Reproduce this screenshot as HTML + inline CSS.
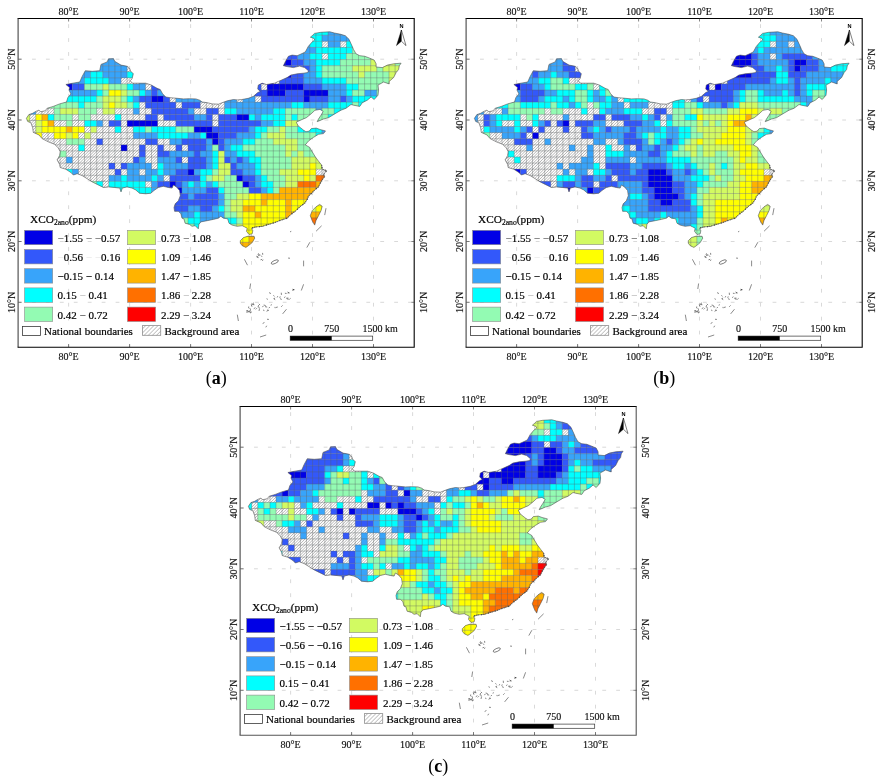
<!DOCTYPE html>
<html lang="en"><head><meta charset="utf-8"><title>XCO2 anomaly maps</title>
<style>html,body{margin:0;padding:0;background:#fff}svg{display:block;font-family:"Liberation Serif",serif}</style></head><body>
<svg width="882" height="782" viewBox="0 0 882 782">
<defs>
<clipPath id="china"><path d="M26.4 118.3 L28.9 114.6 L32.7 113.3 L35.8 111.4 L38.9 110.2 L40.8 111.7 L45.2 110.8 L47.1 108.3 L53.3 106.4 L59.6 103.9 L66.5 102 L67.8 97.7 L70.9 93.9 L69 90.1 L69.6 87.6 L65.9 84.5 L72.8 83.2 L79.7 82 L82.2 76.4 L85.3 70.7 L92.2 71.3 L99.7 70.7 L101 64.4 L107.2 61.9 L108.5 58.8 L113.5 58.6 L114.7 61.3 L121 65.1 L127.3 66.3 L129.5 68.2 L130.8 71.3 L133.3 73.8 L132 78.9 L130.1 80.7 L132.6 83.2 L139.5 83.2 L145.8 83.2 L151.4 85.1 L157.1 88.3 L160.2 89.5 L162.7 93.9 L165.8 97 L170.2 97.7 L177.1 98.3 L183.4 98.9 L189.7 98.7 L195.9 98.9 L199.7 100.2 L202.2 102 L207.2 102.7 L212.2 103.9 L218.5 104.2 L222.2 102.7 L227.3 100.8 L233.5 99.5 L237.3 99.9 L242 99.5 L248.3 98.3 L253.3 96.4 L257.7 92.6 L260.2 91.4 L257.7 88.9 L258.3 85.1 L262.1 83.2 L266.4 84.5 L274.6 83.2 L278.4 81.4 L287.1 77.6 L290.9 75.1 L297.2 73.8 L303.4 73.2 L307.8 72.6 L308.4 70.7 L304.7 67.6 L299.7 66.1 L293.4 67.6 L287.1 66.6 L283.4 65.7 L285.2 61.9 L288.4 56.3 L292.1 55.1 L297.2 55.7 L302.2 53.5 L305.3 51.9 L308.4 46.3 L312.2 41.9 L314.7 40 L314 38.4 L310.4 37.2 L312.2 35.7 L314.5 33.4 L320.8 32.3 L329.9 31.8 L334.4 33 L340.8 34.3 L345.3 35.7 L349 39.3 L351.6 45 L353.5 49.4 L356 53.8 L359.8 55.7 L364.8 56.3 L369.8 58.2 L374.2 60.1 L376.1 63.8 L376.1 67 L382.3 67.6 L387.4 65.1 L393.6 63.8 L401.1 63.2 L399.3 65.7 L398.6 69.5 L396.1 72.6 L393.6 77.6 L389.2 81.4 L389.2 83.9 L383.6 82 L378 85.1 L378.6 90.1 L378 95.2 L374.2 99.5 L371.1 97 L367.3 100.2 L362.3 102.7 L359.8 106.4 L353.5 105.2 L351 104.5 L346 108.3 L341 110.2 L334.7 113.9 L328.5 117.7 L323.5 119 L317.2 121.7 L318.5 119 L321 115.2 L323.2 111.4 L320 109.4 L314.9 110.3 L310.8 114.1 L306.3 117.7 L300.9 120 L296.3 122.2 L298.2 125.9 L303.2 129.9 L305.9 131.7 L309.1 131.2 L311.3 128.6 L316.3 128.1 L320 129.5 L325.5 130.9 L323.5 133.6 L318.5 134.3 L313.4 137.4 L308.4 141.1 L305.3 144.9 L309.7 147.4 L312.2 151.8 L315.3 156.8 L318.5 161.2 L321.6 165 L322.2 169.3 L326.6 170.6 L323.5 174.4 L324.7 176.2 L322.2 180 L320.3 183.1 L318.5 186.9 L314.7 190 L311.6 193.2 L308.4 196.3 L307.2 199.4 L304.7 203.2 L299.7 206.9 L295.9 210.7 L290.9 214.5 L287.1 218.2 L280.9 220.1 L274.6 222.6 L268.3 224.5 L262.1 226.4 L255.9 226.9 L251.5 228.2 L252.8 230.7 L252.2 233.8 L249 234.5 L246.5 231.3 L247.2 228.2 L244.7 226.9 L242.2 225.7 L237.1 226.3 L232.1 225.1 L229 223.2 L227.7 218.8 L223.4 218.2 L220.8 216.3 L218.3 218.2 L213.3 219.4 L207.1 220.7 L200.8 221.9 L198.9 224.4 L198.3 228.8 L195.2 225.7 L192 226.3 L189.5 224.4 L185.1 223.2 L183.9 218.8 L182 218.2 L180.9 213.8 L178.4 211.3 L174.6 211.3 L174 207.6 L175.2 203.8 L178.4 200.7 L180.3 195.7 L179.6 190.6 L176.5 186.9 L173.4 185 L172.1 188.1 L168.4 187.5 L163.3 186.3 L158.3 187.5 L153.9 190.6 L150.8 193.2 L145.8 193.8 L139.5 193.2 L135.8 190 L132 188.1 L127 186.9 L122.3 188.1 L121 191.9 L119.8 188.1 L114.7 187.5 L108.5 186.9 L103.5 187.5 L97.2 184.4 L92.2 181.9 L87.2 178.7 L82.2 175.6 L77.2 173.7 L73.4 175 L70.9 172.5 L65.9 169.3 L60.2 167.5 L59.6 164.3 L57.1 159.9 L59.6 155.6 L60.2 151.8 L58.4 148 L54.6 144.3 L48.3 141.8 L42.1 138.6 L38.9 134.9 L33.3 132.4 L32.7 127.7 L30.8 122.7 L27.7 121.5ZM240.3 240.7 L243.4 237.6 L248.4 236.1 L254.1 236.3 L254.7 238.2 L252.2 242.6 L248.4 245.7 L245.9 247.4 L242.2 245.7 L240.3 243.2ZM319.7 204.4 L322.2 206.3 L321 210.7 L318.5 215.7 L315.9 220.7 L314.7 225.1 L312.2 220.7 L310.3 215.7 L312.2 210.7 L315.9 206.9Z"/></clipPath></defs>
<rect width="882" height="782" fill="#fff"/>
<g transform="translate(0 0)">
<path d="M68.6 24.2V347M129.6 24.2V347M190.6 24.2V347M251.5 24.2V347M312.5 24.2V347M373.5 24.2V347M18.1 302.3H414.5M18.1 241.5H414.5M18.1 180.8H414.5M18.1 120H414.5M18.1 59.2H414.5" stroke="#c4c4c4" stroke-width="0.65" stroke-dasharray="3.8 10.13" fill="none"/>
<clipPath id="hca"><path d="M322 41.3h6.1v6.1h-6.1zM340.3 41.3h6.1v6.1h-6.1zM322 53.5h6.1v6.1h-6.1zM127.1 65.7h18.3v6.1h-18.3zM145.4 71.7h6.1v6.1h-6.1zM121 77.8h18.3v6.1h-18.3zM145.4 77.8h6.1v6.1h-6.1zM273.3 77.8h6.1v6.1h-6.1zM145.4 83.9h6.1v6.1h-6.1zM236.7 83.9h6.1v6.1h-6.1zM261.1 83.9h6.1v6.1h-6.1zM212.4 90h6.1v6.1h-6.1zM236.7 90h6.1v6.1h-6.1zM35.8 96.1h12.2v6.1h-12.2zM169.8 96.1h6.1v6.1h-6.1zM212.4 96.1h6.1v6.1h-6.1zM236.7 96.1h6.1v6.1h-6.1zM255 96.1h6.1v6.1h-6.1zM35.8 102.2h12.2v6.1h-12.2zM139.3 102.2h6.1v6.1h-6.1zM175.8 102.2h6.1v6.1h-6.1zM200.2 102.2h24.4v6.1h-24.4zM35.8 108.3h18.3v6.1h-18.3zM96.7 108.3h6.1v6.1h-6.1zM114.9 108.3h18.3v6.1h-18.3zM139.3 108.3h12.2v6.1h-12.2zM194.1 108.3h12.2v6.1h-12.2zM218.5 108.3h6.1v6.1h-6.1zM29.7 114.4h6.1v6.1h-6.1zM72.3 114.4h6.1v6.1h-6.1zM90.6 114.4h24.4v6.1h-24.4zM121 114.4h24.4v6.1h-24.4zM157.6 114.4h6.1v6.1h-6.1zM212.4 114.4h6.1v6.1h-6.1zM29.7 120.5h6.1v6.1h-6.1zM54 120.5h12.2v6.1h-12.2zM72.3 120.5h12.2v6.1h-12.2zM102.8 120.5h6.1v6.1h-6.1zM121 120.5h6.1v6.1h-6.1zM157.6 120.5h18.3v6.1h-18.3zM212.4 120.5h6.1v6.1h-6.1zM17.5 126.5h18.3v6.1h-18.3zM84.5 126.5h6.1v6.1h-6.1zM96.7 126.5h18.3v6.1h-18.3zM121 126.5h12.2v6.1h-12.2zM23.6 132.6h12.2v6.1h-12.2zM41.9 132.6h12.2v6.1h-12.2zM78.4 132.6h6.1v6.1h-6.1zM90.6 132.6h42.6v6.1h-42.6zM29.7 138.7h6.1v6.1h-6.1zM41.9 138.7h24.4v6.1h-24.4zM84.5 138.7h12.2v6.1h-12.2zM102.8 138.7h42.6v6.1h-42.6zM157.6 138.7h12.2v6.1h-12.2zM41.9 144.8h36.5v6.1h-36.5zM84.5 144.8h36.5v6.1h-36.5zM127.1 144.8h12.2v6.1h-12.2zM145.4 144.8h12.2v6.1h-12.2zM163.7 144.8h12.2v6.1h-12.2zM181.9 144.8h6.1v6.1h-6.1zM41.9 150.9h12.2v6.1h-12.2zM66.2 150.9h73.1v6.1h-73.1zM145.4 150.9h12.2v6.1h-12.2zM41.9 157h24.4v6.1h-24.4zM72.3 157h60.9v6.1h-60.9zM145.4 157h12.2v6.1h-12.2zM181.9 157h6.1v6.1h-6.1zM41.9 163.1h67v6.1h-67zM114.9 163.1h6.1v6.1h-6.1zM151.5 163.1h6.1v6.1h-6.1zM48 169.2h18.3v6.1h-18.3zM78.4 169.2h36.5v6.1h-36.5zM121 169.2h6.1v6.1h-6.1zM139.3 169.2h6.1v6.1h-6.1zM315.9 169.2h18.3v6.1h-18.3zM54 175.3h12.2v6.1h-12.2zM72.3 175.3h36.5v6.1h-36.5zM163.7 175.3h6.1v6.1h-6.1zM60.1 181.4h6.1v6.1h-6.1zM72.3 181.4h18.3v6.1h-18.3zM102.8 181.4h6.1v6.1h-6.1zM145.4 181.4h6.1v6.1h-6.1zM72.3 187.4h18.3v6.1h-18.3zM102.8 187.4h6.1v6.1h-6.1zM102.8 193.5h6.1v6.1h-6.1z"/></clipPath>
<g clip-path="url(#china)">
<rect x="309.8" y="16.9" width="18.4" height="6.2" fill="#00ffff"/>
<rect x="328" y="16.9" width="18.4" height="6.2" fill="#38a4fa"/>
<rect x="303.7" y="23" width="24.5" height="6.2" fill="#00ffff"/>
<rect x="328" y="23" width="24.5" height="6.2" fill="#38a4fa"/>
<rect x="297.6" y="29.1" width="30.6" height="6.2" fill="#00ffff"/>
<rect x="328" y="29.1" width="30.6" height="6.2" fill="#38a4fa"/>
<rect x="297.6" y="35.2" width="24.5" height="6.2" fill="#00ffff"/>
<rect x="321.9" y="35.2" width="42.7" height="6.2" fill="#38a4fa"/>
<rect x="102.7" y="41.2" width="12.3" height="6.2" fill="#38a4fa"/>
<rect x="285.4" y="41.2" width="6.2" height="6.2" fill="#3358fa"/>
<rect x="291.5" y="41.2" width="18.4" height="6.2" fill="#38a4fa"/>
<rect x="309.8" y="41.2" width="12.3" height="6.2" fill="#00ffff"/>
<rect x="328" y="41.2" width="12.3" height="6.2" fill="#38a4fa"/>
<rect x="346.3" y="41.2" width="24.5" height="6.2" fill="#00ffff"/>
<rect x="96.6" y="47.3" width="36.6" height="6.2" fill="#38a4fa"/>
<rect x="279.3" y="47.3" width="12.3" height="6.2" fill="#3358fa"/>
<rect x="291.5" y="47.3" width="24.5" height="6.2" fill="#38a4fa"/>
<rect x="315.9" y="47.3" width="36.6" height="6.2" fill="#00ffff"/>
<rect x="352.4" y="47.3" width="24.5" height="6.2" fill="#93fbb3"/>
<rect x="388.9" y="47.3" width="6.2" height="6.2" fill="#d2fa62"/>
<rect x="395" y="47.3" width="6.2" height="6.2" fill="#93fbb3"/>
<rect x="84.4" y="53.4" width="54.9" height="6.2" fill="#38a4fa"/>
<rect x="273.2" y="53.4" width="24.5" height="6.2" fill="#3358fa"/>
<rect x="297.6" y="53.4" width="12.3" height="6.2" fill="#38a4fa"/>
<rect x="309.8" y="53.4" width="12.3" height="6.2" fill="#00ffff"/>
<rect x="328" y="53.4" width="18.4" height="6.2" fill="#00ffff"/>
<rect x="346.3" y="53.4" width="36.6" height="6.2" fill="#93fbb3"/>
<rect x="382.8" y="53.4" width="12.3" height="6.2" fill="#d2fa62"/>
<rect x="395" y="53.4" width="12.3" height="6.2" fill="#93fbb3"/>
<rect x="78.4" y="59.5" width="67.1" height="6.2" fill="#38a4fa"/>
<rect x="267.1" y="59.5" width="24.5" height="6.2" fill="#0000e6"/>
<rect x="291.5" y="59.5" width="12.3" height="6.2" fill="#3358fa"/>
<rect x="303.7" y="59.5" width="12.3" height="6.2" fill="#38a4fa"/>
<rect x="315.9" y="59.5" width="24.5" height="6.2" fill="#00ffff"/>
<rect x="340.2" y="59.5" width="30.6" height="6.2" fill="#93fbb3"/>
<rect x="370.7" y="59.5" width="24.5" height="6.2" fill="#d2fa62"/>
<rect x="395" y="59.5" width="18.4" height="6.2" fill="#93fbb3"/>
<rect x="72.3" y="65.6" width="54.9" height="6.2" fill="#38a4fa"/>
<rect x="267.1" y="65.6" width="18.4" height="6.2" fill="#0000e6"/>
<rect x="285.4" y="65.6" width="24.5" height="6.2" fill="#3358fa"/>
<rect x="309.8" y="65.6" width="6.2" height="6.2" fill="#38a4fa"/>
<rect x="315.9" y="65.6" width="6.2" height="6.2" fill="#00ffff"/>
<rect x="321.9" y="65.6" width="30.6" height="6.2" fill="#93fbb3"/>
<rect x="352.4" y="65.6" width="24.5" height="6.2" fill="#d2fa62"/>
<rect x="376.8" y="65.6" width="6.2" height="6.2" fill="#93fbb3"/>
<rect x="382.8" y="65.6" width="30.6" height="6.2" fill="#d2fa62"/>
<rect x="60.1" y="71.7" width="6.2" height="6.2" fill="#0000e6"/>
<rect x="66.2" y="71.7" width="24.5" height="6.2" fill="#38a4fa"/>
<rect x="90.5" y="71.7" width="12.3" height="6.2" fill="#00ffff"/>
<rect x="102.7" y="71.7" width="24.5" height="6.2" fill="#38a4fa"/>
<rect x="127.1" y="71.7" width="18.4" height="6.2" fill="#00ffff"/>
<rect x="151.4" y="71.7" width="12.3" height="6.2" fill="#3358fa"/>
<rect x="255" y="71.7" width="6.2" height="6.2" fill="#3358fa"/>
<rect x="261.1" y="71.7" width="12.3" height="6.2" fill="#0000e6"/>
<rect x="273.2" y="71.7" width="12.3" height="6.2" fill="#3358fa"/>
<rect x="285.4" y="71.7" width="6.2" height="6.2" fill="#0000e6"/>
<rect x="291.5" y="71.7" width="12.3" height="6.2" fill="#3358fa"/>
<rect x="303.7" y="71.7" width="12.3" height="6.2" fill="#38a4fa"/>
<rect x="315.9" y="71.7" width="6.2" height="6.2" fill="#00ffff"/>
<rect x="321.9" y="71.7" width="36.6" height="6.2" fill="#93fbb3"/>
<rect x="358.5" y="71.7" width="6.2" height="6.2" fill="#d2fa62"/>
<rect x="364.6" y="71.7" width="24.5" height="6.2" fill="#93fbb3"/>
<rect x="388.9" y="71.7" width="18.4" height="6.2" fill="#d2fa62"/>
<rect x="54" y="77.8" width="18.4" height="6.2" fill="#0000e6"/>
<rect x="72.3" y="77.8" width="12.3" height="6.2" fill="#38a4fa"/>
<rect x="84.4" y="77.8" width="24.5" height="6.2" fill="#00ffff"/>
<rect x="108.8" y="77.8" width="12.3" height="6.2" fill="#38a4fa"/>
<rect x="139.2" y="77.8" width="6.2" height="6.2" fill="#38a4fa"/>
<rect x="151.4" y="77.8" width="18.4" height="6.2" fill="#3358fa"/>
<rect x="248.9" y="77.8" width="12.3" height="6.2" fill="#3358fa"/>
<rect x="261.1" y="77.8" width="12.3" height="6.2" fill="#0000e6"/>
<rect x="279.3" y="77.8" width="24.5" height="6.2" fill="#3358fa"/>
<rect x="303.7" y="77.8" width="18.4" height="6.2" fill="#38a4fa"/>
<rect x="321.9" y="77.8" width="24.5" height="6.2" fill="#00ffff"/>
<rect x="346.3" y="77.8" width="42.7" height="6.2" fill="#93fbb3"/>
<rect x="388.9" y="77.8" width="12.3" height="6.2" fill="#d2fa62"/>
<rect x="47.9" y="83.9" width="24.5" height="6.2" fill="#0000e6"/>
<rect x="72.3" y="83.9" width="12.3" height="6.2" fill="#3358fa"/>
<rect x="84.4" y="83.9" width="18.4" height="6.2" fill="#93fbb3"/>
<rect x="102.7" y="83.9" width="6.2" height="6.2" fill="#d2fa62"/>
<rect x="108.8" y="83.9" width="18.4" height="6.2" fill="#93fbb3"/>
<rect x="127.1" y="83.9" width="6.2" height="6.2" fill="#00ffff"/>
<rect x="133.2" y="83.9" width="12.3" height="6.2" fill="#38a4fa"/>
<rect x="151.4" y="83.9" width="24.5" height="6.2" fill="#3358fa"/>
<rect x="175.8" y="83.9" width="30.6" height="6.2" fill="#38a4fa"/>
<rect x="224.5" y="83.9" width="12.3" height="6.2" fill="#38a4fa"/>
<rect x="242.8" y="83.9" width="18.4" height="6.2" fill="#3358fa"/>
<rect x="267.1" y="83.9" width="36.6" height="6.2" fill="#0000e6"/>
<rect x="303.7" y="83.9" width="18.4" height="6.2" fill="#3358fa"/>
<rect x="321.9" y="83.9" width="24.5" height="6.2" fill="#38a4fa"/>
<rect x="346.3" y="83.9" width="12.3" height="6.2" fill="#00ffff"/>
<rect x="358.5" y="83.9" width="30.6" height="6.2" fill="#93fbb3"/>
<rect x="388.9" y="83.9" width="6.2" height="6.2" fill="#d2fa62"/>
<rect x="54" y="90" width="12.3" height="6.2" fill="#0000e6"/>
<rect x="66.2" y="90" width="30.6" height="6.2" fill="#38a4fa"/>
<rect x="96.6" y="90" width="6.2" height="6.2" fill="#00ffff"/>
<rect x="102.7" y="90" width="6.2" height="6.2" fill="#93fbb3"/>
<rect x="108.8" y="90" width="12.3" height="6.2" fill="#ffff00"/>
<rect x="121" y="90" width="6.2" height="6.2" fill="#d2fa62"/>
<rect x="127.1" y="90" width="12.3" height="6.2" fill="#93fbb3"/>
<rect x="139.2" y="90" width="6.2" height="6.2" fill="#00ffff"/>
<rect x="145.3" y="90" width="6.2" height="6.2" fill="#38a4fa"/>
<rect x="151.4" y="90" width="6.2" height="6.2" fill="#3358fa"/>
<rect x="157.5" y="90" width="54.9" height="6.2" fill="#38a4fa"/>
<rect x="218.4" y="90" width="18.4" height="6.2" fill="#38a4fa"/>
<rect x="242.8" y="90" width="6.2" height="6.2" fill="#38a4fa"/>
<rect x="248.9" y="90" width="18.4" height="6.2" fill="#3358fa"/>
<rect x="267.1" y="90" width="18.4" height="6.2" fill="#0000e6"/>
<rect x="285.4" y="90" width="18.4" height="6.2" fill="#3358fa"/>
<rect x="303.7" y="90" width="24.5" height="6.2" fill="#0000e6"/>
<rect x="328" y="90" width="18.4" height="6.2" fill="#38a4fa"/>
<rect x="346.3" y="90" width="6.2" height="6.2" fill="#00ffff"/>
<rect x="352.4" y="90" width="12.3" height="6.2" fill="#93fbb3"/>
<rect x="364.6" y="90" width="12.3" height="6.2" fill="#38a4fa"/>
<rect x="376.8" y="90" width="12.3" height="6.2" fill="#93fbb3"/>
<rect x="29.6" y="96" width="6.2" height="6.2" fill="#38a4fa"/>
<rect x="47.9" y="96" width="12.3" height="6.2" fill="#93fbb3"/>
<rect x="60.1" y="96" width="36.6" height="6.2" fill="#00ffff"/>
<rect x="96.6" y="96" width="6.2" height="6.2" fill="#93fbb3"/>
<rect x="102.7" y="96" width="18.4" height="6.2" fill="#d2fa62"/>
<rect x="121" y="96" width="6.2" height="6.2" fill="#93fbb3"/>
<rect x="127.1" y="96" width="6.2" height="6.2" fill="#00ffff"/>
<rect x="133.2" y="96" width="6.2" height="6.2" fill="#38a4fa"/>
<rect x="139.2" y="96" width="12.3" height="6.2" fill="#3358fa"/>
<rect x="151.4" y="96" width="12.3" height="6.2" fill="#0000e6"/>
<rect x="163.6" y="96" width="6.2" height="6.2" fill="#3358fa"/>
<rect x="175.8" y="96" width="36.6" height="6.2" fill="#38a4fa"/>
<rect x="218.4" y="96" width="18.4" height="6.2" fill="#38a4fa"/>
<rect x="242.8" y="96" width="12.3" height="6.2" fill="#38a4fa"/>
<rect x="261.1" y="96" width="42.7" height="6.2" fill="#3358fa"/>
<rect x="303.7" y="96" width="6.2" height="6.2" fill="#0000e6"/>
<rect x="309.8" y="96" width="18.4" height="6.2" fill="#3358fa"/>
<rect x="328" y="96" width="12.3" height="6.2" fill="#38a4fa"/>
<rect x="340.2" y="96" width="6.2" height="6.2" fill="#3358fa"/>
<rect x="346.3" y="96" width="6.2" height="6.2" fill="#38a4fa"/>
<rect x="352.4" y="96" width="36.6" height="6.2" fill="#00ffff"/>
<rect x="23.5" y="102.1" width="12.3" height="6.2" fill="#38a4fa"/>
<rect x="47.9" y="102.1" width="30.6" height="6.2" fill="#93fbb3"/>
<rect x="78.4" y="102.1" width="6.2" height="6.2" fill="#00ffff"/>
<rect x="84.4" y="102.1" width="18.4" height="6.2" fill="#93fbb3"/>
<rect x="102.7" y="102.1" width="6.2" height="6.2" fill="#d2fa62"/>
<rect x="108.8" y="102.1" width="6.2" height="6.2" fill="#ffff00"/>
<rect x="114.9" y="102.1" width="12.3" height="6.2" fill="#d2fa62"/>
<rect x="127.1" y="102.1" width="6.2" height="6.2" fill="#93fbb3"/>
<rect x="133.2" y="102.1" width="6.2" height="6.2" fill="#00ffff"/>
<rect x="145.3" y="102.1" width="30.6" height="6.2" fill="#3358fa"/>
<rect x="181.9" y="102.1" width="18.4" height="6.2" fill="#3358fa"/>
<rect x="224.5" y="102.1" width="67.1" height="6.2" fill="#38a4fa"/>
<rect x="291.5" y="102.1" width="12.3" height="6.2" fill="#00ffff"/>
<rect x="303.7" y="102.1" width="24.5" height="6.2" fill="#38a4fa"/>
<rect x="328" y="102.1" width="24.5" height="6.2" fill="#00ffff"/>
<rect x="352.4" y="102.1" width="6.2" height="6.2" fill="#93fbb3"/>
<rect x="358.5" y="102.1" width="24.5" height="6.2" fill="#00ffff"/>
<rect x="17.4" y="108.2" width="18.4" height="6.2" fill="#38a4fa"/>
<rect x="54" y="108.2" width="6.2" height="6.2" fill="#93fbb3"/>
<rect x="60.1" y="108.2" width="18.4" height="6.2" fill="#d2fa62"/>
<rect x="78.4" y="108.2" width="18.4" height="6.2" fill="#93fbb3"/>
<rect x="102.7" y="108.2" width="12.3" height="6.2" fill="#d2fa62"/>
<rect x="133.2" y="108.2" width="6.2" height="6.2" fill="#38a4fa"/>
<rect x="151.4" y="108.2" width="36.6" height="6.2" fill="#3358fa"/>
<rect x="188" y="108.2" width="6.2" height="6.2" fill="#38a4fa"/>
<rect x="206.2" y="108.2" width="12.3" height="6.2" fill="#3358fa"/>
<rect x="224.5" y="108.2" width="12.3" height="6.2" fill="#00ffff"/>
<rect x="236.7" y="108.2" width="36.6" height="6.2" fill="#38a4fa"/>
<rect x="273.2" y="108.2" width="12.3" height="6.2" fill="#00ffff"/>
<rect x="285.4" y="108.2" width="30.6" height="6.2" fill="#93fbb3"/>
<rect x="315.9" y="108.2" width="6.2" height="6.2" fill="#38a4fa"/>
<rect x="321.9" y="108.2" width="12.3" height="6.2" fill="#93fbb3"/>
<rect x="334.1" y="108.2" width="18.4" height="6.2" fill="#00ffff"/>
<rect x="352.4" y="108.2" width="6.2" height="6.2" fill="#93fbb3"/>
<rect x="358.5" y="108.2" width="18.4" height="6.2" fill="#00ffff"/>
<rect x="11.4" y="114.3" width="18.4" height="6.2" fill="#d2fa62"/>
<rect x="35.7" y="114.3" width="6.2" height="6.2" fill="#ffff00"/>
<rect x="41.8" y="114.3" width="6.2" height="6.2" fill="#ffb300"/>
<rect x="47.9" y="114.3" width="6.2" height="6.2" fill="#00ffff"/>
<rect x="54" y="114.3" width="18.4" height="6.2" fill="#93fbb3"/>
<rect x="78.4" y="114.3" width="12.3" height="6.2" fill="#93fbb3"/>
<rect x="114.9" y="114.3" width="6.2" height="6.2" fill="#00ffff"/>
<rect x="145.3" y="114.3" width="12.3" height="6.2" fill="#3358fa"/>
<rect x="163.6" y="114.3" width="30.6" height="6.2" fill="#3358fa"/>
<rect x="194.1" y="114.3" width="12.3" height="6.2" fill="#38a4fa"/>
<rect x="206.2" y="114.3" width="6.2" height="6.2" fill="#3358fa"/>
<rect x="218.4" y="114.3" width="18.4" height="6.2" fill="#3358fa"/>
<rect x="236.7" y="114.3" width="12.3" height="6.2" fill="#0000e6"/>
<rect x="248.9" y="114.3" width="6.2" height="6.2" fill="#00ffff"/>
<rect x="255" y="114.3" width="6.2" height="6.2" fill="#38a4fa"/>
<rect x="261.1" y="114.3" width="24.5" height="6.2" fill="#00ffff"/>
<rect x="285.4" y="114.3" width="6.2" height="6.2" fill="#93fbb3"/>
<rect x="291.5" y="114.3" width="6.2" height="6.2" fill="#00ffff"/>
<rect x="297.6" y="114.3" width="30.6" height="6.2" fill="#93fbb3"/>
<rect x="328" y="114.3" width="24.5" height="6.2" fill="#00ffff"/>
<rect x="352.4" y="114.3" width="6.2" height="6.2" fill="#93fbb3"/>
<rect x="17.4" y="120.4" width="12.3" height="6.2" fill="#d2fa62"/>
<rect x="35.7" y="120.4" width="6.2" height="6.2" fill="#d2fa62"/>
<rect x="41.8" y="120.4" width="6.2" height="6.2" fill="#ffff00"/>
<rect x="47.9" y="120.4" width="6.2" height="6.2" fill="#ffb300"/>
<rect x="66.2" y="120.4" width="6.2" height="6.2" fill="#93fbb3"/>
<rect x="84.4" y="120.4" width="12.3" height="6.2" fill="#00ffff"/>
<rect x="96.6" y="120.4" width="6.2" height="6.2" fill="#38a4fa"/>
<rect x="108.8" y="120.4" width="12.3" height="6.2" fill="#3358fa"/>
<rect x="127.1" y="120.4" width="30.6" height="6.2" fill="#0000e6"/>
<rect x="175.8" y="120.4" width="36.6" height="6.2" fill="#3358fa"/>
<rect x="218.4" y="120.4" width="42.7" height="6.2" fill="#3358fa"/>
<rect x="261.1" y="120.4" width="12.3" height="6.2" fill="#38a4fa"/>
<rect x="273.2" y="120.4" width="12.3" height="6.2" fill="#00ffff"/>
<rect x="285.4" y="120.4" width="12.3" height="6.2" fill="#d2fa62"/>
<rect x="297.6" y="120.4" width="12.3" height="6.2" fill="#93fbb3"/>
<rect x="309.8" y="120.4" width="6.2" height="6.2" fill="#00ffff"/>
<rect x="315.9" y="120.4" width="12.3" height="6.2" fill="#93fbb3"/>
<rect x="328" y="120.4" width="18.4" height="6.2" fill="#00ffff"/>
<rect x="35.7" y="126.5" width="6.2" height="6.2" fill="#d2fa62"/>
<rect x="41.8" y="126.5" width="24.5" height="6.2" fill="#ffff00"/>
<rect x="66.2" y="126.5" width="6.2" height="6.2" fill="#ffb300"/>
<rect x="72.3" y="126.5" width="12.3" height="6.2" fill="#ffff00"/>
<rect x="90.5" y="126.5" width="6.2" height="6.2" fill="#d2fa62"/>
<rect x="114.9" y="126.5" width="6.2" height="6.2" fill="#00ffff"/>
<rect x="133.2" y="126.5" width="12.3" height="6.2" fill="#00ffff"/>
<rect x="145.3" y="126.5" width="6.2" height="6.2" fill="#93fbb3"/>
<rect x="151.4" y="126.5" width="24.5" height="6.2" fill="#00ffff"/>
<rect x="175.8" y="126.5" width="18.4" height="6.2" fill="#93fbb3"/>
<rect x="194.1" y="126.5" width="18.4" height="6.2" fill="#0000e6"/>
<rect x="212.3" y="126.5" width="36.6" height="6.2" fill="#3358fa"/>
<rect x="248.9" y="126.5" width="6.2" height="6.2" fill="#38a4fa"/>
<rect x="255" y="126.5" width="12.3" height="6.2" fill="#00ffff"/>
<rect x="267.1" y="126.5" width="12.3" height="6.2" fill="#93fbb3"/>
<rect x="279.3" y="126.5" width="6.2" height="6.2" fill="#d2fa62"/>
<rect x="285.4" y="126.5" width="12.3" height="6.2" fill="#93fbb3"/>
<rect x="297.6" y="126.5" width="24.5" height="6.2" fill="#00ffff"/>
<rect x="321.9" y="126.5" width="18.4" height="6.2" fill="#38a4fa"/>
<rect x="35.7" y="132.6" width="6.2" height="6.2" fill="#ffff00"/>
<rect x="54" y="132.6" width="12.3" height="6.2" fill="#ffff00"/>
<rect x="66.2" y="132.6" width="6.2" height="6.2" fill="#d2fa62"/>
<rect x="72.3" y="132.6" width="6.2" height="6.2" fill="#ffff00"/>
<rect x="84.4" y="132.6" width="6.2" height="6.2" fill="#d2fa62"/>
<rect x="133.2" y="132.6" width="24.5" height="6.2" fill="#38a4fa"/>
<rect x="157.5" y="132.6" width="30.6" height="6.2" fill="#00ffff"/>
<rect x="188" y="132.6" width="12.3" height="6.2" fill="#38a4fa"/>
<rect x="200.1" y="132.6" width="6.2" height="6.2" fill="#00ffff"/>
<rect x="206.2" y="132.6" width="12.3" height="6.2" fill="#0000e6"/>
<rect x="218.4" y="132.6" width="18.4" height="6.2" fill="#3358fa"/>
<rect x="236.7" y="132.6" width="18.4" height="6.2" fill="#38a4fa"/>
<rect x="255" y="132.6" width="6.2" height="6.2" fill="#00ffff"/>
<rect x="261.1" y="132.6" width="6.2" height="6.2" fill="#93fbb3"/>
<rect x="267.1" y="132.6" width="18.4" height="6.2" fill="#d2fa62"/>
<rect x="285.4" y="132.6" width="30.6" height="6.2" fill="#93fbb3"/>
<rect x="315.9" y="132.6" width="6.2" height="6.2" fill="#00ffff"/>
<rect x="321.9" y="132.6" width="18.4" height="6.2" fill="#38a4fa"/>
<rect x="35.7" y="138.7" width="6.2" height="6.2" fill="#ffff00"/>
<rect x="66.2" y="138.7" width="18.4" height="6.2" fill="#93fbb3"/>
<rect x="96.6" y="138.7" width="6.2" height="6.2" fill="#3358fa"/>
<rect x="145.3" y="138.7" width="12.3" height="6.2" fill="#3358fa"/>
<rect x="169.7" y="138.7" width="12.3" height="6.2" fill="#38a4fa"/>
<rect x="181.9" y="138.7" width="24.5" height="6.2" fill="#3358fa"/>
<rect x="206.2" y="138.7" width="6.2" height="6.2" fill="#38a4fa"/>
<rect x="212.3" y="138.7" width="6.2" height="6.2" fill="#0000e6"/>
<rect x="218.4" y="138.7" width="6.2" height="6.2" fill="#3358fa"/>
<rect x="224.5" y="138.7" width="18.4" height="6.2" fill="#38a4fa"/>
<rect x="242.8" y="138.7" width="12.3" height="6.2" fill="#00ffff"/>
<rect x="255" y="138.7" width="18.4" height="6.2" fill="#93fbb3"/>
<rect x="273.2" y="138.7" width="24.5" height="6.2" fill="#d2fa62"/>
<rect x="297.6" y="138.7" width="18.4" height="6.2" fill="#93fbb3"/>
<rect x="315.9" y="138.7" width="6.2" height="6.2" fill="#00ffff"/>
<rect x="321.9" y="138.7" width="12.3" height="6.2" fill="#38a4fa"/>
<rect x="35.7" y="144.8" width="6.2" height="6.2" fill="#ffff00"/>
<rect x="78.4" y="144.8" width="6.2" height="6.2" fill="#00ffff"/>
<rect x="121" y="144.8" width="6.2" height="6.2" fill="#0000e6"/>
<rect x="139.2" y="144.8" width="6.2" height="6.2" fill="#3358fa"/>
<rect x="157.5" y="144.8" width="6.2" height="6.2" fill="#3358fa"/>
<rect x="175.8" y="144.8" width="6.2" height="6.2" fill="#3358fa"/>
<rect x="188" y="144.8" width="18.4" height="6.2" fill="#3358fa"/>
<rect x="206.2" y="144.8" width="6.2" height="6.2" fill="#38a4fa"/>
<rect x="212.3" y="144.8" width="6.2" height="6.2" fill="#93fbb3"/>
<rect x="218.4" y="144.8" width="6.2" height="6.2" fill="#3358fa"/>
<rect x="224.5" y="144.8" width="6.2" height="6.2" fill="#38a4fa"/>
<rect x="230.6" y="144.8" width="12.3" height="6.2" fill="#00ffff"/>
<rect x="242.8" y="144.8" width="42.7" height="6.2" fill="#93fbb3"/>
<rect x="285.4" y="144.8" width="12.3" height="6.2" fill="#d2fa62"/>
<rect x="297.6" y="144.8" width="18.4" height="6.2" fill="#93fbb3"/>
<rect x="315.9" y="144.8" width="6.2" height="6.2" fill="#00ffff"/>
<rect x="321.9" y="144.8" width="6.2" height="6.2" fill="#38a4fa"/>
<rect x="54" y="150.9" width="12.3" height="6.2" fill="#93fbb3"/>
<rect x="139.2" y="150.9" width="6.2" height="6.2" fill="#3358fa"/>
<rect x="157.5" y="150.9" width="12.3" height="6.2" fill="#3358fa"/>
<rect x="169.7" y="150.9" width="24.5" height="6.2" fill="#38a4fa"/>
<rect x="194.1" y="150.9" width="6.2" height="6.2" fill="#3358fa"/>
<rect x="200.1" y="150.9" width="12.3" height="6.2" fill="#38a4fa"/>
<rect x="212.3" y="150.9" width="6.2" height="6.2" fill="#00ffff"/>
<rect x="218.4" y="150.9" width="6.2" height="6.2" fill="#d2fa62"/>
<rect x="224.5" y="150.9" width="12.3" height="6.2" fill="#38a4fa"/>
<rect x="236.7" y="150.9" width="18.4" height="6.2" fill="#00ffff"/>
<rect x="255" y="150.9" width="30.6" height="6.2" fill="#93fbb3"/>
<rect x="285.4" y="150.9" width="6.2" height="6.2" fill="#d2fa62"/>
<rect x="291.5" y="150.9" width="6.2" height="6.2" fill="#93fbb3"/>
<rect x="297.6" y="150.9" width="6.2" height="6.2" fill="#d2fa62"/>
<rect x="303.7" y="150.9" width="24.5" height="6.2" fill="#93fbb3"/>
<rect x="66.2" y="156.9" width="6.2" height="6.2" fill="#38a4fa"/>
<rect x="133.2" y="156.9" width="6.2" height="6.2" fill="#3358fa"/>
<rect x="139.2" y="156.9" width="6.2" height="6.2" fill="#38a4fa"/>
<rect x="157.5" y="156.9" width="18.4" height="6.2" fill="#38a4fa"/>
<rect x="175.8" y="156.9" width="6.2" height="6.2" fill="#3358fa"/>
<rect x="188" y="156.9" width="18.4" height="6.2" fill="#3358fa"/>
<rect x="206.2" y="156.9" width="6.2" height="6.2" fill="#38a4fa"/>
<rect x="212.3" y="156.9" width="6.2" height="6.2" fill="#00ffff"/>
<rect x="218.4" y="156.9" width="6.2" height="6.2" fill="#d2fa62"/>
<rect x="224.5" y="156.9" width="6.2" height="6.2" fill="#3358fa"/>
<rect x="230.6" y="156.9" width="6.2" height="6.2" fill="#38a4fa"/>
<rect x="236.7" y="156.9" width="6.2" height="6.2" fill="#3358fa"/>
<rect x="242.8" y="156.9" width="6.2" height="6.2" fill="#38a4fa"/>
<rect x="248.9" y="156.9" width="12.3" height="6.2" fill="#00ffff"/>
<rect x="261.1" y="156.9" width="30.6" height="6.2" fill="#93fbb3"/>
<rect x="291.5" y="156.9" width="36.6" height="6.2" fill="#d2fa62"/>
<rect x="108.8" y="163" width="6.2" height="6.2" fill="#3358fa"/>
<rect x="121" y="163" width="6.2" height="6.2" fill="#3358fa"/>
<rect x="127.1" y="163" width="24.5" height="6.2" fill="#38a4fa"/>
<rect x="157.5" y="163" width="6.2" height="6.2" fill="#00ffff"/>
<rect x="163.6" y="163" width="24.5" height="6.2" fill="#38a4fa"/>
<rect x="188" y="163" width="18.4" height="6.2" fill="#3358fa"/>
<rect x="206.2" y="163" width="6.2" height="6.2" fill="#38a4fa"/>
<rect x="212.3" y="163" width="6.2" height="6.2" fill="#00ffff"/>
<rect x="218.4" y="163" width="12.3" height="6.2" fill="#d2fa62"/>
<rect x="230.6" y="163" width="6.2" height="6.2" fill="#3358fa"/>
<rect x="236.7" y="163" width="18.4" height="6.2" fill="#38a4fa"/>
<rect x="255" y="163" width="6.2" height="6.2" fill="#00ffff"/>
<rect x="261.1" y="163" width="30.6" height="6.2" fill="#93fbb3"/>
<rect x="291.5" y="163" width="18.4" height="6.2" fill="#d2fa62"/>
<rect x="309.8" y="163" width="6.2" height="6.2" fill="#ffff00"/>
<rect x="315.9" y="163" width="18.4" height="6.2" fill="#d2fa62"/>
<rect x="66.2" y="169.1" width="6.2" height="6.2" fill="#00ffff"/>
<rect x="72.3" y="169.1" width="6.2" height="6.2" fill="#38a4fa"/>
<rect x="114.9" y="169.1" width="6.2" height="6.2" fill="#3358fa"/>
<rect x="127.1" y="169.1" width="12.3" height="6.2" fill="#38a4fa"/>
<rect x="145.3" y="169.1" width="12.3" height="6.2" fill="#38a4fa"/>
<rect x="157.5" y="169.1" width="6.2" height="6.2" fill="#00ffff"/>
<rect x="163.6" y="169.1" width="12.3" height="6.2" fill="#38a4fa"/>
<rect x="175.8" y="169.1" width="12.3" height="6.2" fill="#3358fa"/>
<rect x="188" y="169.1" width="6.2" height="6.2" fill="#0000e6"/>
<rect x="194.1" y="169.1" width="6.2" height="6.2" fill="#38a4fa"/>
<rect x="200.1" y="169.1" width="12.3" height="6.2" fill="#00ffff"/>
<rect x="212.3" y="169.1" width="6.2" height="6.2" fill="#93fbb3"/>
<rect x="218.4" y="169.1" width="12.3" height="6.2" fill="#d2fa62"/>
<rect x="230.6" y="169.1" width="12.3" height="6.2" fill="#3358fa"/>
<rect x="242.8" y="169.1" width="12.3" height="6.2" fill="#38a4fa"/>
<rect x="255" y="169.1" width="6.2" height="6.2" fill="#00ffff"/>
<rect x="261.1" y="169.1" width="18.4" height="6.2" fill="#93fbb3"/>
<rect x="279.3" y="169.1" width="18.4" height="6.2" fill="#d2fa62"/>
<rect x="297.6" y="169.1" width="18.4" height="6.2" fill="#ffff00"/>
<rect x="66.2" y="175.2" width="6.2" height="6.2" fill="#00ffff"/>
<rect x="108.8" y="175.2" width="12.3" height="6.2" fill="#38a4fa"/>
<rect x="121" y="175.2" width="6.2" height="6.2" fill="#00ffff"/>
<rect x="127.1" y="175.2" width="24.5" height="6.2" fill="#38a4fa"/>
<rect x="151.4" y="175.2" width="6.2" height="6.2" fill="#00ffff"/>
<rect x="157.5" y="175.2" width="6.2" height="6.2" fill="#38a4fa"/>
<rect x="169.7" y="175.2" width="30.6" height="6.2" fill="#3358fa"/>
<rect x="200.1" y="175.2" width="6.2" height="6.2" fill="#00ffff"/>
<rect x="206.2" y="175.2" width="6.2" height="6.2" fill="#93fbb3"/>
<rect x="212.3" y="175.2" width="12.3" height="6.2" fill="#d2fa62"/>
<rect x="224.5" y="175.2" width="12.3" height="6.2" fill="#93fbb3"/>
<rect x="236.7" y="175.2" width="6.2" height="6.2" fill="#0000e6"/>
<rect x="242.8" y="175.2" width="12.3" height="6.2" fill="#3358fa"/>
<rect x="255" y="175.2" width="6.2" height="6.2" fill="#38a4fa"/>
<rect x="261.1" y="175.2" width="6.2" height="6.2" fill="#00ffff"/>
<rect x="267.1" y="175.2" width="18.4" height="6.2" fill="#93fbb3"/>
<rect x="285.4" y="175.2" width="18.4" height="6.2" fill="#d2fa62"/>
<rect x="303.7" y="175.2" width="6.2" height="6.2" fill="#ffff00"/>
<rect x="309.8" y="175.2" width="6.2" height="6.2" fill="#d2fa62"/>
<rect x="315.9" y="175.2" width="18.4" height="6.2" fill="#ff7000"/>
<rect x="66.2" y="181.3" width="6.2" height="6.2" fill="#00ffff"/>
<rect x="90.5" y="181.3" width="6.2" height="6.2" fill="#93fbb3"/>
<rect x="96.6" y="181.3" width="6.2" height="6.2" fill="#00ffff"/>
<rect x="108.8" y="181.3" width="36.6" height="6.2" fill="#00ffff"/>
<rect x="151.4" y="181.3" width="6.2" height="6.2" fill="#38a4fa"/>
<rect x="157.5" y="181.3" width="12.3" height="6.2" fill="#3358fa"/>
<rect x="169.7" y="181.3" width="6.2" height="6.2" fill="#0000e6"/>
<rect x="175.8" y="181.3" width="6.2" height="6.2" fill="#3358fa"/>
<rect x="181.9" y="181.3" width="6.2" height="6.2" fill="#38a4fa"/>
<rect x="188" y="181.3" width="6.2" height="6.2" fill="#00ffff"/>
<rect x="194.1" y="181.3" width="6.2" height="6.2" fill="#38a4fa"/>
<rect x="200.1" y="181.3" width="6.2" height="6.2" fill="#00ffff"/>
<rect x="206.2" y="181.3" width="6.2" height="6.2" fill="#38a4fa"/>
<rect x="212.3" y="181.3" width="6.2" height="6.2" fill="#00ffff"/>
<rect x="218.4" y="181.3" width="24.5" height="6.2" fill="#93fbb3"/>
<rect x="242.8" y="181.3" width="6.2" height="6.2" fill="#0000e6"/>
<rect x="248.9" y="181.3" width="6.2" height="6.2" fill="#3358fa"/>
<rect x="255" y="181.3" width="6.2" height="6.2" fill="#38a4fa"/>
<rect x="261.1" y="181.3" width="12.3" height="6.2" fill="#00ffff"/>
<rect x="273.2" y="181.3" width="12.3" height="6.2" fill="#93fbb3"/>
<rect x="285.4" y="181.3" width="12.3" height="6.2" fill="#d2fa62"/>
<rect x="297.6" y="181.3" width="18.4" height="6.2" fill="#ff7000"/>
<rect x="315.9" y="181.3" width="18.4" height="6.2" fill="#ffb300"/>
<rect x="90.5" y="187.4" width="6.2" height="6.2" fill="#93fbb3"/>
<rect x="96.6" y="187.4" width="6.2" height="6.2" fill="#00ffff"/>
<rect x="108.8" y="187.4" width="42.7" height="6.2" fill="#00ffff"/>
<rect x="151.4" y="187.4" width="6.2" height="6.2" fill="#38a4fa"/>
<rect x="157.5" y="187.4" width="12.3" height="6.2" fill="#3358fa"/>
<rect x="169.7" y="187.4" width="12.3" height="6.2" fill="#0000e6"/>
<rect x="181.9" y="187.4" width="24.5" height="6.2" fill="#38a4fa"/>
<rect x="206.2" y="187.4" width="12.3" height="6.2" fill="#3358fa"/>
<rect x="218.4" y="187.4" width="6.2" height="6.2" fill="#00ffff"/>
<rect x="224.5" y="187.4" width="24.5" height="6.2" fill="#93fbb3"/>
<rect x="248.9" y="187.4" width="12.3" height="6.2" fill="#3358fa"/>
<rect x="261.1" y="187.4" width="6.2" height="6.2" fill="#38a4fa"/>
<rect x="267.1" y="187.4" width="6.2" height="6.2" fill="#00ffff"/>
<rect x="273.2" y="187.4" width="6.2" height="6.2" fill="#93fbb3"/>
<rect x="279.3" y="187.4" width="48.8" height="6.2" fill="#ffb300"/>
<rect x="90.5" y="193.5" width="6.2" height="6.2" fill="#93fbb3"/>
<rect x="96.6" y="193.5" width="6.2" height="6.2" fill="#00ffff"/>
<rect x="108.8" y="193.5" width="42.7" height="6.2" fill="#00ffff"/>
<rect x="151.4" y="193.5" width="6.2" height="6.2" fill="#38a4fa"/>
<rect x="157.5" y="193.5" width="30.6" height="6.2" fill="#3358fa"/>
<rect x="188" y="193.5" width="6.2" height="6.2" fill="#38a4fa"/>
<rect x="194.1" y="193.5" width="24.5" height="6.2" fill="#3358fa"/>
<rect x="218.4" y="193.5" width="6.2" height="6.2" fill="#38a4fa"/>
<rect x="224.5" y="193.5" width="12.3" height="6.2" fill="#93fbb3"/>
<rect x="236.7" y="193.5" width="12.3" height="6.2" fill="#d2fa62"/>
<rect x="248.9" y="193.5" width="12.3" height="6.2" fill="#ffff00"/>
<rect x="261.1" y="193.5" width="61" height="6.2" fill="#ffb300"/>
<rect x="114.9" y="199.6" width="36.6" height="6.2" fill="#00ffff"/>
<rect x="151.4" y="199.6" width="6.2" height="6.2" fill="#38a4fa"/>
<rect x="157.5" y="199.6" width="61" height="6.2" fill="#3358fa"/>
<rect x="218.4" y="199.6" width="6.2" height="6.2" fill="#38a4fa"/>
<rect x="224.5" y="199.6" width="6.2" height="6.2" fill="#93fbb3"/>
<rect x="230.6" y="199.6" width="12.3" height="6.2" fill="#d2fa62"/>
<rect x="242.8" y="199.6" width="18.4" height="6.2" fill="#ffff00"/>
<rect x="261.1" y="199.6" width="6.2" height="6.2" fill="#ffb300"/>
<rect x="267.1" y="199.6" width="18.4" height="6.2" fill="#ffff00"/>
<rect x="285.4" y="199.6" width="6.2" height="6.2" fill="#ffb300"/>
<rect x="291.5" y="199.6" width="36.6" height="6.2" fill="#ffff00"/>
<rect x="157.5" y="205.7" width="30.6" height="6.2" fill="#3358fa"/>
<rect x="188" y="205.7" width="12.3" height="6.2" fill="#38a4fa"/>
<rect x="200.1" y="205.7" width="12.3" height="6.2" fill="#3358fa"/>
<rect x="212.3" y="205.7" width="6.2" height="6.2" fill="#38a4fa"/>
<rect x="218.4" y="205.7" width="6.2" height="6.2" fill="#00ffff"/>
<rect x="224.5" y="205.7" width="6.2" height="6.2" fill="#93fbb3"/>
<rect x="230.6" y="205.7" width="12.3" height="6.2" fill="#d2fa62"/>
<rect x="242.8" y="205.7" width="12.3" height="6.2" fill="#ffb300"/>
<rect x="255" y="205.7" width="30.6" height="6.2" fill="#ffff00"/>
<rect x="285.4" y="205.7" width="6.2" height="6.2" fill="#ffb300"/>
<rect x="291.5" y="205.7" width="18.4" height="6.2" fill="#ffff00"/>
<rect x="309.8" y="205.7" width="6.2" height="6.2" fill="#d2fa62"/>
<rect x="315.9" y="205.7" width="18.4" height="6.2" fill="#ffff00"/>
<rect x="163.6" y="211.8" width="12.3" height="6.2" fill="#3358fa"/>
<rect x="175.8" y="211.8" width="18.4" height="6.2" fill="#38a4fa"/>
<rect x="194.1" y="211.8" width="6.2" height="6.2" fill="#00ffff"/>
<rect x="200.1" y="211.8" width="24.5" height="6.2" fill="#38a4fa"/>
<rect x="224.5" y="211.8" width="12.3" height="6.2" fill="#93fbb3"/>
<rect x="236.7" y="211.8" width="6.2" height="6.2" fill="#d2fa62"/>
<rect x="242.8" y="211.8" width="12.3" height="6.2" fill="#ffff00"/>
<rect x="255" y="211.8" width="6.2" height="6.2" fill="#ffb300"/>
<rect x="261.1" y="211.8" width="24.5" height="6.2" fill="#ffff00"/>
<rect x="285.4" y="211.8" width="12.3" height="6.2" fill="#ffb300"/>
<rect x="297.6" y="211.8" width="6.2" height="6.2" fill="#ffff00"/>
<rect x="303.7" y="211.8" width="30.6" height="6.2" fill="#ffb300"/>
<rect x="169.7" y="217.8" width="6.2" height="6.2" fill="#3358fa"/>
<rect x="175.8" y="217.8" width="6.2" height="6.2" fill="#38a4fa"/>
<rect x="181.9" y="217.8" width="6.2" height="6.2" fill="#93fbb3"/>
<rect x="188" y="217.8" width="12.3" height="6.2" fill="#00ffff"/>
<rect x="200.1" y="217.8" width="24.5" height="6.2" fill="#38a4fa"/>
<rect x="224.5" y="217.8" width="12.3" height="6.2" fill="#00ffff"/>
<rect x="236.7" y="217.8" width="6.2" height="6.2" fill="#93fbb3"/>
<rect x="242.8" y="217.8" width="42.7" height="6.2" fill="#ffff00"/>
<rect x="285.4" y="217.8" width="12.3" height="6.2" fill="#ffb300"/>
<rect x="297.6" y="217.8" width="6.2" height="6.2" fill="#ffff00"/>
<rect x="303.7" y="217.8" width="30.6" height="6.2" fill="#ff7000"/>
<rect x="175.8" y="223.9" width="6.2" height="6.2" fill="#38a4fa"/>
<rect x="181.9" y="223.9" width="12.3" height="6.2" fill="#93fbb3"/>
<rect x="194.1" y="223.9" width="6.2" height="6.2" fill="#00ffff"/>
<rect x="200.1" y="223.9" width="24.5" height="6.2" fill="#38a4fa"/>
<rect x="224.5" y="223.9" width="6.2" height="6.2" fill="#00ffff"/>
<rect x="230.6" y="223.9" width="6.2" height="6.2" fill="#93fbb3"/>
<rect x="236.7" y="223.9" width="6.2" height="6.2" fill="#d2fa62"/>
<rect x="242.8" y="223.9" width="42.7" height="6.2" fill="#ffff00"/>
<rect x="285.4" y="223.9" width="12.3" height="6.2" fill="#ffb300"/>
<rect x="303.7" y="223.9" width="24.5" height="6.2" fill="#ff7000"/>
<rect x="181.9" y="230" width="12.3" height="6.2" fill="#93fbb3"/>
<rect x="194.1" y="230" width="6.2" height="6.2" fill="#00ffff"/>
<rect x="200.1" y="230" width="24.5" height="6.2" fill="#38a4fa"/>
<rect x="224.5" y="230" width="6.2" height="6.2" fill="#00ffff"/>
<rect x="230.6" y="230" width="6.2" height="6.2" fill="#93fbb3"/>
<rect x="236.7" y="230" width="6.2" height="6.2" fill="#d2fa62"/>
<rect x="242.8" y="230" width="42.7" height="6.2" fill="#ffff00"/>
<rect x="309.8" y="230" width="12.3" height="6.2" fill="#ff7000"/>
<rect x="188" y="236.1" width="6.2" height="6.2" fill="#93fbb3"/>
<rect x="194.1" y="236.1" width="6.2" height="6.2" fill="#00ffff"/>
<rect x="224.5" y="236.1" width="24.5" height="6.2" fill="#ffff00"/>
<rect x="248.9" y="236.1" width="18.4" height="6.2" fill="#ffb300"/>
<rect x="224.5" y="242.2" width="42.7" height="6.2" fill="#ffb300"/>
<rect x="230.6" y="248.3" width="30.6" height="6.2" fill="#ffb300"/>
<rect x="236.7" y="254.4" width="18.4" height="6.2" fill="#ffb300"/>
<g clip-path="url(#hca)"><path d="M-147.68 200l164 -164M-144.84 200l164 -164M-142.00 200l164 -164M-139.16 200l164 -164M-136.32 200l164 -164M-133.48 200l164 -164M-130.64 200l164 -164M-127.80 200l164 -164M-124.96 200l164 -164M-122.12 200l164 -164M-119.28 200l164 -164M-116.44 200l164 -164M-113.60 200l164 -164M-110.76 200l164 -164M-107.92 200l164 -164M-105.08 200l164 -164M-102.24 200l164 -164M-99.40 200l164 -164M-96.56 200l164 -164M-93.72 200l164 -164M-90.88 200l164 -164M-88.04 200l164 -164M-85.20 200l164 -164M-82.36 200l164 -164M-79.52 200l164 -164M-76.68 200l164 -164M-73.84 200l164 -164M-71.00 200l164 -164M-68.16 200l164 -164M-65.32 200l164 -164M-62.48 200l164 -164M-59.64 200l164 -164M-56.80 200l164 -164M-53.96 200l164 -164M-51.12 200l164 -164M-48.28 200l164 -164M-45.44 200l164 -164M-42.60 200l164 -164M-39.76 200l164 -164M-36.92 200l164 -164M-34.08 200l164 -164M-31.24 200l164 -164M-28.40 200l164 -164M-25.56 200l164 -164M-22.72 200l164 -164M-19.88 200l164 -164M-17.04 200l164 -164M-14.20 200l164 -164M-11.36 200l164 -164M-8.52 200l164 -164M-5.68 200l164 -164M-2.84 200l164 -164M0.00 200l164 -164M2.84 200l164 -164M5.68 200l164 -164M8.52 200l164 -164M11.36 200l164 -164M14.20 200l164 -164M17.04 200l164 -164M19.88 200l164 -164M22.72 200l164 -164M25.56 200l164 -164M28.40 200l164 -164M31.24 200l164 -164M34.08 200l164 -164M36.92 200l164 -164M39.76 200l164 -164M42.60 200l164 -164M45.44 200l164 -164M48.28 200l164 -164M51.12 200l164 -164M53.96 200l164 -164M56.80 200l164 -164M59.64 200l164 -164M62.48 200l164 -164M65.32 200l164 -164M68.16 200l164 -164M71.00 200l164 -164M73.84 200l164 -164M76.68 200l164 -164M79.52 200l164 -164M82.36 200l164 -164M85.20 200l164 -164M88.04 200l164 -164M90.88 200l164 -164M93.72 200l164 -164M96.56 200l164 -164M99.40 200l164 -164M102.24 200l164 -164M105.08 200l164 -164M107.92 200l164 -164M110.76 200l164 -164M113.60 200l164 -164M116.44 200l164 -164M119.28 200l164 -164M122.12 200l164 -164M124.96 200l164 -164M127.80 200l164 -164M130.64 200l164 -164M133.48 200l164 -164M136.32 200l164 -164M139.16 200l164 -164M142.00 200l164 -164M144.84 200l164 -164M147.68 200l164 -164M150.52 200l164 -164M153.36 200l164 -164M156.20 200l164 -164M159.04 200l164 -164M161.88 200l164 -164M164.72 200l164 -164M167.56 200l164 -164M170.40 200l164 -164M173.24 200l164 -164M176.08 200l164 -164M178.92 200l164 -164M181.76 200l164 -164M184.60 200l164 -164M187.44 200l164 -164M190.28 200l164 -164M193.12 200l164 -164M195.96 200l164 -164M198.80 200l164 -164M201.64 200l164 -164M204.48 200l164 -164M207.32 200l164 -164M210.16 200l164 -164M213.00 200l164 -164M215.84 200l164 -164M218.68 200l164 -164M221.52 200l164 -164M224.36 200l164 -164M227.20 200l164 -164M230.04 200l164 -164M232.88 200l164 -164M235.72 200l164 -164M238.56 200l164 -164M241.40 200l164 -164M244.24 200l164 -164M247.08 200l164 -164M249.92 200l164 -164M252.76 200l164 -164M255.60 200l164 -164M258.44 200l164 -164M261.28 200l164 -164M264.12 200l164 -164M266.96 200l164 -164M269.80 200l164 -164M272.64 200l164 -164M275.48 200l164 -164M278.32 200l164 -164M281.16 200l164 -164M284.00 200l164 -164M286.84 200l164 -164M289.68 200l164 -164M292.52 200l164 -164M295.36 200l164 -164M298.20 200l164 -164M301.04 200l164 -164M303.88 200l164 -164M306.72 200l164 -164M309.56 200l164 -164M312.40 200l164 -164M315.24 200l164 -164M318.08 200l164 -164M320.92 200l164 -164M323.76 200l164 -164M326.60 200l164 -164M329.44 200l164 -164" stroke="#333" stroke-width="0.36" fill="none"/></g>
<path d="M17.5 28V262M23.6 28V262M29.7 28V262M35.8 28V262M41.9 28V262M48 28V262M54 28V262M60.1 28V262M66.2 28V262M72.3 28V262M78.4 28V262M84.5 28V262M90.6 28V262M96.7 28V262M102.8 28V262M108.8 28V262M114.9 28V262M121 28V262M127.1 28V262M133.2 28V262M139.3 28V262M145.4 28V262M151.5 28V262M157.6 28V262M163.7 28V262M169.8 28V262M175.8 28V262M181.9 28V262M188 28V262M194.1 28V262M200.2 28V262M206.3 28V262M212.4 28V262M218.5 28V262M224.6 28V262M230.7 28V262M236.7 28V262M242.8 28V262M248.9 28V262M255 28V262M261.1 28V262M267.2 28V262M273.3 28V262M279.4 28V262M285.5 28V262M291.6 28V262M297.6 28V262M303.7 28V262M309.8 28V262M315.9 28V262M322 28V262M328.1 28V262M334.2 28V262M340.3 28V262M346.4 28V262M352.4 28V262M358.5 28V262M364.6 28V262M370.7 28V262M376.8 28V262M382.9 28V262M389 28V262M395.1 28V262M401.2 28V262M407.3 28V262M413.3 28V262M18 23H412M18 29.1H412M18 35.2H412M18 41.3H412M18 47.4H412M18 53.5H412M18 59.6H412M18 65.7H412M18 71.7H412M18 77.8H412M18 83.9H412M18 90H412M18 96.1H412M18 102.2H412M18 108.3H412M18 114.4H412M18 120.5H412M18 126.5H412M18 132.6H412M18 138.7H412M18 144.8H412M18 150.9H412M18 157H412M18 163.1H412M18 169.2H412M18 175.3H412M18 181.4H412M18 187.4H412M18 193.5H412M18 199.6H412M18 205.7H412M18 211.8H412M18 217.9H412M18 224H412M18 230.1H412M18 236.2H412M18 242.3H412M18 248.4H412M18 254.4H412M18 260.5H412" stroke="#5a5e62" stroke-opacity="0.7" stroke-width="0.5" fill="none"/>
</g>
<path d="M26.4 118.3 L28.9 114.6 L32.7 113.3 L35.8 111.4 L38.9 110.2 L40.8 111.7 L45.2 110.8 L47.1 108.3 L53.3 106.4 L59.6 103.9 L66.5 102 L67.8 97.7 L70.9 93.9 L69 90.1 L69.6 87.6 L65.9 84.5 L72.8 83.2 L79.7 82 L82.2 76.4 L85.3 70.7 L92.2 71.3 L99.7 70.7 L101 64.4 L107.2 61.9 L108.5 58.8 L113.5 58.6 L114.7 61.3 L121 65.1 L127.3 66.3 L129.5 68.2 L130.8 71.3 L133.3 73.8 L132 78.9 L130.1 80.7 L132.6 83.2 L139.5 83.2 L145.8 83.2 L151.4 85.1 L157.1 88.3 L160.2 89.5 L162.7 93.9 L165.8 97 L170.2 97.7 L177.1 98.3 L183.4 98.9 L189.7 98.7 L195.9 98.9 L199.7 100.2 L202.2 102 L207.2 102.7 L212.2 103.9 L218.5 104.2 L222.2 102.7 L227.3 100.8 L233.5 99.5 L237.3 99.9 L242 99.5 L248.3 98.3 L253.3 96.4 L257.7 92.6 L260.2 91.4 L257.7 88.9 L258.3 85.1 L262.1 83.2 L266.4 84.5 L274.6 83.2 L278.4 81.4 L287.1 77.6 L290.9 75.1 L297.2 73.8 L303.4 73.2 L307.8 72.6 L308.4 70.7 L304.7 67.6 L299.7 66.1 L293.4 67.6 L287.1 66.6 L283.4 65.7 L285.2 61.9 L288.4 56.3 L292.1 55.1 L297.2 55.7 L302.2 53.5 L305.3 51.9 L308.4 46.3 L312.2 41.9 L314.7 40 L314 38.4 L310.4 37.2 L312.2 35.7 L314.5 33.4 L320.8 32.3 L329.9 31.8 L334.4 33 L340.8 34.3 L345.3 35.7 L349 39.3 L351.6 45 L353.5 49.4 L356 53.8 L359.8 55.7 L364.8 56.3 L369.8 58.2 L374.2 60.1 L376.1 63.8 L376.1 67 L382.3 67.6 L387.4 65.1 L393.6 63.8 L401.1 63.2 L399.3 65.7 L398.6 69.5 L396.1 72.6 L393.6 77.6 L389.2 81.4 L389.2 83.9 L383.6 82 L378 85.1 L378.6 90.1 L378 95.2 L374.2 99.5 L371.1 97 L367.3 100.2 L362.3 102.7 L359.8 106.4 L353.5 105.2 L351 104.5 L346 108.3 L341 110.2 L334.7 113.9 L328.5 117.7 L323.5 119 L317.2 121.7 L318.5 119 L321 115.2 L323.2 111.4 L320 109.4 L314.9 110.3 L310.8 114.1 L306.3 117.7 L300.9 120 L296.3 122.2 L298.2 125.9 L303.2 129.9 L305.9 131.7 L309.1 131.2 L311.3 128.6 L316.3 128.1 L320 129.5 L325.5 130.9 L323.5 133.6 L318.5 134.3 L313.4 137.4 L308.4 141.1 L305.3 144.9 L309.7 147.4 L312.2 151.8 L315.3 156.8 L318.5 161.2 L321.6 165 L322.2 169.3 L326.6 170.6 L323.5 174.4 L324.7 176.2 L322.2 180 L320.3 183.1 L318.5 186.9 L314.7 190 L311.6 193.2 L308.4 196.3 L307.2 199.4 L304.7 203.2 L299.7 206.9 L295.9 210.7 L290.9 214.5 L287.1 218.2 L280.9 220.1 L274.6 222.6 L268.3 224.5 L262.1 226.4 L255.9 226.9 L251.5 228.2 L252.8 230.7 L252.2 233.8 L249 234.5 L246.5 231.3 L247.2 228.2 L244.7 226.9 L242.2 225.7 L237.1 226.3 L232.1 225.1 L229 223.2 L227.7 218.8 L223.4 218.2 L220.8 216.3 L218.3 218.2 L213.3 219.4 L207.1 220.7 L200.8 221.9 L198.9 224.4 L198.3 228.8 L195.2 225.7 L192 226.3 L189.5 224.4 L185.1 223.2 L183.9 218.8 L182 218.2 L180.9 213.8 L178.4 211.3 L174.6 211.3 L174 207.6 L175.2 203.8 L178.4 200.7 L180.3 195.7 L179.6 190.6 L176.5 186.9 L173.4 185 L172.1 188.1 L168.4 187.5 L163.3 186.3 L158.3 187.5 L153.9 190.6 L150.8 193.2 L145.8 193.8 L139.5 193.2 L135.8 190 L132 188.1 L127 186.9 L122.3 188.1 L121 191.9 L119.8 188.1 L114.7 187.5 L108.5 186.9 L103.5 187.5 L97.2 184.4 L92.2 181.9 L87.2 178.7 L82.2 175.6 L77.2 173.7 L73.4 175 L70.9 172.5 L65.9 169.3 L60.2 167.5 L59.6 164.3 L57.1 159.9 L59.6 155.6 L60.2 151.8 L58.4 148 L54.6 144.3 L48.3 141.8 L42.1 138.6 L38.9 134.9 L33.3 132.4 L32.7 127.7 L30.8 122.7 L27.7 121.5ZM240.3 240.7 L243.4 237.6 L248.4 236.1 L254.1 236.3 L254.7 238.2 L252.2 242.6 L248.4 245.7 L245.9 247.4 L242.2 245.7 L240.3 243.2ZM319.7 204.4 L322.2 206.3 L321 210.7 L318.5 215.7 L315.9 220.7 L314.7 225.1 L312.2 220.7 L310.3 215.7 L312.2 210.7 L315.9 206.9Z" fill="none" stroke="#505050" stroke-width="0.6" stroke-linejoin="round"/>
<path d="M321.6 165 L322.2 169.3 L326.6 170.6 L323.5 174.4 L324.7 176.2 L322.2 180 L320.3 183.1 L318.5 186.9 L314.7 190 L311.6 193.2 L308.4 196.3 L307.2 199.4 L304.7 203.2 L299.7 206.9 L295.9 210.7 L290.9 214.5 L287.1 218.2 L280.9 220.1 L274.6 222.6 L268.3 224.5 L262.1 226.4 L255.9 226.9 L251.5 228.2" fill="none" stroke="#4a4a4a" stroke-width="1.3" stroke-dasharray="0.7 1.5 1.1 2.1 0.5 1.2" stroke-linejoin="round"/>
<path d="M244.4 259.3L247.5 265.2M250.6 283.5L249.8 289M237.3 314.7L238.4 321M260 337L266.2 335M282.6 313.9L286.5 309.2M301.3 290.5L303.6 284.3M303.6 260.6L303.6 266.3M306.8 247.6L309.9 242.2M316.1 231.2L321.6 225.8M326 208.2L324.7 215.1M246.5 312.5L251 310.5M259 311L259.6 308.5" stroke="#2a2a2a" stroke-width="0.55" fill="none"/><path d="M260.1 255.0l-1.1 -0.2M262.7 254.4l-0.1 -1.1M261.8 256.5l-0.3 -0.5M258.1 257.5l-1.1 -0.4M257.9 256.9l-1.1 -0.5M258.1 254.5l0.3 -0.8M260.9 259.7l1.0 -0.3M258.6 255.5l0.5 -0.1M262.5 260.5l0.5 -0.4M274.3 298.6l0.3 -0.5M293.5 289.5l0.6 -0.0M288.1 293.0l0.8 -0.3M252.0 304.2l1.3 -0.1M263.9 310.7l-0.2 -0.6M256.0 309.1l0.6 -0.6M277.3 297.1l0.3 -0.6M270.6 293.4l-1.2 -0.6M248.6 307.8l0.1 -0.9M279.7 297.2l0.6 -0.2M262.7 306.8l0.4 -0.6M267.5 299.2l-0.6 -0.3M286.6 298.2l1.4 -0.1M259.1 307.9l-0.1 -0.6M275.1 307.8l-0.1 -0.5M281.4 294.5l-0.1 -1.4M293.8 289.9l-1.0 -0.5M269.0 307.9l0.6 -0.6M254.1 308.5l1.0 -0.6M249.2 312.2l-0.1 -1.2M284.6 297.5l0.4 -0.6M289.1 293.0l-1.2 -0.8M281.4 299.3l-1.1 -0.5M274.9 299.5l-1.0 -0.6M289.6 299.2l0.7 -0.6M271.1 305.2l0.2 -0.5M250.4 312.2l0.7 -0.1M281.5 306.5l0.8 -0.8M286.2 293.4l-0.9 -0.1M266.8 307.0l-1.4 -0.3M247.7 310.9l-0.8 -0.1M253.0 303.5l0.5 -0.4M250.5 312.8l0.6 -0.4M251.9 306.2l-0.5 -1.2M268.5 310.4l-0.8 -0.4M250.5 309.5l-0.6 -1.1M276.3 307.4l1.1 -0.3M288.4 299.2l-1.2 -0.3M259.8 304.8l-0.7 -0.7M266.9 311.1l1.0 -0.6M292.8 290.6l0.6 -1.1M254.0 304.7l-0.9 -0.1M258.1 306.8l0.4 -1.3M274.1 296.1l-0.4 -0.5M246.7 311.0l0.6 -0.2M265.3 305.5l-1.2 -0.4M263.0 323.3l1.1 -0.6M268.5 319.4l-1.1 -0.1M266.0 327.0l0.5 -0.9M290.4 231.7l0.5 -0.2M289.6 258.2l-1.1 -0.1" stroke="#333" stroke-width="0.6" stroke-linecap="round" fill="none"/><ellipse cx="274.8" cy="262" rx="3.9" ry="1.5" transform="rotate(-25 274.8 262)" fill="none" stroke="#2a2a2a" stroke-width="0.55"/>
<path d="M17.6 18.5H414.7" stroke="#000" stroke-width="1.1"/><path d="M18.1 18.5V347.3" stroke="#444" stroke-width="1.1"/><path d="M414.2 18.5V347.8M17.6 347.3H414.7" stroke="#000" stroke-width="1.1" fill="none"/>
<path d="M68.6 18.5v3M68.6 347.0v-3M129.6 18.5v3M129.6 347.0v-3M190.6 18.5v3M190.6 347.0v-3M251.5 18.5v3M251.5 347.0v-3M312.5 18.5v3M312.5 347.0v-3M373.5 18.5v3M373.5 347.0v-3M18.5 302.3h3M414.5 302.3h-3M18.5 241.5h3M414.5 241.5h-3M18.5 180.8h3M414.5 180.8h-3M18.5 120h3M414.5 120h-3M18.5 59.2h3M414.5 59.2h-3" stroke="#333" stroke-width="0.6" fill="none"/>
<g font-size="10" fill="#111" stroke="#111" stroke-width="0.15" text-anchor="middle">
<text x="68.6" y="15.2">80°E</text><text x="68.6" y="360">80°E</text>
<text x="129.6" y="15.2">90°E</text><text x="129.6" y="360">90°E</text>
<text x="190.6" y="15.2">100°E</text><text x="190.6" y="360">100°E</text>
<text x="251.5" y="15.2">110°E</text><text x="251.5" y="360">110°E</text>
<text x="312.5" y="15.2">120°E</text><text x="312.5" y="360">120°E</text>
<text x="373.5" y="15.2">130°E</text><text x="373.5" y="360">130°E</text>
<text transform="translate(15.2 302.3) rotate(-90)">10°N</text><text transform="translate(427.3 302.3) rotate(-90)">10°N</text>
<text transform="translate(15.2 241.5) rotate(-90)">20°N</text><text transform="translate(427.3 241.5) rotate(-90)">20°N</text>
<text transform="translate(15.2 180.8) rotate(-90)">30°N</text><text transform="translate(427.3 180.8) rotate(-90)">30°N</text>
<text transform="translate(15.2 120) rotate(-90)">40°N</text><text transform="translate(427.3 120) rotate(-90)">40°N</text>
<text transform="translate(15.2 59.2) rotate(-90)">50°N</text><text transform="translate(427.3 59.2) rotate(-90)">50°N</text>
</g>
<g font-size="11" fill="#000" stroke="#000" stroke-width="0.18">
<text x="30.1" y="222.6" font-size="11.3">XCO<tspan font-size="7.6" dy="2">2ano</tspan><tspan dy="-2">(ppm)</tspan></text>
<rect x="24.6" y="230.3" width="28.1" height="14.4" fill="#0000e6" stroke="#8c8c8c" stroke-width="0.6"/>
<rect x="127.5" y="230.3" width="28.1" height="14.4" fill="#d2fa62" stroke="#8c8c8c" stroke-width="0.6"/>
<text x="57.5" y="241.8"><tspan fill-opacity="0.5" stroke-opacity="0.5">−</tspan>1.55 <tspan fill-opacity="0.5" stroke-opacity="0.5">−</tspan> <tspan fill-opacity="0.5" stroke-opacity="0.5">−</tspan>0.57</text>
<text x="160.9" y="241.8">0.73 <tspan fill-opacity="0.5" stroke-opacity="0.5">−</tspan> 1.08</text>
<rect x="24.6" y="249.5" width="28.1" height="14.4" fill="#3358fa" stroke="#8c8c8c" stroke-width="0.6"/>
<rect x="127.5" y="249.5" width="28.1" height="14.4" fill="#ffff00" stroke="#8c8c8c" stroke-width="0.6"/>
<text x="57.5" y="261"><tspan fill-opacity="0.07" stroke-opacity="0.07">−</tspan>0.56 <tspan fill-opacity="0.07" stroke-opacity="0.07">−</tspan> <tspan fill-opacity="0.07" stroke-opacity="0.07">−</tspan>0.16</text>
<text x="160.9" y="261">1.09 <tspan fill-opacity="0.07" stroke-opacity="0.07">−</tspan> 1.46</text>
<rect x="24.6" y="268.7" width="28.1" height="14.4" fill="#38a4fa" stroke="#8c8c8c" stroke-width="0.6"/>
<rect x="127.5" y="268.7" width="28.1" height="14.4" fill="#ffb300" stroke="#8c8c8c" stroke-width="0.6"/>
<text x="57.5" y="280.2">−0.15 − 0.14</text>
<text x="160.9" y="280.2">1.47 − 1.85</text>
<rect x="24.6" y="287.9" width="28.1" height="14.4" fill="#00ffff" stroke="#8c8c8c" stroke-width="0.6"/>
<rect x="127.5" y="287.9" width="28.1" height="14.4" fill="#ff7000" stroke="#8c8c8c" stroke-width="0.6"/>
<text x="57.5" y="299.4">0.15 <tspan fill-opacity="0.2" stroke-opacity="0.2">−</tspan> 0.41</text>
<text x="160.9" y="299.4">1.86 <tspan fill-opacity="0.2" stroke-opacity="0.2">−</tspan> 2.28</text>
<rect x="24.6" y="307.1" width="28.1" height="14.4" fill="#93fbb3" stroke="#8c8c8c" stroke-width="0.6"/>
<rect x="127.5" y="307.1" width="28.1" height="14.4" fill="#ff0000" stroke="#8c8c8c" stroke-width="0.6"/>
<text x="57.5" y="318.6">0.42 <tspan fill-opacity="0.6" stroke-opacity="0.6">−</tspan> 0.72</text>
<text x="160.9" y="318.6">2.29 <tspan fill-opacity="0.6" stroke-opacity="0.6">−</tspan> 3.24</text>
<rect x="22.5" y="326.4" width="18" height="9.1" fill="#fff" stroke="#3a3a3a" stroke-width="0.8"/>
<text x="44" y="334.7">National boundaries</text>
<clipPath id="lha"><rect x="142.2" y="325.4" width="18.6" height="10"/></clipPath><g clip-path="url(#lha)"><path d="M127.10 336l11 -11M131.20 336l11 -11M135.30 336l11 -11M139.40 336l11 -11M143.50 336l11 -11M147.60 336l11 -11M151.70 336l11 -11M155.80 336l11 -11M159.90 336l11 -11" stroke="#555" stroke-width="0.45" fill="none"/></g>
<rect x="142.4" y="325.6" width="18.3" height="9.7" fill="none" stroke="#909090" stroke-width="0.8"/>
<text x="164.5" y="334.7">Background area</text>
</g>
<rect x="290.2" y="336.1" width="82.5" height="4.2" fill="#fff" stroke="#333" stroke-width="0.7"/><rect x="290.2" y="336.1" width="41.5" height="4.2" fill="#000"/>
<g font-size="10" fill="#111" stroke="#111" stroke-width="0.15"><text x="290.4" y="331.6" text-anchor="middle">0</text><text x="331.7" y="331.6" text-anchor="middle">750</text><text x="362.6" y="331.6">1500 km</text></g>
<text x="401.6" y="28.3" font-family="Liberation Sans, sans-serif" font-size="5.6" font-weight="bold" text-anchor="middle" fill="#000">N</text>
<path d="M401.4 30L396.5 45.6L401.4 41.2Z" fill="#000" stroke="#000" stroke-width="0.4"/><path d="M401.4 30L406 45.6L401.4 41.2Z" fill="#fff" stroke="#000" stroke-width="0.5"/>
</g>
<text x="216.3" y="383.8" font-size="18" text-anchor="middle" fill="#000">(<tspan font-weight="bold">a</tspan>)</text>
<g transform="translate(448 0)">
<path d="M68.6 24.2V347M129.6 24.2V347M190.6 24.2V347M251.5 24.2V347M312.5 24.2V347M373.5 24.2V347M18.1 302.3H414.5M18.1 241.5H414.5M18.1 180.8H414.5M18.1 120H414.5M18.1 59.2H414.5" stroke="#c4c4c4" stroke-width="0.65" stroke-dasharray="3.8 10.13" fill="none"/>
<clipPath id="hcb"><path d="M322 41.3h6.1v6.1h-6.1zM340.3 41.3h6.1v6.1h-6.1zM322 53.5h6.1v6.1h-6.1zM127.1 65.7h18.3v6.1h-18.3zM145.4 71.7h6.1v6.1h-6.1zM121 77.8h18.3v6.1h-18.3zM145.4 77.8h6.1v6.1h-6.1zM273.3 77.8h6.1v6.1h-6.1zM145.4 83.9h6.1v6.1h-6.1zM236.7 83.9h6.1v6.1h-6.1zM261.1 83.9h6.1v6.1h-6.1zM212.4 90h6.1v6.1h-6.1zM236.7 90h6.1v6.1h-6.1zM35.8 96.1h12.2v6.1h-12.2zM169.8 96.1h6.1v6.1h-6.1zM212.4 96.1h6.1v6.1h-6.1zM236.7 96.1h6.1v6.1h-6.1zM255 96.1h6.1v6.1h-6.1zM35.8 102.2h12.2v6.1h-12.2zM139.3 102.2h6.1v6.1h-6.1zM175.8 102.2h6.1v6.1h-6.1zM200.2 102.2h24.4v6.1h-24.4zM35.8 108.3h18.3v6.1h-18.3zM96.7 108.3h6.1v6.1h-6.1zM114.9 108.3h18.3v6.1h-18.3zM139.3 108.3h12.2v6.1h-12.2zM194.1 108.3h12.2v6.1h-12.2zM218.5 108.3h6.1v6.1h-6.1zM29.7 114.4h6.1v6.1h-6.1zM72.3 114.4h6.1v6.1h-6.1zM90.6 114.4h24.4v6.1h-24.4zM121 114.4h24.4v6.1h-24.4zM157.6 114.4h6.1v6.1h-6.1zM212.4 114.4h6.1v6.1h-6.1zM29.7 120.5h6.1v6.1h-6.1zM54 120.5h12.2v6.1h-12.2zM72.3 120.5h12.2v6.1h-12.2zM102.8 120.5h6.1v6.1h-6.1zM121 120.5h6.1v6.1h-6.1zM157.6 120.5h18.3v6.1h-18.3zM212.4 120.5h6.1v6.1h-6.1zM29.7 126.5h6.1v6.1h-6.1zM84.5 126.5h6.1v6.1h-6.1zM96.7 126.5h18.3v6.1h-18.3zM121 126.5h12.2v6.1h-12.2zM41.9 132.6h12.2v6.1h-12.2zM78.4 132.6h6.1v6.1h-6.1zM90.6 132.6h42.6v6.1h-42.6zM41.9 138.7h24.4v6.1h-24.4zM84.5 138.7h12.2v6.1h-12.2zM102.8 138.7h42.6v6.1h-42.6zM157.6 138.7h12.2v6.1h-12.2zM41.9 144.8h36.5v6.1h-36.5zM84.5 144.8h36.5v6.1h-36.5zM127.1 144.8h12.2v6.1h-12.2zM145.4 144.8h12.2v6.1h-12.2zM163.7 144.8h12.2v6.1h-12.2zM181.9 144.8h6.1v6.1h-6.1zM41.9 150.9h18.3v6.1h-18.3zM66.2 150.9h73.1v6.1h-73.1zM145.4 150.9h12.2v6.1h-12.2zM41.9 157h24.4v6.1h-24.4zM72.3 157h60.9v6.1h-60.9zM145.4 157h12.2v6.1h-12.2zM181.9 157h6.1v6.1h-6.1zM41.9 163.1h67v6.1h-67zM114.9 163.1h6.1v6.1h-6.1zM151.5 163.1h6.1v6.1h-6.1zM48 169.2h18.3v6.1h-18.3zM78.4 169.2h36.5v6.1h-36.5zM121 169.2h6.1v6.1h-6.1zM139.3 169.2h6.1v6.1h-6.1zM315.9 169.2h18.3v6.1h-18.3zM54 175.3h12.2v6.1h-12.2zM72.3 175.3h36.5v6.1h-36.5zM163.7 175.3h6.1v6.1h-6.1zM60.1 181.4h6.1v6.1h-6.1zM72.3 181.4h18.3v6.1h-18.3zM102.8 181.4h6.1v6.1h-6.1zM145.4 181.4h6.1v6.1h-6.1zM72.3 187.4h18.3v6.1h-18.3zM102.8 187.4h6.1v6.1h-6.1zM102.8 193.5h6.1v6.1h-6.1z"/></clipPath>
<g clip-path="url(#china)">
<rect x="309.8" y="16.9" width="12.3" height="6.2" fill="#00ffff"/>
<rect x="321.9" y="16.9" width="24.5" height="6.2" fill="#38a4fa"/>
<rect x="303.7" y="23" width="18.4" height="6.2" fill="#00ffff"/>
<rect x="321.9" y="23" width="30.6" height="6.2" fill="#38a4fa"/>
<rect x="297.6" y="29.1" width="24.5" height="6.2" fill="#00ffff"/>
<rect x="321.9" y="29.1" width="36.6" height="6.2" fill="#38a4fa"/>
<rect x="297.6" y="35.2" width="30.6" height="6.2" fill="#00ffff"/>
<rect x="328" y="35.2" width="36.6" height="6.2" fill="#38a4fa"/>
<rect x="102.7" y="41.2" width="12.3" height="6.2" fill="#38a4fa"/>
<rect x="285.4" y="41.2" width="6.2" height="6.2" fill="#0000e6"/>
<rect x="291.5" y="41.2" width="30.6" height="6.2" fill="#00ffff"/>
<rect x="328" y="41.2" width="12.3" height="6.2" fill="#38a4fa"/>
<rect x="346.3" y="41.2" width="24.5" height="6.2" fill="#38a4fa"/>
<rect x="96.6" y="47.3" width="24.5" height="6.2" fill="#38a4fa"/>
<rect x="121" y="47.3" width="12.3" height="6.2" fill="#3358fa"/>
<rect x="279.3" y="47.3" width="12.3" height="6.2" fill="#0000e6"/>
<rect x="291.5" y="47.3" width="18.4" height="6.2" fill="#38a4fa"/>
<rect x="309.8" y="47.3" width="6.2" height="6.2" fill="#00ffff"/>
<rect x="315.9" y="47.3" width="61" height="6.2" fill="#38a4fa"/>
<rect x="388.9" y="47.3" width="12.3" height="6.2" fill="#00ffff"/>
<rect x="84.4" y="53.4" width="6.2" height="6.2" fill="#3358fa"/>
<rect x="90.5" y="53.4" width="30.6" height="6.2" fill="#38a4fa"/>
<rect x="121" y="53.4" width="18.4" height="6.2" fill="#3358fa"/>
<rect x="273.2" y="53.4" width="30.6" height="6.2" fill="#0000e6"/>
<rect x="303.7" y="53.4" width="6.2" height="6.2" fill="#3358fa"/>
<rect x="309.8" y="53.4" width="12.3" height="6.2" fill="#38a4fa"/>
<rect x="328" y="53.4" width="6.2" height="6.2" fill="#38a4fa"/>
<rect x="334.1" y="53.4" width="30.6" height="6.2" fill="#3358fa"/>
<rect x="364.6" y="53.4" width="18.4" height="6.2" fill="#38a4fa"/>
<rect x="382.8" y="53.4" width="24.5" height="6.2" fill="#00ffff"/>
<rect x="78.4" y="59.5" width="12.3" height="6.2" fill="#3358fa"/>
<rect x="90.5" y="59.5" width="24.5" height="6.2" fill="#38a4fa"/>
<rect x="114.9" y="59.5" width="30.6" height="6.2" fill="#3358fa"/>
<rect x="267.1" y="59.5" width="36.6" height="6.2" fill="#0000e6"/>
<rect x="303.7" y="59.5" width="6.2" height="6.2" fill="#3358fa"/>
<rect x="309.8" y="59.5" width="30.6" height="6.2" fill="#38a4fa"/>
<rect x="340.2" y="59.5" width="6.2" height="6.2" fill="#3358fa"/>
<rect x="346.3" y="59.5" width="12.3" height="6.2" fill="#0000e6"/>
<rect x="358.5" y="59.5" width="12.3" height="6.2" fill="#3358fa"/>
<rect x="370.7" y="59.5" width="12.3" height="6.2" fill="#38a4fa"/>
<rect x="382.8" y="59.5" width="30.6" height="6.2" fill="#00ffff"/>
<rect x="72.3" y="65.6" width="18.4" height="6.2" fill="#3358fa"/>
<rect x="90.5" y="65.6" width="24.5" height="6.2" fill="#38a4fa"/>
<rect x="114.9" y="65.6" width="12.3" height="6.2" fill="#3358fa"/>
<rect x="267.1" y="65.6" width="6.2" height="6.2" fill="#3358fa"/>
<rect x="273.2" y="65.6" width="24.5" height="6.2" fill="#0000e6"/>
<rect x="297.6" y="65.6" width="18.4" height="6.2" fill="#3358fa"/>
<rect x="315.9" y="65.6" width="12.3" height="6.2" fill="#38a4fa"/>
<rect x="328" y="65.6" width="6.2" height="6.2" fill="#00ffff"/>
<rect x="334.1" y="65.6" width="6.2" height="6.2" fill="#38a4fa"/>
<rect x="340.2" y="65.6" width="6.2" height="6.2" fill="#3358fa"/>
<rect x="346.3" y="65.6" width="6.2" height="6.2" fill="#0000e6"/>
<rect x="352.4" y="65.6" width="18.4" height="6.2" fill="#3358fa"/>
<rect x="370.7" y="65.6" width="12.3" height="6.2" fill="#38a4fa"/>
<rect x="382.8" y="65.6" width="30.6" height="6.2" fill="#00ffff"/>
<rect x="60.1" y="71.7" width="6.2" height="6.2" fill="#0000e6"/>
<rect x="66.2" y="71.7" width="18.4" height="6.2" fill="#38a4fa"/>
<rect x="84.4" y="71.7" width="6.2" height="6.2" fill="#3358fa"/>
<rect x="90.5" y="71.7" width="12.3" height="6.2" fill="#38a4fa"/>
<rect x="102.7" y="71.7" width="6.2" height="6.2" fill="#00ffff"/>
<rect x="108.8" y="71.7" width="12.3" height="6.2" fill="#38a4fa"/>
<rect x="121" y="71.7" width="24.5" height="6.2" fill="#3358fa"/>
<rect x="151.4" y="71.7" width="6.2" height="6.2" fill="#00ffff"/>
<rect x="157.5" y="71.7" width="6.2" height="6.2" fill="#93fbb3"/>
<rect x="255" y="71.7" width="6.2" height="6.2" fill="#0000e6"/>
<rect x="261.1" y="71.7" width="24.5" height="6.2" fill="#3358fa"/>
<rect x="285.4" y="71.7" width="18.4" height="6.2" fill="#0000e6"/>
<rect x="303.7" y="71.7" width="24.5" height="6.2" fill="#3358fa"/>
<rect x="328" y="71.7" width="12.3" height="6.2" fill="#00ffff"/>
<rect x="340.2" y="71.7" width="18.4" height="6.2" fill="#3358fa"/>
<rect x="358.5" y="71.7" width="36.6" height="6.2" fill="#38a4fa"/>
<rect x="395" y="71.7" width="12.3" height="6.2" fill="#00ffff"/>
<rect x="54" y="77.8" width="18.4" height="6.2" fill="#0000e6"/>
<rect x="72.3" y="77.8" width="18.4" height="6.2" fill="#38a4fa"/>
<rect x="90.5" y="77.8" width="12.3" height="6.2" fill="#00ffff"/>
<rect x="102.7" y="77.8" width="12.3" height="6.2" fill="#93fbb3"/>
<rect x="114.9" y="77.8" width="6.2" height="6.2" fill="#00ffff"/>
<rect x="139.2" y="77.8" width="6.2" height="6.2" fill="#93fbb3"/>
<rect x="151.4" y="77.8" width="6.2" height="6.2" fill="#00ffff"/>
<rect x="157.5" y="77.8" width="12.3" height="6.2" fill="#93fbb3"/>
<rect x="248.9" y="77.8" width="12.3" height="6.2" fill="#0000e6"/>
<rect x="261.1" y="77.8" width="12.3" height="6.2" fill="#3358fa"/>
<rect x="279.3" y="77.8" width="42.7" height="6.2" fill="#3358fa"/>
<rect x="321.9" y="77.8" width="6.2" height="6.2" fill="#38a4fa"/>
<rect x="328" y="77.8" width="12.3" height="6.2" fill="#00ffff"/>
<rect x="340.2" y="77.8" width="6.2" height="6.2" fill="#38a4fa"/>
<rect x="346.3" y="77.8" width="6.2" height="6.2" fill="#3358fa"/>
<rect x="352.4" y="77.8" width="24.5" height="6.2" fill="#38a4fa"/>
<rect x="376.8" y="77.8" width="6.2" height="6.2" fill="#00ffff"/>
<rect x="382.8" y="77.8" width="12.3" height="6.2" fill="#38a4fa"/>
<rect x="395" y="77.8" width="6.2" height="6.2" fill="#00ffff"/>
<rect x="47.9" y="83.9" width="24.5" height="6.2" fill="#0000e6"/>
<rect x="72.3" y="83.9" width="12.3" height="6.2" fill="#3358fa"/>
<rect x="84.4" y="83.9" width="12.3" height="6.2" fill="#38a4fa"/>
<rect x="96.6" y="83.9" width="6.2" height="6.2" fill="#00ffff"/>
<rect x="102.7" y="83.9" width="24.5" height="6.2" fill="#93fbb3"/>
<rect x="127.1" y="83.9" width="12.3" height="6.2" fill="#00ffff"/>
<rect x="139.2" y="83.9" width="6.2" height="6.2" fill="#93fbb3"/>
<rect x="151.4" y="83.9" width="6.2" height="6.2" fill="#00ffff"/>
<rect x="157.5" y="83.9" width="18.4" height="6.2" fill="#93fbb3"/>
<rect x="175.8" y="83.9" width="30.6" height="6.2" fill="#00ffff"/>
<rect x="224.5" y="83.9" width="12.3" height="6.2" fill="#00ffff"/>
<rect x="242.8" y="83.9" width="18.4" height="6.2" fill="#0000e6"/>
<rect x="267.1" y="83.9" width="6.2" height="6.2" fill="#0000e6"/>
<rect x="273.2" y="83.9" width="24.5" height="6.2" fill="#3358fa"/>
<rect x="297.6" y="83.9" width="48.8" height="6.2" fill="#38a4fa"/>
<rect x="346.3" y="83.9" width="6.2" height="6.2" fill="#3358fa"/>
<rect x="352.4" y="83.9" width="6.2" height="6.2" fill="#38a4fa"/>
<rect x="358.5" y="83.9" width="24.5" height="6.2" fill="#00ffff"/>
<rect x="382.8" y="83.9" width="12.3" height="6.2" fill="#38a4fa"/>
<rect x="54" y="90" width="12.3" height="6.2" fill="#0000e6"/>
<rect x="66.2" y="90" width="6.2" height="6.2" fill="#38a4fa"/>
<rect x="72.3" y="90" width="24.5" height="6.2" fill="#3358fa"/>
<rect x="96.6" y="90" width="12.3" height="6.2" fill="#38a4fa"/>
<rect x="108.8" y="90" width="18.4" height="6.2" fill="#00ffff"/>
<rect x="127.1" y="90" width="12.3" height="6.2" fill="#93fbb3"/>
<rect x="139.2" y="90" width="6.2" height="6.2" fill="#00ffff"/>
<rect x="145.3" y="90" width="6.2" height="6.2" fill="#38a4fa"/>
<rect x="151.4" y="90" width="6.2" height="6.2" fill="#00ffff"/>
<rect x="157.5" y="90" width="6.2" height="6.2" fill="#93fbb3"/>
<rect x="163.6" y="90" width="12.3" height="6.2" fill="#38a4fa"/>
<rect x="175.8" y="90" width="36.6" height="6.2" fill="#00ffff"/>
<rect x="218.4" y="90" width="18.4" height="6.2" fill="#00ffff"/>
<rect x="242.8" y="90" width="6.2" height="6.2" fill="#38a4fa"/>
<rect x="248.9" y="90" width="36.6" height="6.2" fill="#3358fa"/>
<rect x="285.4" y="90" width="6.2" height="6.2" fill="#38a4fa"/>
<rect x="291.5" y="90" width="6.2" height="6.2" fill="#00ffff"/>
<rect x="297.6" y="90" width="12.3" height="6.2" fill="#93fbb3"/>
<rect x="309.8" y="90" width="6.2" height="6.2" fill="#00ffff"/>
<rect x="315.9" y="90" width="18.4" height="6.2" fill="#38a4fa"/>
<rect x="334.1" y="90" width="6.2" height="6.2" fill="#00ffff"/>
<rect x="340.2" y="90" width="6.2" height="6.2" fill="#38a4fa"/>
<rect x="346.3" y="90" width="6.2" height="6.2" fill="#3358fa"/>
<rect x="352.4" y="90" width="6.2" height="6.2" fill="#38a4fa"/>
<rect x="358.5" y="90" width="6.2" height="6.2" fill="#00ffff"/>
<rect x="364.6" y="90" width="12.3" height="6.2" fill="#93fbb3"/>
<rect x="376.8" y="90" width="6.2" height="6.2" fill="#00ffff"/>
<rect x="382.8" y="90" width="6.2" height="6.2" fill="#38a4fa"/>
<rect x="29.6" y="96" width="6.2" height="6.2" fill="#38a4fa"/>
<rect x="47.9" y="96" width="12.3" height="6.2" fill="#00ffff"/>
<rect x="60.1" y="96" width="12.3" height="6.2" fill="#38a4fa"/>
<rect x="72.3" y="96" width="18.4" height="6.2" fill="#3358fa"/>
<rect x="90.5" y="96" width="6.2" height="6.2" fill="#38a4fa"/>
<rect x="96.6" y="96" width="18.4" height="6.2" fill="#00ffff"/>
<rect x="114.9" y="96" width="6.2" height="6.2" fill="#38a4fa"/>
<rect x="121" y="96" width="6.2" height="6.2" fill="#00ffff"/>
<rect x="127.1" y="96" width="12.3" height="6.2" fill="#93fbb3"/>
<rect x="139.2" y="96" width="6.2" height="6.2" fill="#00ffff"/>
<rect x="145.3" y="96" width="12.3" height="6.2" fill="#38a4fa"/>
<rect x="157.5" y="96" width="6.2" height="6.2" fill="#00ffff"/>
<rect x="163.6" y="96" width="6.2" height="6.2" fill="#38a4fa"/>
<rect x="175.8" y="96" width="36.6" height="6.2" fill="#00ffff"/>
<rect x="218.4" y="96" width="18.4" height="6.2" fill="#00ffff"/>
<rect x="242.8" y="96" width="6.2" height="6.2" fill="#38a4fa"/>
<rect x="248.9" y="96" width="6.2" height="6.2" fill="#3358fa"/>
<rect x="261.1" y="96" width="24.5" height="6.2" fill="#3358fa"/>
<rect x="285.4" y="96" width="6.2" height="6.2" fill="#38a4fa"/>
<rect x="291.5" y="96" width="6.2" height="6.2" fill="#00ffff"/>
<rect x="297.6" y="96" width="12.3" height="6.2" fill="#93fbb3"/>
<rect x="309.8" y="96" width="36.6" height="6.2" fill="#00ffff"/>
<rect x="346.3" y="96" width="18.4" height="6.2" fill="#38a4fa"/>
<rect x="364.6" y="96" width="24.5" height="6.2" fill="#93fbb3"/>
<rect x="23.5" y="102.1" width="12.3" height="6.2" fill="#38a4fa"/>
<rect x="47.9" y="102.1" width="12.3" height="6.2" fill="#00ffff"/>
<rect x="60.1" y="102.1" width="12.3" height="6.2" fill="#93fbb3"/>
<rect x="72.3" y="102.1" width="30.6" height="6.2" fill="#00ffff"/>
<rect x="102.7" y="102.1" width="6.2" height="6.2" fill="#93fbb3"/>
<rect x="108.8" y="102.1" width="12.3" height="6.2" fill="#00ffff"/>
<rect x="121" y="102.1" width="6.2" height="6.2" fill="#38a4fa"/>
<rect x="127.1" y="102.1" width="6.2" height="6.2" fill="#00ffff"/>
<rect x="133.2" y="102.1" width="6.2" height="6.2" fill="#93fbb3"/>
<rect x="145.3" y="102.1" width="6.2" height="6.2" fill="#93fbb3"/>
<rect x="151.4" y="102.1" width="12.3" height="6.2" fill="#00ffff"/>
<rect x="163.6" y="102.1" width="12.3" height="6.2" fill="#38a4fa"/>
<rect x="181.9" y="102.1" width="18.4" height="6.2" fill="#38a4fa"/>
<rect x="224.5" y="102.1" width="12.3" height="6.2" fill="#00ffff"/>
<rect x="236.7" y="102.1" width="12.3" height="6.2" fill="#93fbb3"/>
<rect x="248.9" y="102.1" width="6.2" height="6.2" fill="#00ffff"/>
<rect x="255" y="102.1" width="18.4" height="6.2" fill="#38a4fa"/>
<rect x="273.2" y="102.1" width="6.2" height="6.2" fill="#3358fa"/>
<rect x="279.3" y="102.1" width="6.2" height="6.2" fill="#38a4fa"/>
<rect x="285.4" y="102.1" width="6.2" height="6.2" fill="#00ffff"/>
<rect x="291.5" y="102.1" width="18.4" height="6.2" fill="#d2fa62"/>
<rect x="309.8" y="102.1" width="42.7" height="6.2" fill="#93fbb3"/>
<rect x="352.4" y="102.1" width="6.2" height="6.2" fill="#00ffff"/>
<rect x="358.5" y="102.1" width="6.2" height="6.2" fill="#38a4fa"/>
<rect x="364.6" y="102.1" width="18.4" height="6.2" fill="#93fbb3"/>
<rect x="17.4" y="108.2" width="18.4" height="6.2" fill="#38a4fa"/>
<rect x="54" y="108.2" width="6.2" height="6.2" fill="#38a4fa"/>
<rect x="60.1" y="108.2" width="36.6" height="6.2" fill="#93fbb3"/>
<rect x="102.7" y="108.2" width="12.3" height="6.2" fill="#93fbb3"/>
<rect x="133.2" y="108.2" width="6.2" height="6.2" fill="#00ffff"/>
<rect x="151.4" y="108.2" width="6.2" height="6.2" fill="#00ffff"/>
<rect x="157.5" y="108.2" width="18.4" height="6.2" fill="#38a4fa"/>
<rect x="175.8" y="108.2" width="18.4" height="6.2" fill="#00ffff"/>
<rect x="206.2" y="108.2" width="12.3" height="6.2" fill="#3358fa"/>
<rect x="224.5" y="108.2" width="18.4" height="6.2" fill="#93fbb3"/>
<rect x="242.8" y="108.2" width="12.3" height="6.2" fill="#d2fa62"/>
<rect x="255" y="108.2" width="24.5" height="6.2" fill="#93fbb3"/>
<rect x="279.3" y="108.2" width="12.3" height="6.2" fill="#d2fa62"/>
<rect x="291.5" y="108.2" width="18.4" height="6.2" fill="#ffff00"/>
<rect x="309.8" y="108.2" width="6.2" height="6.2" fill="#d2fa62"/>
<rect x="315.9" y="108.2" width="6.2" height="6.2" fill="#93fbb3"/>
<rect x="321.9" y="108.2" width="12.3" height="6.2" fill="#d2fa62"/>
<rect x="334.1" y="108.2" width="18.4" height="6.2" fill="#93fbb3"/>
<rect x="352.4" y="108.2" width="6.2" height="6.2" fill="#00ffff"/>
<rect x="358.5" y="108.2" width="6.2" height="6.2" fill="#38a4fa"/>
<rect x="364.6" y="108.2" width="12.3" height="6.2" fill="#93fbb3"/>
<rect x="11.4" y="114.3" width="18.4" height="6.2" fill="#38a4fa"/>
<rect x="35.7" y="114.3" width="6.2" height="6.2" fill="#3358fa"/>
<rect x="41.8" y="114.3" width="6.2" height="6.2" fill="#38a4fa"/>
<rect x="47.9" y="114.3" width="24.5" height="6.2" fill="#00ffff"/>
<rect x="78.4" y="114.3" width="6.2" height="6.2" fill="#93fbb3"/>
<rect x="84.4" y="114.3" width="6.2" height="6.2" fill="#00ffff"/>
<rect x="114.9" y="114.3" width="6.2" height="6.2" fill="#38a4fa"/>
<rect x="145.3" y="114.3" width="12.3" height="6.2" fill="#3358fa"/>
<rect x="163.6" y="114.3" width="18.4" height="6.2" fill="#3358fa"/>
<rect x="181.9" y="114.3" width="12.3" height="6.2" fill="#38a4fa"/>
<rect x="194.1" y="114.3" width="6.2" height="6.2" fill="#00ffff"/>
<rect x="200.1" y="114.3" width="6.2" height="6.2" fill="#38a4fa"/>
<rect x="206.2" y="114.3" width="6.2" height="6.2" fill="#3358fa"/>
<rect x="218.4" y="114.3" width="6.2" height="6.2" fill="#38a4fa"/>
<rect x="224.5" y="114.3" width="12.3" height="6.2" fill="#93fbb3"/>
<rect x="236.7" y="114.3" width="12.3" height="6.2" fill="#00ffff"/>
<rect x="248.9" y="114.3" width="6.2" height="6.2" fill="#ffff00"/>
<rect x="255" y="114.3" width="24.5" height="6.2" fill="#d2fa62"/>
<rect x="279.3" y="114.3" width="18.4" height="6.2" fill="#ffff00"/>
<rect x="297.6" y="114.3" width="6.2" height="6.2" fill="#ffb300"/>
<rect x="303.7" y="114.3" width="12.3" height="6.2" fill="#d2fa62"/>
<rect x="315.9" y="114.3" width="36.6" height="6.2" fill="#93fbb3"/>
<rect x="352.4" y="114.3" width="6.2" height="6.2" fill="#00ffff"/>
<rect x="17.4" y="120.4" width="12.3" height="6.2" fill="#38a4fa"/>
<rect x="35.7" y="120.4" width="6.2" height="6.2" fill="#3358fa"/>
<rect x="41.8" y="120.4" width="6.2" height="6.2" fill="#38a4fa"/>
<rect x="47.9" y="120.4" width="6.2" height="6.2" fill="#00ffff"/>
<rect x="66.2" y="120.4" width="6.2" height="6.2" fill="#00ffff"/>
<rect x="84.4" y="120.4" width="6.2" height="6.2" fill="#00ffff"/>
<rect x="90.5" y="120.4" width="6.2" height="6.2" fill="#38a4fa"/>
<rect x="96.6" y="120.4" width="6.2" height="6.2" fill="#3358fa"/>
<rect x="108.8" y="120.4" width="6.2" height="6.2" fill="#3358fa"/>
<rect x="114.9" y="120.4" width="6.2" height="6.2" fill="#0000e6"/>
<rect x="127.1" y="120.4" width="18.4" height="6.2" fill="#3358fa"/>
<rect x="145.3" y="120.4" width="12.3" height="6.2" fill="#38a4fa"/>
<rect x="175.8" y="120.4" width="18.4" height="6.2" fill="#3358fa"/>
<rect x="194.1" y="120.4" width="12.3" height="6.2" fill="#38a4fa"/>
<rect x="206.2" y="120.4" width="6.2" height="6.2" fill="#00ffff"/>
<rect x="218.4" y="120.4" width="6.2" height="6.2" fill="#00ffff"/>
<rect x="224.5" y="120.4" width="24.5" height="6.2" fill="#93fbb3"/>
<rect x="248.9" y="120.4" width="6.2" height="6.2" fill="#d2fa62"/>
<rect x="255" y="120.4" width="6.2" height="6.2" fill="#93fbb3"/>
<rect x="261.1" y="120.4" width="6.2" height="6.2" fill="#d2fa62"/>
<rect x="267.1" y="120.4" width="6.2" height="6.2" fill="#93fbb3"/>
<rect x="273.2" y="120.4" width="6.2" height="6.2" fill="#d2fa62"/>
<rect x="279.3" y="120.4" width="6.2" height="6.2" fill="#ffff00"/>
<rect x="285.4" y="120.4" width="18.4" height="6.2" fill="#ffb300"/>
<rect x="303.7" y="120.4" width="6.2" height="6.2" fill="#d2fa62"/>
<rect x="309.8" y="120.4" width="36.6" height="6.2" fill="#93fbb3"/>
<rect x="23.5" y="126.5" width="6.2" height="6.2" fill="#38a4fa"/>
<rect x="35.7" y="126.5" width="6.2" height="6.2" fill="#00ffff"/>
<rect x="41.8" y="126.5" width="24.5" height="6.2" fill="#38a4fa"/>
<rect x="66.2" y="126.5" width="6.2" height="6.2" fill="#00ffff"/>
<rect x="72.3" y="126.5" width="6.2" height="6.2" fill="#38a4fa"/>
<rect x="78.4" y="126.5" width="6.2" height="6.2" fill="#3358fa"/>
<rect x="90.5" y="126.5" width="6.2" height="6.2" fill="#3358fa"/>
<rect x="114.9" y="126.5" width="6.2" height="6.2" fill="#3358fa"/>
<rect x="133.2" y="126.5" width="6.2" height="6.2" fill="#3358fa"/>
<rect x="139.2" y="126.5" width="6.2" height="6.2" fill="#38a4fa"/>
<rect x="145.3" y="126.5" width="6.2" height="6.2" fill="#00ffff"/>
<rect x="151.4" y="126.5" width="6.2" height="6.2" fill="#38a4fa"/>
<rect x="157.5" y="126.5" width="6.2" height="6.2" fill="#3358fa"/>
<rect x="163.6" y="126.5" width="18.4" height="6.2" fill="#38a4fa"/>
<rect x="181.9" y="126.5" width="6.2" height="6.2" fill="#3358fa"/>
<rect x="188" y="126.5" width="24.5" height="6.2" fill="#38a4fa"/>
<rect x="212.3" y="126.5" width="6.2" height="6.2" fill="#00ffff"/>
<rect x="218.4" y="126.5" width="12.3" height="6.2" fill="#38a4fa"/>
<rect x="230.6" y="126.5" width="12.3" height="6.2" fill="#00ffff"/>
<rect x="242.8" y="126.5" width="6.2" height="6.2" fill="#93fbb3"/>
<rect x="248.9" y="126.5" width="30.6" height="6.2" fill="#d2fa62"/>
<rect x="279.3" y="126.5" width="18.4" height="6.2" fill="#ffff00"/>
<rect x="297.6" y="126.5" width="12.3" height="6.2" fill="#d2fa62"/>
<rect x="309.8" y="126.5" width="6.2" height="6.2" fill="#93fbb3"/>
<rect x="315.9" y="126.5" width="6.2" height="6.2" fill="#00ffff"/>
<rect x="321.9" y="126.5" width="18.4" height="6.2" fill="#38a4fa"/>
<rect x="23.5" y="132.6" width="18.4" height="6.2" fill="#93fbb3"/>
<rect x="54" y="132.6" width="18.4" height="6.2" fill="#38a4fa"/>
<rect x="72.3" y="132.6" width="6.2" height="6.2" fill="#3358fa"/>
<rect x="84.4" y="132.6" width="6.2" height="6.2" fill="#0000e6"/>
<rect x="133.2" y="132.6" width="12.3" height="6.2" fill="#3358fa"/>
<rect x="145.3" y="132.6" width="30.6" height="6.2" fill="#38a4fa"/>
<rect x="175.8" y="132.6" width="12.3" height="6.2" fill="#3358fa"/>
<rect x="188" y="132.6" width="6.2" height="6.2" fill="#38a4fa"/>
<rect x="194.1" y="132.6" width="6.2" height="6.2" fill="#00ffff"/>
<rect x="200.1" y="132.6" width="6.2" height="6.2" fill="#93fbb3"/>
<rect x="206.2" y="132.6" width="12.3" height="6.2" fill="#00ffff"/>
<rect x="218.4" y="132.6" width="12.3" height="6.2" fill="#38a4fa"/>
<rect x="230.6" y="132.6" width="12.3" height="6.2" fill="#00ffff"/>
<rect x="242.8" y="132.6" width="12.3" height="6.2" fill="#93fbb3"/>
<rect x="255" y="132.6" width="18.4" height="6.2" fill="#d2fa62"/>
<rect x="273.2" y="132.6" width="24.5" height="6.2" fill="#ffff00"/>
<rect x="297.6" y="132.6" width="6.2" height="6.2" fill="#d2fa62"/>
<rect x="303.7" y="132.6" width="6.2" height="6.2" fill="#93fbb3"/>
<rect x="309.8" y="132.6" width="12.3" height="6.2" fill="#00ffff"/>
<rect x="321.9" y="132.6" width="18.4" height="6.2" fill="#38a4fa"/>
<rect x="29.6" y="138.7" width="12.3" height="6.2" fill="#93fbb3"/>
<rect x="66.2" y="138.7" width="18.4" height="6.2" fill="#3358fa"/>
<rect x="96.6" y="138.7" width="6.2" height="6.2" fill="#38a4fa"/>
<rect x="145.3" y="138.7" width="12.3" height="6.2" fill="#38a4fa"/>
<rect x="169.7" y="138.7" width="6.2" height="6.2" fill="#38a4fa"/>
<rect x="175.8" y="138.7" width="18.4" height="6.2" fill="#3358fa"/>
<rect x="194.1" y="138.7" width="6.2" height="6.2" fill="#38a4fa"/>
<rect x="200.1" y="138.7" width="6.2" height="6.2" fill="#93fbb3"/>
<rect x="206.2" y="138.7" width="6.2" height="6.2" fill="#00ffff"/>
<rect x="212.3" y="138.7" width="6.2" height="6.2" fill="#38a4fa"/>
<rect x="218.4" y="138.7" width="6.2" height="6.2" fill="#3358fa"/>
<rect x="224.5" y="138.7" width="6.2" height="6.2" fill="#38a4fa"/>
<rect x="230.6" y="138.7" width="6.2" height="6.2" fill="#00ffff"/>
<rect x="236.7" y="138.7" width="6.2" height="6.2" fill="#93fbb3"/>
<rect x="242.8" y="138.7" width="6.2" height="6.2" fill="#d2fa62"/>
<rect x="248.9" y="138.7" width="6.2" height="6.2" fill="#ffff00"/>
<rect x="255" y="138.7" width="12.3" height="6.2" fill="#d2fa62"/>
<rect x="267.1" y="138.7" width="30.6" height="6.2" fill="#ffff00"/>
<rect x="297.6" y="138.7" width="6.2" height="6.2" fill="#d2fa62"/>
<rect x="303.7" y="138.7" width="6.2" height="6.2" fill="#93fbb3"/>
<rect x="309.8" y="138.7" width="12.3" height="6.2" fill="#00ffff"/>
<rect x="321.9" y="138.7" width="12.3" height="6.2" fill="#38a4fa"/>
<rect x="35.7" y="144.8" width="6.2" height="6.2" fill="#93fbb3"/>
<rect x="78.4" y="144.8" width="6.2" height="6.2" fill="#38a4fa"/>
<rect x="121" y="144.8" width="6.2" height="6.2" fill="#38a4fa"/>
<rect x="139.2" y="144.8" width="6.2" height="6.2" fill="#38a4fa"/>
<rect x="157.5" y="144.8" width="6.2" height="6.2" fill="#00ffff"/>
<rect x="175.8" y="144.8" width="6.2" height="6.2" fill="#38a4fa"/>
<rect x="188" y="144.8" width="6.2" height="6.2" fill="#3358fa"/>
<rect x="194.1" y="144.8" width="12.3" height="6.2" fill="#38a4fa"/>
<rect x="206.2" y="144.8" width="6.2" height="6.2" fill="#3358fa"/>
<rect x="212.3" y="144.8" width="12.3" height="6.2" fill="#38a4fa"/>
<rect x="224.5" y="144.8" width="6.2" height="6.2" fill="#00ffff"/>
<rect x="230.6" y="144.8" width="6.2" height="6.2" fill="#93fbb3"/>
<rect x="236.7" y="144.8" width="12.3" height="6.2" fill="#d2fa62"/>
<rect x="248.9" y="144.8" width="6.2" height="6.2" fill="#93fbb3"/>
<rect x="255" y="144.8" width="30.6" height="6.2" fill="#d2fa62"/>
<rect x="285.4" y="144.8" width="18.4" height="6.2" fill="#ffff00"/>
<rect x="303.7" y="144.8" width="12.3" height="6.2" fill="#d2fa62"/>
<rect x="315.9" y="144.8" width="6.2" height="6.2" fill="#00ffff"/>
<rect x="321.9" y="144.8" width="6.2" height="6.2" fill="#38a4fa"/>
<rect x="60.1" y="150.9" width="6.2" height="6.2" fill="#00ffff"/>
<rect x="139.2" y="150.9" width="6.2" height="6.2" fill="#38a4fa"/>
<rect x="157.5" y="150.9" width="18.4" height="6.2" fill="#00ffff"/>
<rect x="175.8" y="150.9" width="24.5" height="6.2" fill="#38a4fa"/>
<rect x="200.1" y="150.9" width="12.3" height="6.2" fill="#3358fa"/>
<rect x="212.3" y="150.9" width="6.2" height="6.2" fill="#38a4fa"/>
<rect x="218.4" y="150.9" width="6.2" height="6.2" fill="#00ffff"/>
<rect x="224.5" y="150.9" width="18.4" height="6.2" fill="#93fbb3"/>
<rect x="242.8" y="150.9" width="6.2" height="6.2" fill="#d2fa62"/>
<rect x="248.9" y="150.9" width="6.2" height="6.2" fill="#93fbb3"/>
<rect x="255" y="150.9" width="12.3" height="6.2" fill="#d2fa62"/>
<rect x="267.1" y="150.9" width="12.3" height="6.2" fill="#93fbb3"/>
<rect x="279.3" y="150.9" width="12.3" height="6.2" fill="#d2fa62"/>
<rect x="291.5" y="150.9" width="12.3" height="6.2" fill="#ffff00"/>
<rect x="303.7" y="150.9" width="6.2" height="6.2" fill="#d2fa62"/>
<rect x="309.8" y="150.9" width="18.4" height="6.2" fill="#93fbb3"/>
<rect x="66.2" y="156.9" width="6.2" height="6.2" fill="#00ffff"/>
<rect x="133.2" y="156.9" width="12.3" height="6.2" fill="#38a4fa"/>
<rect x="157.5" y="156.9" width="24.5" height="6.2" fill="#38a4fa"/>
<rect x="188" y="156.9" width="30.6" height="6.2" fill="#38a4fa"/>
<rect x="218.4" y="156.9" width="24.5" height="6.2" fill="#00ffff"/>
<rect x="242.8" y="156.9" width="42.7" height="6.2" fill="#93fbb3"/>
<rect x="285.4" y="156.9" width="6.2" height="6.2" fill="#d2fa62"/>
<rect x="291.5" y="156.9" width="6.2" height="6.2" fill="#ffff00"/>
<rect x="297.6" y="156.9" width="12.3" height="6.2" fill="#d2fa62"/>
<rect x="309.8" y="156.9" width="18.4" height="6.2" fill="#93fbb3"/>
<rect x="108.8" y="163" width="6.2" height="6.2" fill="#38a4fa"/>
<rect x="121" y="163" width="24.5" height="6.2" fill="#38a4fa"/>
<rect x="145.3" y="163" width="6.2" height="6.2" fill="#00ffff"/>
<rect x="157.5" y="163" width="24.5" height="6.2" fill="#3358fa"/>
<rect x="181.9" y="163" width="12.3" height="6.2" fill="#38a4fa"/>
<rect x="194.1" y="163" width="24.5" height="6.2" fill="#3358fa"/>
<rect x="218.4" y="163" width="6.2" height="6.2" fill="#38a4fa"/>
<rect x="224.5" y="163" width="12.3" height="6.2" fill="#00ffff"/>
<rect x="236.7" y="163" width="6.2" height="6.2" fill="#38a4fa"/>
<rect x="242.8" y="163" width="6.2" height="6.2" fill="#00ffff"/>
<rect x="248.9" y="163" width="12.3" height="6.2" fill="#93fbb3"/>
<rect x="261.1" y="163" width="6.2" height="6.2" fill="#d2fa62"/>
<rect x="267.1" y="163" width="6.2" height="6.2" fill="#93fbb3"/>
<rect x="273.2" y="163" width="6.2" height="6.2" fill="#00ffff"/>
<rect x="279.3" y="163" width="6.2" height="6.2" fill="#93fbb3"/>
<rect x="285.4" y="163" width="12.3" height="6.2" fill="#d2fa62"/>
<rect x="297.6" y="163" width="12.3" height="6.2" fill="#ffff00"/>
<rect x="309.8" y="163" width="24.5" height="6.2" fill="#d2fa62"/>
<rect x="66.2" y="169.1" width="6.2" height="6.2" fill="#0000e6"/>
<rect x="72.3" y="169.1" width="6.2" height="6.2" fill="#3358fa"/>
<rect x="114.9" y="169.1" width="6.2" height="6.2" fill="#38a4fa"/>
<rect x="127.1" y="169.1" width="12.3" height="6.2" fill="#38a4fa"/>
<rect x="145.3" y="169.1" width="12.3" height="6.2" fill="#00ffff"/>
<rect x="157.5" y="169.1" width="6.2" height="6.2" fill="#38a4fa"/>
<rect x="163.6" y="169.1" width="18.4" height="6.2" fill="#3358fa"/>
<rect x="181.9" y="169.1" width="6.2" height="6.2" fill="#38a4fa"/>
<rect x="188" y="169.1" width="12.3" height="6.2" fill="#3358fa"/>
<rect x="200.1" y="169.1" width="18.4" height="6.2" fill="#0000e6"/>
<rect x="218.4" y="169.1" width="6.2" height="6.2" fill="#3358fa"/>
<rect x="224.5" y="169.1" width="12.3" height="6.2" fill="#38a4fa"/>
<rect x="236.7" y="169.1" width="6.2" height="6.2" fill="#3358fa"/>
<rect x="242.8" y="169.1" width="6.2" height="6.2" fill="#38a4fa"/>
<rect x="248.9" y="169.1" width="6.2" height="6.2" fill="#00ffff"/>
<rect x="255" y="169.1" width="6.2" height="6.2" fill="#93fbb3"/>
<rect x="261.1" y="169.1" width="6.2" height="6.2" fill="#d2fa62"/>
<rect x="267.1" y="169.1" width="18.4" height="6.2" fill="#93fbb3"/>
<rect x="285.4" y="169.1" width="6.2" height="6.2" fill="#d2fa62"/>
<rect x="291.5" y="169.1" width="24.5" height="6.2" fill="#ffff00"/>
<rect x="66.2" y="175.2" width="6.2" height="6.2" fill="#0000e6"/>
<rect x="108.8" y="175.2" width="18.4" height="6.2" fill="#00ffff"/>
<rect x="127.1" y="175.2" width="6.2" height="6.2" fill="#38a4fa"/>
<rect x="133.2" y="175.2" width="12.3" height="6.2" fill="#3358fa"/>
<rect x="145.3" y="175.2" width="12.3" height="6.2" fill="#38a4fa"/>
<rect x="157.5" y="175.2" width="6.2" height="6.2" fill="#3358fa"/>
<rect x="169.7" y="175.2" width="30.6" height="6.2" fill="#3358fa"/>
<rect x="200.1" y="175.2" width="24.5" height="6.2" fill="#0000e6"/>
<rect x="224.5" y="175.2" width="18.4" height="6.2" fill="#38a4fa"/>
<rect x="242.8" y="175.2" width="18.4" height="6.2" fill="#00ffff"/>
<rect x="261.1" y="175.2" width="6.2" height="6.2" fill="#93fbb3"/>
<rect x="267.1" y="175.2" width="6.2" height="6.2" fill="#d2fa62"/>
<rect x="273.2" y="175.2" width="12.3" height="6.2" fill="#93fbb3"/>
<rect x="285.4" y="175.2" width="12.3" height="6.2" fill="#d2fa62"/>
<rect x="297.6" y="175.2" width="18.4" height="6.2" fill="#ffff00"/>
<rect x="315.9" y="175.2" width="18.4" height="6.2" fill="#ffb300"/>
<rect x="66.2" y="181.3" width="6.2" height="6.2" fill="#0000e6"/>
<rect x="90.5" y="181.3" width="12.3" height="6.2" fill="#3358fa"/>
<rect x="108.8" y="181.3" width="6.2" height="6.2" fill="#38a4fa"/>
<rect x="114.9" y="181.3" width="12.3" height="6.2" fill="#3358fa"/>
<rect x="127.1" y="181.3" width="6.2" height="6.2" fill="#38a4fa"/>
<rect x="133.2" y="181.3" width="12.3" height="6.2" fill="#3358fa"/>
<rect x="151.4" y="181.3" width="18.4" height="6.2" fill="#3358fa"/>
<rect x="169.7" y="181.3" width="24.5" height="6.2" fill="#38a4fa"/>
<rect x="194.1" y="181.3" width="6.2" height="6.2" fill="#3358fa"/>
<rect x="200.1" y="181.3" width="24.5" height="6.2" fill="#0000e6"/>
<rect x="224.5" y="181.3" width="12.3" height="6.2" fill="#3358fa"/>
<rect x="236.7" y="181.3" width="12.3" height="6.2" fill="#38a4fa"/>
<rect x="248.9" y="181.3" width="6.2" height="6.2" fill="#00ffff"/>
<rect x="255" y="181.3" width="24.5" height="6.2" fill="#93fbb3"/>
<rect x="279.3" y="181.3" width="12.3" height="6.2" fill="#d2fa62"/>
<rect x="291.5" y="181.3" width="12.3" height="6.2" fill="#ffff00"/>
<rect x="303.7" y="181.3" width="30.6" height="6.2" fill="#ffb300"/>
<rect x="90.5" y="187.4" width="12.3" height="6.2" fill="#3358fa"/>
<rect x="108.8" y="187.4" width="18.4" height="6.2" fill="#0000e6"/>
<rect x="127.1" y="187.4" width="12.3" height="6.2" fill="#38a4fa"/>
<rect x="139.2" y="187.4" width="6.2" height="6.2" fill="#0000e6"/>
<rect x="145.3" y="187.4" width="24.5" height="6.2" fill="#3358fa"/>
<rect x="169.7" y="187.4" width="24.5" height="6.2" fill="#38a4fa"/>
<rect x="194.1" y="187.4" width="12.3" height="6.2" fill="#3358fa"/>
<rect x="206.2" y="187.4" width="18.4" height="6.2" fill="#0000e6"/>
<rect x="224.5" y="187.4" width="12.3" height="6.2" fill="#3358fa"/>
<rect x="236.7" y="187.4" width="12.3" height="6.2" fill="#38a4fa"/>
<rect x="248.9" y="187.4" width="12.3" height="6.2" fill="#93fbb3"/>
<rect x="261.1" y="187.4" width="30.6" height="6.2" fill="#d2fa62"/>
<rect x="291.5" y="187.4" width="12.3" height="6.2" fill="#ffff00"/>
<rect x="303.7" y="187.4" width="24.5" height="6.2" fill="#ffb300"/>
<rect x="90.5" y="193.5" width="12.3" height="6.2" fill="#3358fa"/>
<rect x="108.8" y="193.5" width="18.4" height="6.2" fill="#0000e6"/>
<rect x="127.1" y="193.5" width="12.3" height="6.2" fill="#38a4fa"/>
<rect x="139.2" y="193.5" width="6.2" height="6.2" fill="#0000e6"/>
<rect x="145.3" y="193.5" width="18.4" height="6.2" fill="#3358fa"/>
<rect x="163.6" y="193.5" width="18.4" height="6.2" fill="#38a4fa"/>
<rect x="181.9" y="193.5" width="12.3" height="6.2" fill="#00ffff"/>
<rect x="194.1" y="193.5" width="6.2" height="6.2" fill="#38a4fa"/>
<rect x="200.1" y="193.5" width="6.2" height="6.2" fill="#3358fa"/>
<rect x="206.2" y="193.5" width="24.5" height="6.2" fill="#0000e6"/>
<rect x="230.6" y="193.5" width="6.2" height="6.2" fill="#3358fa"/>
<rect x="236.7" y="193.5" width="6.2" height="6.2" fill="#38a4fa"/>
<rect x="242.8" y="193.5" width="6.2" height="6.2" fill="#00ffff"/>
<rect x="248.9" y="193.5" width="6.2" height="6.2" fill="#93fbb3"/>
<rect x="255" y="193.5" width="36.6" height="6.2" fill="#d2fa62"/>
<rect x="291.5" y="193.5" width="18.4" height="6.2" fill="#ffff00"/>
<rect x="309.8" y="193.5" width="12.3" height="6.2" fill="#ffb300"/>
<rect x="108.8" y="199.6" width="18.4" height="6.2" fill="#0000e6"/>
<rect x="127.1" y="199.6" width="12.3" height="6.2" fill="#38a4fa"/>
<rect x="139.2" y="199.6" width="6.2" height="6.2" fill="#0000e6"/>
<rect x="145.3" y="199.6" width="12.3" height="6.2" fill="#3358fa"/>
<rect x="157.5" y="199.6" width="42.7" height="6.2" fill="#38a4fa"/>
<rect x="200.1" y="199.6" width="12.3" height="6.2" fill="#3358fa"/>
<rect x="212.3" y="199.6" width="12.3" height="6.2" fill="#0000e6"/>
<rect x="224.5" y="199.6" width="18.4" height="6.2" fill="#3358fa"/>
<rect x="242.8" y="199.6" width="6.2" height="6.2" fill="#00ffff"/>
<rect x="248.9" y="199.6" width="6.2" height="6.2" fill="#93fbb3"/>
<rect x="255" y="199.6" width="12.3" height="6.2" fill="#d2fa62"/>
<rect x="267.1" y="199.6" width="48.8" height="6.2" fill="#ffff00"/>
<rect x="315.9" y="199.6" width="12.3" height="6.2" fill="#d2fa62"/>
<rect x="157.5" y="205.7" width="24.5" height="6.2" fill="#00ffff"/>
<rect x="181.9" y="205.7" width="18.4" height="6.2" fill="#38a4fa"/>
<rect x="200.1" y="205.7" width="42.7" height="6.2" fill="#3358fa"/>
<rect x="242.8" y="205.7" width="6.2" height="6.2" fill="#38a4fa"/>
<rect x="248.9" y="205.7" width="6.2" height="6.2" fill="#00ffff"/>
<rect x="255" y="205.7" width="12.3" height="6.2" fill="#d2fa62"/>
<rect x="267.1" y="205.7" width="42.7" height="6.2" fill="#ffff00"/>
<rect x="309.8" y="205.7" width="24.5" height="6.2" fill="#d2fa62"/>
<rect x="163.6" y="211.8" width="24.5" height="6.2" fill="#00ffff"/>
<rect x="188" y="211.8" width="24.5" height="6.2" fill="#38a4fa"/>
<rect x="212.3" y="211.8" width="6.2" height="6.2" fill="#00ffff"/>
<rect x="218.4" y="211.8" width="30.6" height="6.2" fill="#38a4fa"/>
<rect x="248.9" y="211.8" width="6.2" height="6.2" fill="#00ffff"/>
<rect x="255" y="211.8" width="12.3" height="6.2" fill="#d2fa62"/>
<rect x="267.1" y="211.8" width="67.1" height="6.2" fill="#ffff00"/>
<rect x="169.7" y="217.8" width="12.3" height="6.2" fill="#00ffff"/>
<rect x="181.9" y="217.8" width="6.2" height="6.2" fill="#38a4fa"/>
<rect x="188" y="217.8" width="12.3" height="6.2" fill="#00ffff"/>
<rect x="200.1" y="217.8" width="6.2" height="6.2" fill="#38a4fa"/>
<rect x="206.2" y="217.8" width="6.2" height="6.2" fill="#00ffff"/>
<rect x="212.3" y="217.8" width="6.2" height="6.2" fill="#93fbb3"/>
<rect x="218.4" y="217.8" width="12.3" height="6.2" fill="#00ffff"/>
<rect x="230.6" y="217.8" width="18.4" height="6.2" fill="#38a4fa"/>
<rect x="248.9" y="217.8" width="6.2" height="6.2" fill="#93fbb3"/>
<rect x="255" y="217.8" width="12.3" height="6.2" fill="#d2fa62"/>
<rect x="267.1" y="217.8" width="6.2" height="6.2" fill="#ffff00"/>
<rect x="273.2" y="217.8" width="6.2" height="6.2" fill="#ffb300"/>
<rect x="279.3" y="217.8" width="24.5" height="6.2" fill="#ffff00"/>
<rect x="303.7" y="217.8" width="30.6" height="6.2" fill="#ffb300"/>
<rect x="175.8" y="223.9" width="6.2" height="6.2" fill="#00ffff"/>
<rect x="181.9" y="223.9" width="6.2" height="6.2" fill="#38a4fa"/>
<rect x="188" y="223.9" width="6.2" height="6.2" fill="#93fbb3"/>
<rect x="194.1" y="223.9" width="6.2" height="6.2" fill="#d2fa62"/>
<rect x="200.1" y="223.9" width="6.2" height="6.2" fill="#38a4fa"/>
<rect x="206.2" y="223.9" width="6.2" height="6.2" fill="#00ffff"/>
<rect x="212.3" y="223.9" width="6.2" height="6.2" fill="#93fbb3"/>
<rect x="218.4" y="223.9" width="12.3" height="6.2" fill="#00ffff"/>
<rect x="230.6" y="223.9" width="12.3" height="6.2" fill="#38a4fa"/>
<rect x="242.8" y="223.9" width="6.2" height="6.2" fill="#00ffff"/>
<rect x="248.9" y="223.9" width="6.2" height="6.2" fill="#93fbb3"/>
<rect x="255" y="223.9" width="12.3" height="6.2" fill="#d2fa62"/>
<rect x="267.1" y="223.9" width="6.2" height="6.2" fill="#ffff00"/>
<rect x="273.2" y="223.9" width="6.2" height="6.2" fill="#ffb300"/>
<rect x="279.3" y="223.9" width="18.4" height="6.2" fill="#ffff00"/>
<rect x="303.7" y="223.9" width="24.5" height="6.2" fill="#ffb300"/>
<rect x="181.9" y="230" width="6.2" height="6.2" fill="#38a4fa"/>
<rect x="188" y="230" width="6.2" height="6.2" fill="#93fbb3"/>
<rect x="194.1" y="230" width="6.2" height="6.2" fill="#d2fa62"/>
<rect x="200.1" y="230" width="6.2" height="6.2" fill="#38a4fa"/>
<rect x="206.2" y="230" width="6.2" height="6.2" fill="#00ffff"/>
<rect x="212.3" y="230" width="6.2" height="6.2" fill="#93fbb3"/>
<rect x="218.4" y="230" width="12.3" height="6.2" fill="#00ffff"/>
<rect x="230.6" y="230" width="12.3" height="6.2" fill="#38a4fa"/>
<rect x="242.8" y="230" width="12.3" height="6.2" fill="#93fbb3"/>
<rect x="255" y="230" width="12.3" height="6.2" fill="#d2fa62"/>
<rect x="267.1" y="230" width="6.2" height="6.2" fill="#ffff00"/>
<rect x="273.2" y="230" width="6.2" height="6.2" fill="#ffb300"/>
<rect x="279.3" y="230" width="6.2" height="6.2" fill="#ffff00"/>
<rect x="309.8" y="230" width="12.3" height="6.2" fill="#ffb300"/>
<rect x="188" y="236.1" width="6.2" height="6.2" fill="#93fbb3"/>
<rect x="194.1" y="236.1" width="6.2" height="6.2" fill="#d2fa62"/>
<rect x="224.5" y="236.1" width="24.5" height="6.2" fill="#d2fa62"/>
<rect x="248.9" y="236.1" width="18.4" height="6.2" fill="#93fbb3"/>
<rect x="224.5" y="242.2" width="24.5" height="6.2" fill="#d2fa62"/>
<rect x="248.9" y="242.2" width="18.4" height="6.2" fill="#93fbb3"/>
<rect x="230.6" y="248.3" width="18.4" height="6.2" fill="#d2fa62"/>
<rect x="248.9" y="248.3" width="12.3" height="6.2" fill="#93fbb3"/>
<rect x="236.7" y="254.4" width="12.3" height="6.2" fill="#d2fa62"/>
<rect x="248.9" y="254.4" width="6.2" height="6.2" fill="#93fbb3"/>
<g clip-path="url(#hcb)"><path d="M-147.68 200l164 -164M-144.84 200l164 -164M-142.00 200l164 -164M-139.16 200l164 -164M-136.32 200l164 -164M-133.48 200l164 -164M-130.64 200l164 -164M-127.80 200l164 -164M-124.96 200l164 -164M-122.12 200l164 -164M-119.28 200l164 -164M-116.44 200l164 -164M-113.60 200l164 -164M-110.76 200l164 -164M-107.92 200l164 -164M-105.08 200l164 -164M-102.24 200l164 -164M-99.40 200l164 -164M-96.56 200l164 -164M-93.72 200l164 -164M-90.88 200l164 -164M-88.04 200l164 -164M-85.20 200l164 -164M-82.36 200l164 -164M-79.52 200l164 -164M-76.68 200l164 -164M-73.84 200l164 -164M-71.00 200l164 -164M-68.16 200l164 -164M-65.32 200l164 -164M-62.48 200l164 -164M-59.64 200l164 -164M-56.80 200l164 -164M-53.96 200l164 -164M-51.12 200l164 -164M-48.28 200l164 -164M-45.44 200l164 -164M-42.60 200l164 -164M-39.76 200l164 -164M-36.92 200l164 -164M-34.08 200l164 -164M-31.24 200l164 -164M-28.40 200l164 -164M-25.56 200l164 -164M-22.72 200l164 -164M-19.88 200l164 -164M-17.04 200l164 -164M-14.20 200l164 -164M-11.36 200l164 -164M-8.52 200l164 -164M-5.68 200l164 -164M-2.84 200l164 -164M0.00 200l164 -164M2.84 200l164 -164M5.68 200l164 -164M8.52 200l164 -164M11.36 200l164 -164M14.20 200l164 -164M17.04 200l164 -164M19.88 200l164 -164M22.72 200l164 -164M25.56 200l164 -164M28.40 200l164 -164M31.24 200l164 -164M34.08 200l164 -164M36.92 200l164 -164M39.76 200l164 -164M42.60 200l164 -164M45.44 200l164 -164M48.28 200l164 -164M51.12 200l164 -164M53.96 200l164 -164M56.80 200l164 -164M59.64 200l164 -164M62.48 200l164 -164M65.32 200l164 -164M68.16 200l164 -164M71.00 200l164 -164M73.84 200l164 -164M76.68 200l164 -164M79.52 200l164 -164M82.36 200l164 -164M85.20 200l164 -164M88.04 200l164 -164M90.88 200l164 -164M93.72 200l164 -164M96.56 200l164 -164M99.40 200l164 -164M102.24 200l164 -164M105.08 200l164 -164M107.92 200l164 -164M110.76 200l164 -164M113.60 200l164 -164M116.44 200l164 -164M119.28 200l164 -164M122.12 200l164 -164M124.96 200l164 -164M127.80 200l164 -164M130.64 200l164 -164M133.48 200l164 -164M136.32 200l164 -164M139.16 200l164 -164M142.00 200l164 -164M144.84 200l164 -164M147.68 200l164 -164M150.52 200l164 -164M153.36 200l164 -164M156.20 200l164 -164M159.04 200l164 -164M161.88 200l164 -164M164.72 200l164 -164M167.56 200l164 -164M170.40 200l164 -164M173.24 200l164 -164M176.08 200l164 -164M178.92 200l164 -164M181.76 200l164 -164M184.60 200l164 -164M187.44 200l164 -164M190.28 200l164 -164M193.12 200l164 -164M195.96 200l164 -164M198.80 200l164 -164M201.64 200l164 -164M204.48 200l164 -164M207.32 200l164 -164M210.16 200l164 -164M213.00 200l164 -164M215.84 200l164 -164M218.68 200l164 -164M221.52 200l164 -164M224.36 200l164 -164M227.20 200l164 -164M230.04 200l164 -164M232.88 200l164 -164M235.72 200l164 -164M238.56 200l164 -164M241.40 200l164 -164M244.24 200l164 -164M247.08 200l164 -164M249.92 200l164 -164M252.76 200l164 -164M255.60 200l164 -164M258.44 200l164 -164M261.28 200l164 -164M264.12 200l164 -164M266.96 200l164 -164M269.80 200l164 -164M272.64 200l164 -164M275.48 200l164 -164M278.32 200l164 -164M281.16 200l164 -164M284.00 200l164 -164M286.84 200l164 -164M289.68 200l164 -164M292.52 200l164 -164M295.36 200l164 -164M298.20 200l164 -164M301.04 200l164 -164M303.88 200l164 -164M306.72 200l164 -164M309.56 200l164 -164M312.40 200l164 -164M315.24 200l164 -164M318.08 200l164 -164M320.92 200l164 -164M323.76 200l164 -164M326.60 200l164 -164M329.44 200l164 -164" stroke="#333" stroke-width="0.36" fill="none"/></g>
<path d="M17.5 28V262M23.6 28V262M29.7 28V262M35.8 28V262M41.9 28V262M48 28V262M54 28V262M60.1 28V262M66.2 28V262M72.3 28V262M78.4 28V262M84.5 28V262M90.6 28V262M96.7 28V262M102.8 28V262M108.8 28V262M114.9 28V262M121 28V262M127.1 28V262M133.2 28V262M139.3 28V262M145.4 28V262M151.5 28V262M157.6 28V262M163.7 28V262M169.8 28V262M175.8 28V262M181.9 28V262M188 28V262M194.1 28V262M200.2 28V262M206.3 28V262M212.4 28V262M218.5 28V262M224.6 28V262M230.7 28V262M236.7 28V262M242.8 28V262M248.9 28V262M255 28V262M261.1 28V262M267.2 28V262M273.3 28V262M279.4 28V262M285.5 28V262M291.6 28V262M297.6 28V262M303.7 28V262M309.8 28V262M315.9 28V262M322 28V262M328.1 28V262M334.2 28V262M340.3 28V262M346.4 28V262M352.4 28V262M358.5 28V262M364.6 28V262M370.7 28V262M376.8 28V262M382.9 28V262M389 28V262M395.1 28V262M401.2 28V262M407.3 28V262M413.3 28V262M18 23H412M18 29.1H412M18 35.2H412M18 41.3H412M18 47.4H412M18 53.5H412M18 59.6H412M18 65.7H412M18 71.7H412M18 77.8H412M18 83.9H412M18 90H412M18 96.1H412M18 102.2H412M18 108.3H412M18 114.4H412M18 120.5H412M18 126.5H412M18 132.6H412M18 138.7H412M18 144.8H412M18 150.9H412M18 157H412M18 163.1H412M18 169.2H412M18 175.3H412M18 181.4H412M18 187.4H412M18 193.5H412M18 199.6H412M18 205.7H412M18 211.8H412M18 217.9H412M18 224H412M18 230.1H412M18 236.2H412M18 242.3H412M18 248.4H412M18 254.4H412M18 260.5H412" stroke="#5a5e62" stroke-opacity="0.7" stroke-width="0.5" fill="none"/>
</g>
<path d="M26.4 118.3 L28.9 114.6 L32.7 113.3 L35.8 111.4 L38.9 110.2 L40.8 111.7 L45.2 110.8 L47.1 108.3 L53.3 106.4 L59.6 103.9 L66.5 102 L67.8 97.7 L70.9 93.9 L69 90.1 L69.6 87.6 L65.9 84.5 L72.8 83.2 L79.7 82 L82.2 76.4 L85.3 70.7 L92.2 71.3 L99.7 70.7 L101 64.4 L107.2 61.9 L108.5 58.8 L113.5 58.6 L114.7 61.3 L121 65.1 L127.3 66.3 L129.5 68.2 L130.8 71.3 L133.3 73.8 L132 78.9 L130.1 80.7 L132.6 83.2 L139.5 83.2 L145.8 83.2 L151.4 85.1 L157.1 88.3 L160.2 89.5 L162.7 93.9 L165.8 97 L170.2 97.7 L177.1 98.3 L183.4 98.9 L189.7 98.7 L195.9 98.9 L199.7 100.2 L202.2 102 L207.2 102.7 L212.2 103.9 L218.5 104.2 L222.2 102.7 L227.3 100.8 L233.5 99.5 L237.3 99.9 L242 99.5 L248.3 98.3 L253.3 96.4 L257.7 92.6 L260.2 91.4 L257.7 88.9 L258.3 85.1 L262.1 83.2 L266.4 84.5 L274.6 83.2 L278.4 81.4 L287.1 77.6 L290.9 75.1 L297.2 73.8 L303.4 73.2 L307.8 72.6 L308.4 70.7 L304.7 67.6 L299.7 66.1 L293.4 67.6 L287.1 66.6 L283.4 65.7 L285.2 61.9 L288.4 56.3 L292.1 55.1 L297.2 55.7 L302.2 53.5 L305.3 51.9 L308.4 46.3 L312.2 41.9 L314.7 40 L314 38.4 L310.4 37.2 L312.2 35.7 L314.5 33.4 L320.8 32.3 L329.9 31.8 L334.4 33 L340.8 34.3 L345.3 35.7 L349 39.3 L351.6 45 L353.5 49.4 L356 53.8 L359.8 55.7 L364.8 56.3 L369.8 58.2 L374.2 60.1 L376.1 63.8 L376.1 67 L382.3 67.6 L387.4 65.1 L393.6 63.8 L401.1 63.2 L399.3 65.7 L398.6 69.5 L396.1 72.6 L393.6 77.6 L389.2 81.4 L389.2 83.9 L383.6 82 L378 85.1 L378.6 90.1 L378 95.2 L374.2 99.5 L371.1 97 L367.3 100.2 L362.3 102.7 L359.8 106.4 L353.5 105.2 L351 104.5 L346 108.3 L341 110.2 L334.7 113.9 L328.5 117.7 L323.5 119 L317.2 121.7 L318.5 119 L321 115.2 L323.2 111.4 L320 109.4 L314.9 110.3 L310.8 114.1 L306.3 117.7 L300.9 120 L296.3 122.2 L298.2 125.9 L303.2 129.9 L305.9 131.7 L309.1 131.2 L311.3 128.6 L316.3 128.1 L320 129.5 L325.5 130.9 L323.5 133.6 L318.5 134.3 L313.4 137.4 L308.4 141.1 L305.3 144.9 L309.7 147.4 L312.2 151.8 L315.3 156.8 L318.5 161.2 L321.6 165 L322.2 169.3 L326.6 170.6 L323.5 174.4 L324.7 176.2 L322.2 180 L320.3 183.1 L318.5 186.9 L314.7 190 L311.6 193.2 L308.4 196.3 L307.2 199.4 L304.7 203.2 L299.7 206.9 L295.9 210.7 L290.9 214.5 L287.1 218.2 L280.9 220.1 L274.6 222.6 L268.3 224.5 L262.1 226.4 L255.9 226.9 L251.5 228.2 L252.8 230.7 L252.2 233.8 L249 234.5 L246.5 231.3 L247.2 228.2 L244.7 226.9 L242.2 225.7 L237.1 226.3 L232.1 225.1 L229 223.2 L227.7 218.8 L223.4 218.2 L220.8 216.3 L218.3 218.2 L213.3 219.4 L207.1 220.7 L200.8 221.9 L198.9 224.4 L198.3 228.8 L195.2 225.7 L192 226.3 L189.5 224.4 L185.1 223.2 L183.9 218.8 L182 218.2 L180.9 213.8 L178.4 211.3 L174.6 211.3 L174 207.6 L175.2 203.8 L178.4 200.7 L180.3 195.7 L179.6 190.6 L176.5 186.9 L173.4 185 L172.1 188.1 L168.4 187.5 L163.3 186.3 L158.3 187.5 L153.9 190.6 L150.8 193.2 L145.8 193.8 L139.5 193.2 L135.8 190 L132 188.1 L127 186.9 L122.3 188.1 L121 191.9 L119.8 188.1 L114.7 187.5 L108.5 186.9 L103.5 187.5 L97.2 184.4 L92.2 181.9 L87.2 178.7 L82.2 175.6 L77.2 173.7 L73.4 175 L70.9 172.5 L65.9 169.3 L60.2 167.5 L59.6 164.3 L57.1 159.9 L59.6 155.6 L60.2 151.8 L58.4 148 L54.6 144.3 L48.3 141.8 L42.1 138.6 L38.9 134.9 L33.3 132.4 L32.7 127.7 L30.8 122.7 L27.7 121.5ZM240.3 240.7 L243.4 237.6 L248.4 236.1 L254.1 236.3 L254.7 238.2 L252.2 242.6 L248.4 245.7 L245.9 247.4 L242.2 245.7 L240.3 243.2ZM319.7 204.4 L322.2 206.3 L321 210.7 L318.5 215.7 L315.9 220.7 L314.7 225.1 L312.2 220.7 L310.3 215.7 L312.2 210.7 L315.9 206.9Z" fill="none" stroke="#505050" stroke-width="0.6" stroke-linejoin="round"/>
<path d="M321.6 165 L322.2 169.3 L326.6 170.6 L323.5 174.4 L324.7 176.2 L322.2 180 L320.3 183.1 L318.5 186.9 L314.7 190 L311.6 193.2 L308.4 196.3 L307.2 199.4 L304.7 203.2 L299.7 206.9 L295.9 210.7 L290.9 214.5 L287.1 218.2 L280.9 220.1 L274.6 222.6 L268.3 224.5 L262.1 226.4 L255.9 226.9 L251.5 228.2" fill="none" stroke="#4a4a4a" stroke-width="1.3" stroke-dasharray="0.7 1.5 1.1 2.1 0.5 1.2" stroke-linejoin="round"/>
<path d="M244.4 259.3L247.5 265.2M250.6 283.5L249.8 289M237.3 314.7L238.4 321M260 337L266.2 335M282.6 313.9L286.5 309.2M301.3 290.5L303.6 284.3M303.6 260.6L303.6 266.3M306.8 247.6L309.9 242.2M316.1 231.2L321.6 225.8M326 208.2L324.7 215.1M246.5 312.5L251 310.5M259 311L259.6 308.5" stroke="#2a2a2a" stroke-width="0.55" fill="none"/><path d="M260.1 255.0l-1.1 -0.2M262.7 254.4l-0.1 -1.1M261.8 256.5l-0.3 -0.5M258.1 257.5l-1.1 -0.4M257.9 256.9l-1.1 -0.5M258.1 254.5l0.3 -0.8M260.9 259.7l1.0 -0.3M258.6 255.5l0.5 -0.1M262.5 260.5l0.5 -0.4M274.3 298.6l0.3 -0.5M293.5 289.5l0.6 -0.0M288.1 293.0l0.8 -0.3M252.0 304.2l1.3 -0.1M263.9 310.7l-0.2 -0.6M256.0 309.1l0.6 -0.6M277.3 297.1l0.3 -0.6M270.6 293.4l-1.2 -0.6M248.6 307.8l0.1 -0.9M279.7 297.2l0.6 -0.2M262.7 306.8l0.4 -0.6M267.5 299.2l-0.6 -0.3M286.6 298.2l1.4 -0.1M259.1 307.9l-0.1 -0.6M275.1 307.8l-0.1 -0.5M281.4 294.5l-0.1 -1.4M293.8 289.9l-1.0 -0.5M269.0 307.9l0.6 -0.6M254.1 308.5l1.0 -0.6M249.2 312.2l-0.1 -1.2M284.6 297.5l0.4 -0.6M289.1 293.0l-1.2 -0.8M281.4 299.3l-1.1 -0.5M274.9 299.5l-1.0 -0.6M289.6 299.2l0.7 -0.6M271.1 305.2l0.2 -0.5M250.4 312.2l0.7 -0.1M281.5 306.5l0.8 -0.8M286.2 293.4l-0.9 -0.1M266.8 307.0l-1.4 -0.3M247.7 310.9l-0.8 -0.1M253.0 303.5l0.5 -0.4M250.5 312.8l0.6 -0.4M251.9 306.2l-0.5 -1.2M268.5 310.4l-0.8 -0.4M250.5 309.5l-0.6 -1.1M276.3 307.4l1.1 -0.3M288.4 299.2l-1.2 -0.3M259.8 304.8l-0.7 -0.7M266.9 311.1l1.0 -0.6M292.8 290.6l0.6 -1.1M254.0 304.7l-0.9 -0.1M258.1 306.8l0.4 -1.3M274.1 296.1l-0.4 -0.5M246.7 311.0l0.6 -0.2M265.3 305.5l-1.2 -0.4M263.0 323.3l1.1 -0.6M268.5 319.4l-1.1 -0.1M266.0 327.0l0.5 -0.9M290.4 231.7l0.5 -0.2M289.6 258.2l-1.1 -0.1" stroke="#333" stroke-width="0.6" stroke-linecap="round" fill="none"/><ellipse cx="274.8" cy="262" rx="3.9" ry="1.5" transform="rotate(-25 274.8 262)" fill="none" stroke="#2a2a2a" stroke-width="0.55"/>
<path d="M17.6 18.5H414.7" stroke="#000" stroke-width="1.1"/><path d="M18.1 18.5V347.3" stroke="#444" stroke-width="1.1"/><path d="M414.2 18.5V347.8M17.6 347.3H414.7" stroke="#000" stroke-width="1.1" fill="none"/>
<path d="M68.6 18.5v3M68.6 347.0v-3M129.6 18.5v3M129.6 347.0v-3M190.6 18.5v3M190.6 347.0v-3M251.5 18.5v3M251.5 347.0v-3M312.5 18.5v3M312.5 347.0v-3M373.5 18.5v3M373.5 347.0v-3M18.5 302.3h3M414.5 302.3h-3M18.5 241.5h3M414.5 241.5h-3M18.5 180.8h3M414.5 180.8h-3M18.5 120h3M414.5 120h-3M18.5 59.2h3M414.5 59.2h-3" stroke="#333" stroke-width="0.6" fill="none"/>
<g font-size="10" fill="#111" stroke="#111" stroke-width="0.15" text-anchor="middle">
<text x="68.6" y="15.2">80°E</text><text x="68.6" y="360">80°E</text>
<text x="129.6" y="15.2">90°E</text><text x="129.6" y="360">90°E</text>
<text x="190.6" y="15.2">100°E</text><text x="190.6" y="360">100°E</text>
<text x="251.5" y="15.2">110°E</text><text x="251.5" y="360">110°E</text>
<text x="312.5" y="15.2">120°E</text><text x="312.5" y="360">120°E</text>
<text x="373.5" y="15.2">130°E</text><text x="373.5" y="360">130°E</text>
<text transform="translate(15.2 302.3) rotate(-90)">10°N</text><text transform="translate(427.3 302.3) rotate(-90)">10°N</text>
<text transform="translate(15.2 241.5) rotate(-90)">20°N</text><text transform="translate(427.3 241.5) rotate(-90)">20°N</text>
<text transform="translate(15.2 180.8) rotate(-90)">30°N</text><text transform="translate(427.3 180.8) rotate(-90)">30°N</text>
<text transform="translate(15.2 120) rotate(-90)">40°N</text><text transform="translate(427.3 120) rotate(-90)">40°N</text>
<text transform="translate(15.2 59.2) rotate(-90)">50°N</text><text transform="translate(427.3 59.2) rotate(-90)">50°N</text>
</g>
<g font-size="11" fill="#000" stroke="#000" stroke-width="0.18">
<text x="30.1" y="222.6" font-size="11.3">XCO<tspan font-size="7.6" dy="2">2ano</tspan><tspan dy="-2">(ppm)</tspan></text>
<rect x="24.6" y="230.3" width="28.1" height="14.4" fill="#0000e6" stroke="#8c8c8c" stroke-width="0.6"/>
<rect x="127.5" y="230.3" width="28.1" height="14.4" fill="#d2fa62" stroke="#8c8c8c" stroke-width="0.6"/>
<text x="57.5" y="241.8"><tspan fill-opacity="0.5" stroke-opacity="0.5">−</tspan>1.55 <tspan fill-opacity="0.5" stroke-opacity="0.5">−</tspan> <tspan fill-opacity="0.5" stroke-opacity="0.5">−</tspan>0.57</text>
<text x="160.9" y="241.8">0.73 <tspan fill-opacity="0.5" stroke-opacity="0.5">−</tspan> 1.08</text>
<rect x="24.6" y="249.5" width="28.1" height="14.4" fill="#3358fa" stroke="#8c8c8c" stroke-width="0.6"/>
<rect x="127.5" y="249.5" width="28.1" height="14.4" fill="#ffff00" stroke="#8c8c8c" stroke-width="0.6"/>
<text x="57.5" y="261"><tspan fill-opacity="0.07" stroke-opacity="0.07">−</tspan>0.56 <tspan fill-opacity="0.07" stroke-opacity="0.07">−</tspan> <tspan fill-opacity="0.07" stroke-opacity="0.07">−</tspan>0.16</text>
<text x="160.9" y="261">1.09 <tspan fill-opacity="0.07" stroke-opacity="0.07">−</tspan> 1.46</text>
<rect x="24.6" y="268.7" width="28.1" height="14.4" fill="#38a4fa" stroke="#8c8c8c" stroke-width="0.6"/>
<rect x="127.5" y="268.7" width="28.1" height="14.4" fill="#ffb300" stroke="#8c8c8c" stroke-width="0.6"/>
<text x="57.5" y="280.2">−0.15 − 0.14</text>
<text x="160.9" y="280.2">1.47 − 1.85</text>
<rect x="24.6" y="287.9" width="28.1" height="14.4" fill="#00ffff" stroke="#8c8c8c" stroke-width="0.6"/>
<rect x="127.5" y="287.9" width="28.1" height="14.4" fill="#ff7000" stroke="#8c8c8c" stroke-width="0.6"/>
<text x="57.5" y="299.4">0.15 <tspan fill-opacity="0.2" stroke-opacity="0.2">−</tspan> 0.41</text>
<text x="160.9" y="299.4">1.86 <tspan fill-opacity="0.2" stroke-opacity="0.2">−</tspan> 2.28</text>
<rect x="24.6" y="307.1" width="28.1" height="14.4" fill="#93fbb3" stroke="#8c8c8c" stroke-width="0.6"/>
<rect x="127.5" y="307.1" width="28.1" height="14.4" fill="#ff0000" stroke="#8c8c8c" stroke-width="0.6"/>
<text x="57.5" y="318.6">0.42 <tspan fill-opacity="0.6" stroke-opacity="0.6">−</tspan> 0.72</text>
<text x="160.9" y="318.6">2.29 <tspan fill-opacity="0.6" stroke-opacity="0.6">−</tspan> 3.24</text>
<rect x="22.5" y="326.4" width="18" height="9.1" fill="#fff" stroke="#3a3a3a" stroke-width="0.8"/>
<text x="44" y="334.7">National boundaries</text>
<clipPath id="lhb"><rect x="142.2" y="325.4" width="18.6" height="10"/></clipPath><g clip-path="url(#lhb)"><path d="M127.10 336l11 -11M131.20 336l11 -11M135.30 336l11 -11M139.40 336l11 -11M143.50 336l11 -11M147.60 336l11 -11M151.70 336l11 -11M155.80 336l11 -11M159.90 336l11 -11" stroke="#555" stroke-width="0.45" fill="none"/></g>
<rect x="142.4" y="325.6" width="18.3" height="9.7" fill="none" stroke="#909090" stroke-width="0.8"/>
<text x="164.5" y="334.7">Background area</text>
</g>
<rect x="290.2" y="336.1" width="82.5" height="4.2" fill="#fff" stroke="#333" stroke-width="0.7"/><rect x="290.2" y="336.1" width="41.5" height="4.2" fill="#000"/>
<g font-size="10" fill="#111" stroke="#111" stroke-width="0.15"><text x="290.4" y="331.6" text-anchor="middle">0</text><text x="331.7" y="331.6" text-anchor="middle">750</text><text x="362.6" y="331.6">1500 km</text></g>
<text x="401.6" y="28.3" font-family="Liberation Sans, sans-serif" font-size="5.6" font-weight="bold" text-anchor="middle" fill="#000">N</text>
<path d="M401.4 30L396.5 45.6L401.4 41.2Z" fill="#000" stroke="#000" stroke-width="0.4"/><path d="M401.4 30L406 45.6L401.4 41.2Z" fill="#fff" stroke="#000" stroke-width="0.5"/>
</g>
<text x="664.3" y="383.8" font-size="18" text-anchor="middle" fill="#000">(<tspan font-weight="bold">b</tspan>)</text>
<g transform="translate(222 388)">
<path d="M68.6 24.2V347M129.6 24.2V347M190.6 24.2V347M251.5 24.2V347M312.5 24.2V347M373.5 24.2V347M18.1 302.3H414.5M18.1 241.5H414.5M18.1 180.8H414.5M18.1 120H414.5M18.1 59.2H414.5" stroke="#c4c4c4" stroke-width="0.65" stroke-dasharray="3.8 10.13" fill="none"/>
<clipPath id="hcc"><path d="M322 41.3h6.1v6.1h-6.1zM340.3 41.3h6.1v6.1h-6.1zM322 53.5h6.1v6.1h-6.1zM127.1 65.7h18.3v6.1h-18.3zM145.4 71.7h6.1v6.1h-6.1zM121 77.8h18.3v6.1h-18.3zM145.4 77.8h6.1v6.1h-6.1zM273.3 77.8h6.1v6.1h-6.1zM145.4 83.9h6.1v6.1h-6.1zM236.7 83.9h6.1v6.1h-6.1zM261.1 83.9h6.1v6.1h-6.1zM212.4 90h6.1v6.1h-6.1zM236.7 90h6.1v6.1h-6.1zM35.8 96.1h12.2v6.1h-12.2zM169.8 96.1h6.1v6.1h-6.1zM212.4 96.1h6.1v6.1h-6.1zM236.7 96.1h6.1v6.1h-6.1zM255 96.1h6.1v6.1h-6.1zM35.8 102.2h12.2v6.1h-12.2zM139.3 102.2h6.1v6.1h-6.1zM175.8 102.2h6.1v6.1h-6.1zM200.2 102.2h24.4v6.1h-24.4zM35.8 108.3h18.3v6.1h-18.3zM96.7 108.3h6.1v6.1h-6.1zM114.9 108.3h18.3v6.1h-18.3zM139.3 108.3h12.2v6.1h-12.2zM194.1 108.3h12.2v6.1h-12.2zM218.5 108.3h6.1v6.1h-6.1zM29.7 114.4h6.1v6.1h-6.1zM72.3 114.4h6.1v6.1h-6.1zM90.6 114.4h24.4v6.1h-24.4zM121 114.4h24.4v6.1h-24.4zM157.6 114.4h6.1v6.1h-6.1zM212.4 114.4h6.1v6.1h-6.1zM29.7 120.5h6.1v6.1h-6.1zM54 120.5h12.2v6.1h-12.2zM72.3 120.5h12.2v6.1h-12.2zM102.8 120.5h6.1v6.1h-6.1zM121 120.5h6.1v6.1h-6.1zM157.6 120.5h18.3v6.1h-18.3zM212.4 120.5h6.1v6.1h-6.1zM29.7 126.5h6.1v6.1h-6.1zM84.5 126.5h6.1v6.1h-6.1zM96.7 126.5h18.3v6.1h-18.3zM121 126.5h12.2v6.1h-12.2zM41.9 132.6h12.2v6.1h-12.2zM78.4 132.6h6.1v6.1h-6.1zM90.6 132.6h42.6v6.1h-42.6zM41.9 138.7h24.4v6.1h-24.4zM84.5 138.7h12.2v6.1h-12.2zM102.8 138.7h42.6v6.1h-42.6zM157.6 138.7h12.2v6.1h-12.2zM41.9 144.8h36.5v6.1h-36.5zM84.5 144.8h36.5v6.1h-36.5zM127.1 144.8h12.2v6.1h-12.2zM145.4 144.8h12.2v6.1h-12.2zM163.7 144.8h12.2v6.1h-12.2zM181.9 144.8h6.1v6.1h-6.1zM41.9 150.9h18.3v6.1h-18.3zM66.2 150.9h73.1v6.1h-73.1zM145.4 150.9h12.2v6.1h-12.2zM41.9 157h24.4v6.1h-24.4zM72.3 157h60.9v6.1h-60.9zM145.4 157h12.2v6.1h-12.2zM181.9 157h6.1v6.1h-6.1zM60.1 163.1h48.7v6.1h-48.7zM114.9 163.1h6.1v6.1h-6.1zM151.5 163.1h6.1v6.1h-6.1zM60.1 169.2h6.1v6.1h-6.1zM78.4 169.2h36.5v6.1h-36.5zM121 169.2h6.1v6.1h-6.1zM139.3 169.2h6.1v6.1h-6.1zM315.9 169.2h18.3v6.1h-18.3zM60.1 175.3h6.1v6.1h-6.1zM72.3 175.3h36.5v6.1h-36.5zM163.7 175.3h6.1v6.1h-6.1zM60.1 181.4h6.1v6.1h-6.1zM72.3 181.4h18.3v6.1h-18.3zM102.8 181.4h6.1v6.1h-6.1zM145.4 181.4h6.1v6.1h-6.1zM72.3 187.4h18.3v6.1h-18.3zM102.8 187.4h6.1v6.1h-6.1zM102.8 193.5h6.1v6.1h-6.1z"/></clipPath>
<g clip-path="url(#china)">
<rect x="309.8" y="16.9" width="12.3" height="6.2" fill="#d2fa62"/>
<rect x="321.9" y="16.9" width="12.3" height="6.2" fill="#00ffff"/>
<rect x="334.1" y="16.9" width="6.2" height="6.2" fill="#38a4fa"/>
<rect x="340.2" y="16.9" width="6.2" height="6.2" fill="#3358fa"/>
<rect x="303.7" y="23" width="18.4" height="6.2" fill="#d2fa62"/>
<rect x="321.9" y="23" width="12.3" height="6.2" fill="#00ffff"/>
<rect x="334.1" y="23" width="6.2" height="6.2" fill="#38a4fa"/>
<rect x="340.2" y="23" width="12.3" height="6.2" fill="#3358fa"/>
<rect x="297.6" y="29.1" width="24.5" height="6.2" fill="#d2fa62"/>
<rect x="321.9" y="29.1" width="12.3" height="6.2" fill="#00ffff"/>
<rect x="334.1" y="29.1" width="6.2" height="6.2" fill="#38a4fa"/>
<rect x="340.2" y="29.1" width="18.4" height="6.2" fill="#3358fa"/>
<rect x="297.6" y="35.2" width="24.5" height="6.2" fill="#d2fa62"/>
<rect x="321.9" y="35.2" width="6.2" height="6.2" fill="#93fbb3"/>
<rect x="328" y="35.2" width="6.2" height="6.2" fill="#00ffff"/>
<rect x="334.1" y="35.2" width="6.2" height="6.2" fill="#38a4fa"/>
<rect x="340.2" y="35.2" width="24.5" height="6.2" fill="#3358fa"/>
<rect x="102.7" y="41.2" width="12.3" height="6.2" fill="#3358fa"/>
<rect x="285.4" y="41.2" width="6.2" height="6.2" fill="#0000e6"/>
<rect x="291.5" y="41.2" width="30.6" height="6.2" fill="#93fbb3"/>
<rect x="328" y="41.2" width="12.3" height="6.2" fill="#00ffff"/>
<rect x="346.3" y="41.2" width="24.5" height="6.2" fill="#38a4fa"/>
<rect x="96.6" y="47.3" width="30.6" height="6.2" fill="#3358fa"/>
<rect x="127.1" y="47.3" width="6.2" height="6.2" fill="#38a4fa"/>
<rect x="279.3" y="47.3" width="12.3" height="6.2" fill="#0000e6"/>
<rect x="291.5" y="47.3" width="18.4" height="6.2" fill="#3358fa"/>
<rect x="309.8" y="47.3" width="6.2" height="6.2" fill="#38a4fa"/>
<rect x="315.9" y="47.3" width="18.4" height="6.2" fill="#00ffff"/>
<rect x="334.1" y="47.3" width="30.6" height="6.2" fill="#38a4fa"/>
<rect x="364.6" y="47.3" width="12.3" height="6.2" fill="#3358fa"/>
<rect x="388.9" y="47.3" width="12.3" height="6.2" fill="#3358fa"/>
<rect x="84.4" y="53.4" width="42.7" height="6.2" fill="#3358fa"/>
<rect x="127.1" y="53.4" width="12.3" height="6.2" fill="#38a4fa"/>
<rect x="273.2" y="53.4" width="36.6" height="6.2" fill="#0000e6"/>
<rect x="309.8" y="53.4" width="12.3" height="6.2" fill="#3358fa"/>
<rect x="328" y="53.4" width="12.3" height="6.2" fill="#3358fa"/>
<rect x="340.2" y="53.4" width="6.2" height="6.2" fill="#38a4fa"/>
<rect x="346.3" y="53.4" width="6.2" height="6.2" fill="#00ffff"/>
<rect x="352.4" y="53.4" width="6.2" height="6.2" fill="#38a4fa"/>
<rect x="358.5" y="53.4" width="48.8" height="6.2" fill="#3358fa"/>
<rect x="78.4" y="59.5" width="48.8" height="6.2" fill="#3358fa"/>
<rect x="127.1" y="59.5" width="18.4" height="6.2" fill="#38a4fa"/>
<rect x="267.1" y="59.5" width="42.7" height="6.2" fill="#0000e6"/>
<rect x="309.8" y="59.5" width="12.3" height="6.2" fill="#3358fa"/>
<rect x="321.9" y="59.5" width="12.3" height="6.2" fill="#0000e6"/>
<rect x="334.1" y="59.5" width="6.2" height="6.2" fill="#3358fa"/>
<rect x="340.2" y="59.5" width="12.3" height="6.2" fill="#38a4fa"/>
<rect x="352.4" y="59.5" width="61" height="6.2" fill="#3358fa"/>
<rect x="72.3" y="65.6" width="48.8" height="6.2" fill="#3358fa"/>
<rect x="121" y="65.6" width="6.2" height="6.2" fill="#38a4fa"/>
<rect x="267.1" y="65.6" width="36.6" height="6.2" fill="#0000e6"/>
<rect x="303.7" y="65.6" width="6.2" height="6.2" fill="#3358fa"/>
<rect x="309.8" y="65.6" width="6.2" height="6.2" fill="#38a4fa"/>
<rect x="315.9" y="65.6" width="6.2" height="6.2" fill="#3358fa"/>
<rect x="321.9" y="65.6" width="18.4" height="6.2" fill="#0000e6"/>
<rect x="340.2" y="65.6" width="6.2" height="6.2" fill="#3358fa"/>
<rect x="346.3" y="65.6" width="36.6" height="6.2" fill="#38a4fa"/>
<rect x="382.8" y="65.6" width="30.6" height="6.2" fill="#3358fa"/>
<rect x="60.1" y="71.7" width="6.2" height="6.2" fill="#0000e6"/>
<rect x="66.2" y="71.7" width="54.9" height="6.2" fill="#3358fa"/>
<rect x="121" y="71.7" width="6.2" height="6.2" fill="#38a4fa"/>
<rect x="127.1" y="71.7" width="18.4" height="6.2" fill="#00ffff"/>
<rect x="151.4" y="71.7" width="6.2" height="6.2" fill="#00ffff"/>
<rect x="157.5" y="71.7" width="6.2" height="6.2" fill="#93fbb3"/>
<rect x="255" y="71.7" width="48.8" height="6.2" fill="#0000e6"/>
<rect x="303.7" y="71.7" width="6.2" height="6.2" fill="#3358fa"/>
<rect x="309.8" y="71.7" width="6.2" height="6.2" fill="#38a4fa"/>
<rect x="315.9" y="71.7" width="6.2" height="6.2" fill="#3358fa"/>
<rect x="321.9" y="71.7" width="18.4" height="6.2" fill="#0000e6"/>
<rect x="340.2" y="71.7" width="6.2" height="6.2" fill="#3358fa"/>
<rect x="346.3" y="71.7" width="6.2" height="6.2" fill="#38a4fa"/>
<rect x="352.4" y="71.7" width="6.2" height="6.2" fill="#00ffff"/>
<rect x="358.5" y="71.7" width="12.3" height="6.2" fill="#38a4fa"/>
<rect x="370.7" y="71.7" width="36.6" height="6.2" fill="#3358fa"/>
<rect x="54" y="77.8" width="18.4" height="6.2" fill="#0000e6"/>
<rect x="72.3" y="77.8" width="30.6" height="6.2" fill="#3358fa"/>
<rect x="102.7" y="77.8" width="12.3" height="6.2" fill="#38a4fa"/>
<rect x="114.9" y="77.8" width="6.2" height="6.2" fill="#00ffff"/>
<rect x="139.2" y="77.8" width="6.2" height="6.2" fill="#00ffff"/>
<rect x="151.4" y="77.8" width="6.2" height="6.2" fill="#00ffff"/>
<rect x="157.5" y="77.8" width="12.3" height="6.2" fill="#93fbb3"/>
<rect x="248.9" y="77.8" width="24.5" height="6.2" fill="#0000e6"/>
<rect x="279.3" y="77.8" width="24.5" height="6.2" fill="#0000e6"/>
<rect x="303.7" y="77.8" width="12.3" height="6.2" fill="#3358fa"/>
<rect x="315.9" y="77.8" width="24.5" height="6.2" fill="#0000e6"/>
<rect x="340.2" y="77.8" width="6.2" height="6.2" fill="#3358fa"/>
<rect x="346.3" y="77.8" width="6.2" height="6.2" fill="#00ffff"/>
<rect x="352.4" y="77.8" width="6.2" height="6.2" fill="#93fbb3"/>
<rect x="358.5" y="77.8" width="12.3" height="6.2" fill="#00ffff"/>
<rect x="370.7" y="77.8" width="18.4" height="6.2" fill="#38a4fa"/>
<rect x="388.9" y="77.8" width="12.3" height="6.2" fill="#3358fa"/>
<rect x="47.9" y="83.9" width="36.6" height="6.2" fill="#0000e6"/>
<rect x="84.4" y="83.9" width="18.4" height="6.2" fill="#3358fa"/>
<rect x="102.7" y="83.9" width="6.2" height="6.2" fill="#00ffff"/>
<rect x="108.8" y="83.9" width="6.2" height="6.2" fill="#93fbb3"/>
<rect x="114.9" y="83.9" width="12.3" height="6.2" fill="#d2fa62"/>
<rect x="127.1" y="83.9" width="12.3" height="6.2" fill="#93fbb3"/>
<rect x="139.2" y="83.9" width="6.2" height="6.2" fill="#00ffff"/>
<rect x="151.4" y="83.9" width="6.2" height="6.2" fill="#00ffff"/>
<rect x="157.5" y="83.9" width="18.4" height="6.2" fill="#93fbb3"/>
<rect x="175.8" y="83.9" width="6.2" height="6.2" fill="#3358fa"/>
<rect x="181.9" y="83.9" width="6.2" height="6.2" fill="#38a4fa"/>
<rect x="188" y="83.9" width="6.2" height="6.2" fill="#00ffff"/>
<rect x="194.1" y="83.9" width="12.3" height="6.2" fill="#93fbb3"/>
<rect x="224.5" y="83.9" width="12.3" height="6.2" fill="#38a4fa"/>
<rect x="242.8" y="83.9" width="18.4" height="6.2" fill="#0000e6"/>
<rect x="267.1" y="83.9" width="36.6" height="6.2" fill="#0000e6"/>
<rect x="303.7" y="83.9" width="12.3" height="6.2" fill="#3358fa"/>
<rect x="315.9" y="83.9" width="18.4" height="6.2" fill="#0000e6"/>
<rect x="334.1" y="83.9" width="6.2" height="6.2" fill="#3358fa"/>
<rect x="340.2" y="83.9" width="6.2" height="6.2" fill="#38a4fa"/>
<rect x="346.3" y="83.9" width="36.6" height="6.2" fill="#00ffff"/>
<rect x="382.8" y="83.9" width="6.2" height="6.2" fill="#38a4fa"/>
<rect x="388.9" y="83.9" width="6.2" height="6.2" fill="#3358fa"/>
<rect x="54" y="90" width="12.3" height="6.2" fill="#0000e6"/>
<rect x="66.2" y="90" width="36.6" height="6.2" fill="#3358fa"/>
<rect x="102.7" y="90" width="6.2" height="6.2" fill="#38a4fa"/>
<rect x="108.8" y="90" width="12.3" height="6.2" fill="#93fbb3"/>
<rect x="121" y="90" width="6.2" height="6.2" fill="#00ffff"/>
<rect x="127.1" y="90" width="12.3" height="6.2" fill="#93fbb3"/>
<rect x="139.2" y="90" width="6.2" height="6.2" fill="#00ffff"/>
<rect x="145.3" y="90" width="6.2" height="6.2" fill="#38a4fa"/>
<rect x="151.4" y="90" width="6.2" height="6.2" fill="#3358fa"/>
<rect x="157.5" y="90" width="6.2" height="6.2" fill="#93fbb3"/>
<rect x="163.6" y="90" width="18.4" height="6.2" fill="#3358fa"/>
<rect x="181.9" y="90" width="6.2" height="6.2" fill="#38a4fa"/>
<rect x="188" y="90" width="6.2" height="6.2" fill="#00ffff"/>
<rect x="194.1" y="90" width="18.4" height="6.2" fill="#93fbb3"/>
<rect x="218.4" y="90" width="18.4" height="6.2" fill="#38a4fa"/>
<rect x="242.8" y="90" width="6.2" height="6.2" fill="#3358fa"/>
<rect x="248.9" y="90" width="18.4" height="6.2" fill="#0000e6"/>
<rect x="267.1" y="90" width="12.3" height="6.2" fill="#3358fa"/>
<rect x="279.3" y="90" width="12.3" height="6.2" fill="#0000e6"/>
<rect x="291.5" y="90" width="42.7" height="6.2" fill="#3358fa"/>
<rect x="334.1" y="90" width="12.3" height="6.2" fill="#38a4fa"/>
<rect x="346.3" y="90" width="18.4" height="6.2" fill="#00ffff"/>
<rect x="364.6" y="90" width="12.3" height="6.2" fill="#93fbb3"/>
<rect x="376.8" y="90" width="6.2" height="6.2" fill="#00ffff"/>
<rect x="382.8" y="90" width="6.2" height="6.2" fill="#38a4fa"/>
<rect x="29.6" y="96" width="6.2" height="6.2" fill="#38a4fa"/>
<rect x="47.9" y="96" width="36.6" height="6.2" fill="#3358fa"/>
<rect x="84.4" y="96" width="18.4" height="6.2" fill="#38a4fa"/>
<rect x="102.7" y="96" width="36.6" height="6.2" fill="#93fbb3"/>
<rect x="139.2" y="96" width="12.3" height="6.2" fill="#00ffff"/>
<rect x="151.4" y="96" width="12.3" height="6.2" fill="#38a4fa"/>
<rect x="163.6" y="96" width="6.2" height="6.2" fill="#3358fa"/>
<rect x="175.8" y="96" width="6.2" height="6.2" fill="#3358fa"/>
<rect x="181.9" y="96" width="6.2" height="6.2" fill="#38a4fa"/>
<rect x="188" y="96" width="6.2" height="6.2" fill="#00ffff"/>
<rect x="194.1" y="96" width="18.4" height="6.2" fill="#93fbb3"/>
<rect x="218.4" y="96" width="18.4" height="6.2" fill="#38a4fa"/>
<rect x="242.8" y="96" width="12.3" height="6.2" fill="#3358fa"/>
<rect x="261.1" y="96" width="6.2" height="6.2" fill="#0000e6"/>
<rect x="267.1" y="96" width="24.5" height="6.2" fill="#3358fa"/>
<rect x="291.5" y="96" width="36.6" height="6.2" fill="#38a4fa"/>
<rect x="328" y="96" width="30.6" height="6.2" fill="#00ffff"/>
<rect x="358.5" y="96" width="6.2" height="6.2" fill="#93fbb3"/>
<rect x="364.6" y="96" width="6.2" height="6.2" fill="#00ffff"/>
<rect x="370.7" y="96" width="18.4" height="6.2" fill="#93fbb3"/>
<rect x="23.5" y="102.1" width="12.3" height="6.2" fill="#38a4fa"/>
<rect x="47.9" y="102.1" width="12.3" height="6.2" fill="#3358fa"/>
<rect x="60.1" y="102.1" width="6.2" height="6.2" fill="#0000e6"/>
<rect x="66.2" y="102.1" width="12.3" height="6.2" fill="#3358fa"/>
<rect x="78.4" y="102.1" width="12.3" height="6.2" fill="#38a4fa"/>
<rect x="90.5" y="102.1" width="6.2" height="6.2" fill="#00ffff"/>
<rect x="96.6" y="102.1" width="42.7" height="6.2" fill="#93fbb3"/>
<rect x="145.3" y="102.1" width="18.4" height="6.2" fill="#38a4fa"/>
<rect x="163.6" y="102.1" width="12.3" height="6.2" fill="#3358fa"/>
<rect x="181.9" y="102.1" width="6.2" height="6.2" fill="#0000e6"/>
<rect x="188" y="102.1" width="12.3" height="6.2" fill="#38a4fa"/>
<rect x="224.5" y="102.1" width="12.3" height="6.2" fill="#38a4fa"/>
<rect x="236.7" y="102.1" width="12.3" height="6.2" fill="#00ffff"/>
<rect x="248.9" y="102.1" width="6.2" height="6.2" fill="#38a4fa"/>
<rect x="255" y="102.1" width="12.3" height="6.2" fill="#3358fa"/>
<rect x="267.1" y="102.1" width="18.4" height="6.2" fill="#38a4fa"/>
<rect x="285.4" y="102.1" width="6.2" height="6.2" fill="#93fbb3"/>
<rect x="291.5" y="102.1" width="6.2" height="6.2" fill="#d2fa62"/>
<rect x="297.6" y="102.1" width="18.4" height="6.2" fill="#93fbb3"/>
<rect x="315.9" y="102.1" width="6.2" height="6.2" fill="#00ffff"/>
<rect x="321.9" y="102.1" width="18.4" height="6.2" fill="#93fbb3"/>
<rect x="340.2" y="102.1" width="18.4" height="6.2" fill="#d2fa62"/>
<rect x="358.5" y="102.1" width="6.2" height="6.2" fill="#93fbb3"/>
<rect x="364.6" y="102.1" width="6.2" height="6.2" fill="#00ffff"/>
<rect x="370.7" y="102.1" width="12.3" height="6.2" fill="#93fbb3"/>
<rect x="17.4" y="108.2" width="18.4" height="6.2" fill="#38a4fa"/>
<rect x="54" y="108.2" width="12.3" height="6.2" fill="#38a4fa"/>
<rect x="66.2" y="108.2" width="6.2" height="6.2" fill="#00ffff"/>
<rect x="72.3" y="108.2" width="24.5" height="6.2" fill="#38a4fa"/>
<rect x="102.7" y="108.2" width="12.3" height="6.2" fill="#93fbb3"/>
<rect x="133.2" y="108.2" width="6.2" height="6.2" fill="#00ffff"/>
<rect x="151.4" y="108.2" width="36.6" height="6.2" fill="#3358fa"/>
<rect x="188" y="108.2" width="6.2" height="6.2" fill="#38a4fa"/>
<rect x="206.2" y="108.2" width="12.3" height="6.2" fill="#3358fa"/>
<rect x="224.5" y="108.2" width="6.2" height="6.2" fill="#00ffff"/>
<rect x="230.6" y="108.2" width="12.3" height="6.2" fill="#93fbb3"/>
<rect x="242.8" y="108.2" width="6.2" height="6.2" fill="#d2fa62"/>
<rect x="248.9" y="108.2" width="6.2" height="6.2" fill="#ffff00"/>
<rect x="255" y="108.2" width="6.2" height="6.2" fill="#d2fa62"/>
<rect x="261.1" y="108.2" width="12.3" height="6.2" fill="#93fbb3"/>
<rect x="273.2" y="108.2" width="6.2" height="6.2" fill="#d2fa62"/>
<rect x="279.3" y="108.2" width="12.3" height="6.2" fill="#ffff00"/>
<rect x="291.5" y="108.2" width="6.2" height="6.2" fill="#ffb300"/>
<rect x="297.6" y="108.2" width="6.2" height="6.2" fill="#ffff00"/>
<rect x="303.7" y="108.2" width="12.3" height="6.2" fill="#d2fa62"/>
<rect x="315.9" y="108.2" width="6.2" height="6.2" fill="#00ffff"/>
<rect x="321.9" y="108.2" width="18.4" height="6.2" fill="#93fbb3"/>
<rect x="340.2" y="108.2" width="18.4" height="6.2" fill="#d2fa62"/>
<rect x="358.5" y="108.2" width="6.2" height="6.2" fill="#93fbb3"/>
<rect x="364.6" y="108.2" width="6.2" height="6.2" fill="#00ffff"/>
<rect x="370.7" y="108.2" width="6.2" height="6.2" fill="#93fbb3"/>
<rect x="11.4" y="114.3" width="18.4" height="6.2" fill="#00ffff"/>
<rect x="35.7" y="114.3" width="6.2" height="6.2" fill="#00ffff"/>
<rect x="41.8" y="114.3" width="6.2" height="6.2" fill="#93fbb3"/>
<rect x="47.9" y="114.3" width="6.2" height="6.2" fill="#00ffff"/>
<rect x="54" y="114.3" width="6.2" height="6.2" fill="#93fbb3"/>
<rect x="60.1" y="114.3" width="12.3" height="6.2" fill="#d2fa62"/>
<rect x="78.4" y="114.3" width="6.2" height="6.2" fill="#38a4fa"/>
<rect x="84.4" y="114.3" width="6.2" height="6.2" fill="#00ffff"/>
<rect x="114.9" y="114.3" width="6.2" height="6.2" fill="#00ffff"/>
<rect x="145.3" y="114.3" width="12.3" height="6.2" fill="#0000e6"/>
<rect x="163.6" y="114.3" width="6.2" height="6.2" fill="#0000e6"/>
<rect x="169.7" y="114.3" width="6.2" height="6.2" fill="#3358fa"/>
<rect x="175.8" y="114.3" width="6.2" height="6.2" fill="#0000e6"/>
<rect x="181.9" y="114.3" width="12.3" height="6.2" fill="#3358fa"/>
<rect x="194.1" y="114.3" width="18.4" height="6.2" fill="#38a4fa"/>
<rect x="218.4" y="114.3" width="6.2" height="6.2" fill="#00ffff"/>
<rect x="224.5" y="114.3" width="6.2" height="6.2" fill="#93fbb3"/>
<rect x="230.6" y="114.3" width="12.3" height="6.2" fill="#00ffff"/>
<rect x="242.8" y="114.3" width="6.2" height="6.2" fill="#93fbb3"/>
<rect x="248.9" y="114.3" width="6.2" height="6.2" fill="#ffff00"/>
<rect x="255" y="114.3" width="6.2" height="6.2" fill="#ffb300"/>
<rect x="261.1" y="114.3" width="6.2" height="6.2" fill="#ffff00"/>
<rect x="267.1" y="114.3" width="12.3" height="6.2" fill="#d2fa62"/>
<rect x="279.3" y="114.3" width="24.5" height="6.2" fill="#ffff00"/>
<rect x="303.7" y="114.3" width="12.3" height="6.2" fill="#d2fa62"/>
<rect x="315.9" y="114.3" width="24.5" height="6.2" fill="#93fbb3"/>
<rect x="340.2" y="114.3" width="18.4" height="6.2" fill="#d2fa62"/>
<rect x="17.4" y="120.4" width="12.3" height="6.2" fill="#00ffff"/>
<rect x="35.7" y="120.4" width="6.2" height="6.2" fill="#93fbb3"/>
<rect x="41.8" y="120.4" width="6.2" height="6.2" fill="#00ffff"/>
<rect x="47.9" y="120.4" width="6.2" height="6.2" fill="#93fbb3"/>
<rect x="66.2" y="120.4" width="6.2" height="6.2" fill="#d2fa62"/>
<rect x="84.4" y="120.4" width="12.3" height="6.2" fill="#00ffff"/>
<rect x="96.6" y="120.4" width="6.2" height="6.2" fill="#38a4fa"/>
<rect x="108.8" y="120.4" width="6.2" height="6.2" fill="#3358fa"/>
<rect x="114.9" y="120.4" width="6.2" height="6.2" fill="#0000e6"/>
<rect x="127.1" y="120.4" width="6.2" height="6.2" fill="#0000e6"/>
<rect x="133.2" y="120.4" width="24.5" height="6.2" fill="#3358fa"/>
<rect x="175.8" y="120.4" width="18.4" height="6.2" fill="#0000e6"/>
<rect x="194.1" y="120.4" width="6.2" height="6.2" fill="#3358fa"/>
<rect x="200.1" y="120.4" width="6.2" height="6.2" fill="#38a4fa"/>
<rect x="206.2" y="120.4" width="6.2" height="6.2" fill="#00ffff"/>
<rect x="218.4" y="120.4" width="6.2" height="6.2" fill="#93fbb3"/>
<rect x="224.5" y="120.4" width="6.2" height="6.2" fill="#d2fa62"/>
<rect x="230.6" y="120.4" width="12.3" height="6.2" fill="#93fbb3"/>
<rect x="242.8" y="120.4" width="6.2" height="6.2" fill="#d2fa62"/>
<rect x="248.9" y="120.4" width="24.5" height="6.2" fill="#ffff00"/>
<rect x="273.2" y="120.4" width="6.2" height="6.2" fill="#d2fa62"/>
<rect x="279.3" y="120.4" width="6.2" height="6.2" fill="#93fbb3"/>
<rect x="285.4" y="120.4" width="18.4" height="6.2" fill="#ffff00"/>
<rect x="303.7" y="120.4" width="12.3" height="6.2" fill="#d2fa62"/>
<rect x="315.9" y="120.4" width="24.5" height="6.2" fill="#93fbb3"/>
<rect x="340.2" y="120.4" width="6.2" height="6.2" fill="#d2fa62"/>
<rect x="23.5" y="126.5" width="6.2" height="6.2" fill="#00ffff"/>
<rect x="35.7" y="126.5" width="30.6" height="6.2" fill="#93fbb3"/>
<rect x="66.2" y="126.5" width="6.2" height="6.2" fill="#d2fa62"/>
<rect x="72.3" y="126.5" width="12.3" height="6.2" fill="#93fbb3"/>
<rect x="90.5" y="126.5" width="6.2" height="6.2" fill="#38a4fa"/>
<rect x="114.9" y="126.5" width="6.2" height="6.2" fill="#3358fa"/>
<rect x="133.2" y="126.5" width="6.2" height="6.2" fill="#3358fa"/>
<rect x="139.2" y="126.5" width="18.4" height="6.2" fill="#38a4fa"/>
<rect x="157.5" y="126.5" width="18.4" height="6.2" fill="#00ffff"/>
<rect x="175.8" y="126.5" width="6.2" height="6.2" fill="#38a4fa"/>
<rect x="181.9" y="126.5" width="12.3" height="6.2" fill="#3358fa"/>
<rect x="194.1" y="126.5" width="6.2" height="6.2" fill="#0000e6"/>
<rect x="200.1" y="126.5" width="6.2" height="6.2" fill="#3358fa"/>
<rect x="206.2" y="126.5" width="6.2" height="6.2" fill="#38a4fa"/>
<rect x="212.3" y="126.5" width="6.2" height="6.2" fill="#00ffff"/>
<rect x="218.4" y="126.5" width="12.3" height="6.2" fill="#93fbb3"/>
<rect x="230.6" y="126.5" width="6.2" height="6.2" fill="#00ffff"/>
<rect x="236.7" y="126.5" width="6.2" height="6.2" fill="#93fbb3"/>
<rect x="242.8" y="126.5" width="6.2" height="6.2" fill="#d2fa62"/>
<rect x="248.9" y="126.5" width="18.4" height="6.2" fill="#ffff00"/>
<rect x="267.1" y="126.5" width="6.2" height="6.2" fill="#d2fa62"/>
<rect x="273.2" y="126.5" width="18.4" height="6.2" fill="#93fbb3"/>
<rect x="291.5" y="126.5" width="24.5" height="6.2" fill="#d2fa62"/>
<rect x="315.9" y="126.5" width="24.5" height="6.2" fill="#93fbb3"/>
<rect x="23.5" y="132.6" width="18.4" height="6.2" fill="#d2fa62"/>
<rect x="54" y="132.6" width="6.2" height="6.2" fill="#93fbb3"/>
<rect x="60.1" y="132.6" width="12.3" height="6.2" fill="#00ffff"/>
<rect x="72.3" y="132.6" width="6.2" height="6.2" fill="#38a4fa"/>
<rect x="84.4" y="132.6" width="6.2" height="6.2" fill="#3358fa"/>
<rect x="133.2" y="132.6" width="18.4" height="6.2" fill="#3358fa"/>
<rect x="151.4" y="132.6" width="6.2" height="6.2" fill="#38a4fa"/>
<rect x="157.5" y="132.6" width="18.4" height="6.2" fill="#00ffff"/>
<rect x="175.8" y="132.6" width="6.2" height="6.2" fill="#38a4fa"/>
<rect x="181.9" y="132.6" width="12.3" height="6.2" fill="#3358fa"/>
<rect x="194.1" y="132.6" width="6.2" height="6.2" fill="#38a4fa"/>
<rect x="200.1" y="132.6" width="6.2" height="6.2" fill="#00ffff"/>
<rect x="206.2" y="132.6" width="6.2" height="6.2" fill="#38a4fa"/>
<rect x="212.3" y="132.6" width="6.2" height="6.2" fill="#00ffff"/>
<rect x="218.4" y="132.6" width="12.3" height="6.2" fill="#38a4fa"/>
<rect x="230.6" y="132.6" width="6.2" height="6.2" fill="#00ffff"/>
<rect x="236.7" y="132.6" width="6.2" height="6.2" fill="#93fbb3"/>
<rect x="242.8" y="132.6" width="6.2" height="6.2" fill="#d2fa62"/>
<rect x="248.9" y="132.6" width="30.6" height="6.2" fill="#ffff00"/>
<rect x="279.3" y="132.6" width="42.7" height="6.2" fill="#d2fa62"/>
<rect x="321.9" y="132.6" width="18.4" height="6.2" fill="#93fbb3"/>
<rect x="29.6" y="138.7" width="12.3" height="6.2" fill="#d2fa62"/>
<rect x="66.2" y="138.7" width="18.4" height="6.2" fill="#38a4fa"/>
<rect x="96.6" y="138.7" width="6.2" height="6.2" fill="#38a4fa"/>
<rect x="145.3" y="138.7" width="12.3" height="6.2" fill="#38a4fa"/>
<rect x="169.7" y="138.7" width="12.3" height="6.2" fill="#38a4fa"/>
<rect x="181.9" y="138.7" width="12.3" height="6.2" fill="#3358fa"/>
<rect x="194.1" y="138.7" width="6.2" height="6.2" fill="#38a4fa"/>
<rect x="200.1" y="138.7" width="12.3" height="6.2" fill="#00ffff"/>
<rect x="212.3" y="138.7" width="6.2" height="6.2" fill="#38a4fa"/>
<rect x="218.4" y="138.7" width="18.4" height="6.2" fill="#00ffff"/>
<rect x="236.7" y="138.7" width="12.3" height="6.2" fill="#93fbb3"/>
<rect x="248.9" y="138.7" width="6.2" height="6.2" fill="#d2fa62"/>
<rect x="255" y="138.7" width="24.5" height="6.2" fill="#ffff00"/>
<rect x="279.3" y="138.7" width="42.7" height="6.2" fill="#d2fa62"/>
<rect x="321.9" y="138.7" width="12.3" height="6.2" fill="#93fbb3"/>
<rect x="35.7" y="144.8" width="6.2" height="6.2" fill="#d2fa62"/>
<rect x="78.4" y="144.8" width="6.2" height="6.2" fill="#38a4fa"/>
<rect x="121" y="144.8" width="6.2" height="6.2" fill="#3358fa"/>
<rect x="139.2" y="144.8" width="6.2" height="6.2" fill="#38a4fa"/>
<rect x="157.5" y="144.8" width="6.2" height="6.2" fill="#38a4fa"/>
<rect x="175.8" y="144.8" width="6.2" height="6.2" fill="#00ffff"/>
<rect x="188" y="144.8" width="6.2" height="6.2" fill="#38a4fa"/>
<rect x="194.1" y="144.8" width="6.2" height="6.2" fill="#00ffff"/>
<rect x="200.1" y="144.8" width="6.2" height="6.2" fill="#93fbb3"/>
<rect x="206.2" y="144.8" width="18.4" height="6.2" fill="#00ffff"/>
<rect x="224.5" y="144.8" width="6.2" height="6.2" fill="#93fbb3"/>
<rect x="230.6" y="144.8" width="67.1" height="6.2" fill="#d2fa62"/>
<rect x="297.6" y="144.8" width="18.4" height="6.2" fill="#93fbb3"/>
<rect x="315.9" y="144.8" width="6.2" height="6.2" fill="#d2fa62"/>
<rect x="321.9" y="144.8" width="6.2" height="6.2" fill="#93fbb3"/>
<rect x="60.1" y="150.9" width="6.2" height="6.2" fill="#3358fa"/>
<rect x="139.2" y="150.9" width="6.2" height="6.2" fill="#38a4fa"/>
<rect x="157.5" y="150.9" width="6.2" height="6.2" fill="#38a4fa"/>
<rect x="163.6" y="150.9" width="12.3" height="6.2" fill="#93fbb3"/>
<rect x="175.8" y="150.9" width="36.6" height="6.2" fill="#00ffff"/>
<rect x="212.3" y="150.9" width="6.2" height="6.2" fill="#93fbb3"/>
<rect x="218.4" y="150.9" width="79.3" height="6.2" fill="#d2fa62"/>
<rect x="297.6" y="150.9" width="12.3" height="6.2" fill="#93fbb3"/>
<rect x="309.8" y="150.9" width="18.4" height="6.2" fill="#d2fa62"/>
<rect x="66.2" y="156.9" width="6.2" height="6.2" fill="#3358fa"/>
<rect x="133.2" y="156.9" width="6.2" height="6.2" fill="#38a4fa"/>
<rect x="139.2" y="156.9" width="6.2" height="6.2" fill="#00ffff"/>
<rect x="157.5" y="156.9" width="6.2" height="6.2" fill="#00ffff"/>
<rect x="163.6" y="156.9" width="12.3" height="6.2" fill="#d2fa62"/>
<rect x="175.8" y="156.9" width="6.2" height="6.2" fill="#93fbb3"/>
<rect x="188" y="156.9" width="6.2" height="6.2" fill="#00ffff"/>
<rect x="194.1" y="156.9" width="6.2" height="6.2" fill="#38a4fa"/>
<rect x="200.1" y="156.9" width="6.2" height="6.2" fill="#00ffff"/>
<rect x="206.2" y="156.9" width="6.2" height="6.2" fill="#93fbb3"/>
<rect x="212.3" y="156.9" width="54.9" height="6.2" fill="#d2fa62"/>
<rect x="267.1" y="156.9" width="6.2" height="6.2" fill="#ffff00"/>
<rect x="273.2" y="156.9" width="6.2" height="6.2" fill="#d2fa62"/>
<rect x="279.3" y="156.9" width="18.4" height="6.2" fill="#ffff00"/>
<rect x="297.6" y="156.9" width="12.3" height="6.2" fill="#d2fa62"/>
<rect x="309.8" y="156.9" width="18.4" height="6.2" fill="#ffff00"/>
<rect x="41.8" y="163" width="18.4" height="6.2" fill="#00ffff"/>
<rect x="108.8" y="163" width="6.2" height="6.2" fill="#3358fa"/>
<rect x="121" y="163" width="12.3" height="6.2" fill="#3358fa"/>
<rect x="133.2" y="163" width="6.2" height="6.2" fill="#38a4fa"/>
<rect x="139.2" y="163" width="12.3" height="6.2" fill="#00ffff"/>
<rect x="157.5" y="163" width="18.4" height="6.2" fill="#d2fa62"/>
<rect x="175.8" y="163" width="12.3" height="6.2" fill="#93fbb3"/>
<rect x="188" y="163" width="12.3" height="6.2" fill="#38a4fa"/>
<rect x="200.1" y="163" width="18.4" height="6.2" fill="#00ffff"/>
<rect x="218.4" y="163" width="6.2" height="6.2" fill="#93fbb3"/>
<rect x="224.5" y="163" width="18.4" height="6.2" fill="#d2fa62"/>
<rect x="242.8" y="163" width="6.2" height="6.2" fill="#93fbb3"/>
<rect x="248.9" y="163" width="12.3" height="6.2" fill="#d2fa62"/>
<rect x="261.1" y="163" width="18.4" height="6.2" fill="#ffff00"/>
<rect x="279.3" y="163" width="6.2" height="6.2" fill="#ffb300"/>
<rect x="285.4" y="163" width="6.2" height="6.2" fill="#ffff00"/>
<rect x="291.5" y="163" width="6.2" height="6.2" fill="#ffb300"/>
<rect x="297.6" y="163" width="12.3" height="6.2" fill="#ffff00"/>
<rect x="309.8" y="163" width="24.5" height="6.2" fill="#ffb300"/>
<rect x="47.9" y="169.1" width="12.3" height="6.2" fill="#00ffff"/>
<rect x="66.2" y="169.1" width="12.3" height="6.2" fill="#3358fa"/>
<rect x="114.9" y="169.1" width="6.2" height="6.2" fill="#3358fa"/>
<rect x="127.1" y="169.1" width="6.2" height="6.2" fill="#3358fa"/>
<rect x="133.2" y="169.1" width="6.2" height="6.2" fill="#38a4fa"/>
<rect x="145.3" y="169.1" width="30.6" height="6.2" fill="#93fbb3"/>
<rect x="175.8" y="169.1" width="12.3" height="6.2" fill="#00ffff"/>
<rect x="188" y="169.1" width="24.5" height="6.2" fill="#38a4fa"/>
<rect x="212.3" y="169.1" width="12.3" height="6.2" fill="#00ffff"/>
<rect x="224.5" y="169.1" width="12.3" height="6.2" fill="#d2fa62"/>
<rect x="236.7" y="169.1" width="24.5" height="6.2" fill="#93fbb3"/>
<rect x="261.1" y="169.1" width="6.2" height="6.2" fill="#d2fa62"/>
<rect x="267.1" y="169.1" width="12.3" height="6.2" fill="#ffff00"/>
<rect x="279.3" y="169.1" width="18.4" height="6.2" fill="#ffb300"/>
<rect x="297.6" y="169.1" width="6.2" height="6.2" fill="#ffff00"/>
<rect x="303.7" y="169.1" width="12.3" height="6.2" fill="#ffb300"/>
<rect x="54" y="175.2" width="6.2" height="6.2" fill="#00ffff"/>
<rect x="66.2" y="175.2" width="6.2" height="6.2" fill="#3358fa"/>
<rect x="108.8" y="175.2" width="18.4" height="6.2" fill="#38a4fa"/>
<rect x="127.1" y="175.2" width="6.2" height="6.2" fill="#3358fa"/>
<rect x="133.2" y="175.2" width="6.2" height="6.2" fill="#38a4fa"/>
<rect x="139.2" y="175.2" width="12.3" height="6.2" fill="#00ffff"/>
<rect x="151.4" y="175.2" width="6.2" height="6.2" fill="#93fbb3"/>
<rect x="157.5" y="175.2" width="6.2" height="6.2" fill="#00ffff"/>
<rect x="169.7" y="175.2" width="12.3" height="6.2" fill="#38a4fa"/>
<rect x="181.9" y="175.2" width="6.2" height="6.2" fill="#00ffff"/>
<rect x="188" y="175.2" width="6.2" height="6.2" fill="#38a4fa"/>
<rect x="194.1" y="175.2" width="12.3" height="6.2" fill="#00ffff"/>
<rect x="206.2" y="175.2" width="6.2" height="6.2" fill="#38a4fa"/>
<rect x="212.3" y="175.2" width="6.2" height="6.2" fill="#00ffff"/>
<rect x="218.4" y="175.2" width="6.2" height="6.2" fill="#93fbb3"/>
<rect x="224.5" y="175.2" width="12.3" height="6.2" fill="#d2fa62"/>
<rect x="236.7" y="175.2" width="18.4" height="6.2" fill="#93fbb3"/>
<rect x="255" y="175.2" width="18.4" height="6.2" fill="#d2fa62"/>
<rect x="273.2" y="175.2" width="6.2" height="6.2" fill="#ffff00"/>
<rect x="279.3" y="175.2" width="30.6" height="6.2" fill="#ffb300"/>
<rect x="309.8" y="175.2" width="6.2" height="6.2" fill="#ff7000"/>
<rect x="315.9" y="175.2" width="18.4" height="6.2" fill="#ff0000"/>
<rect x="66.2" y="181.3" width="6.2" height="6.2" fill="#3358fa"/>
<rect x="90.5" y="181.3" width="12.3" height="6.2" fill="#3358fa"/>
<rect x="108.8" y="181.3" width="24.5" height="6.2" fill="#3358fa"/>
<rect x="133.2" y="181.3" width="12.3" height="6.2" fill="#38a4fa"/>
<rect x="151.4" y="181.3" width="12.3" height="6.2" fill="#d2fa62"/>
<rect x="163.6" y="181.3" width="6.2" height="6.2" fill="#93fbb3"/>
<rect x="169.7" y="181.3" width="6.2" height="6.2" fill="#d2fa62"/>
<rect x="175.8" y="181.3" width="6.2" height="6.2" fill="#ffb300"/>
<rect x="181.9" y="181.3" width="12.3" height="6.2" fill="#ffff00"/>
<rect x="194.1" y="181.3" width="6.2" height="6.2" fill="#d2fa62"/>
<rect x="200.1" y="181.3" width="6.2" height="6.2" fill="#93fbb3"/>
<rect x="206.2" y="181.3" width="6.2" height="6.2" fill="#00ffff"/>
<rect x="212.3" y="181.3" width="12.3" height="6.2" fill="#93fbb3"/>
<rect x="224.5" y="181.3" width="18.4" height="6.2" fill="#d2fa62"/>
<rect x="242.8" y="181.3" width="6.2" height="6.2" fill="#93fbb3"/>
<rect x="248.9" y="181.3" width="12.3" height="6.2" fill="#d2fa62"/>
<rect x="261.1" y="181.3" width="30.6" height="6.2" fill="#ffff00"/>
<rect x="291.5" y="181.3" width="6.2" height="6.2" fill="#ffb300"/>
<rect x="297.6" y="181.3" width="18.4" height="6.2" fill="#ff7000"/>
<rect x="315.9" y="181.3" width="18.4" height="6.2" fill="#ff0000"/>
<rect x="90.5" y="187.4" width="12.3" height="6.2" fill="#3358fa"/>
<rect x="108.8" y="187.4" width="6.2" height="6.2" fill="#0000e6"/>
<rect x="114.9" y="187.4" width="12.3" height="6.2" fill="#3358fa"/>
<rect x="127.1" y="187.4" width="18.4" height="6.2" fill="#38a4fa"/>
<rect x="145.3" y="187.4" width="12.3" height="6.2" fill="#00ffff"/>
<rect x="157.5" y="187.4" width="6.2" height="6.2" fill="#d2fa62"/>
<rect x="163.6" y="187.4" width="6.2" height="6.2" fill="#93fbb3"/>
<rect x="169.7" y="187.4" width="6.2" height="6.2" fill="#d2fa62"/>
<rect x="175.8" y="187.4" width="18.4" height="6.2" fill="#ffff00"/>
<rect x="194.1" y="187.4" width="6.2" height="6.2" fill="#d2fa62"/>
<rect x="200.1" y="187.4" width="6.2" height="6.2" fill="#93fbb3"/>
<rect x="206.2" y="187.4" width="12.3" height="6.2" fill="#00ffff"/>
<rect x="218.4" y="187.4" width="6.2" height="6.2" fill="#93fbb3"/>
<rect x="224.5" y="187.4" width="6.2" height="6.2" fill="#d2fa62"/>
<rect x="230.6" y="187.4" width="6.2" height="6.2" fill="#ffff00"/>
<rect x="236.7" y="187.4" width="6.2" height="6.2" fill="#d2fa62"/>
<rect x="242.8" y="187.4" width="6.2" height="6.2" fill="#ffff00"/>
<rect x="248.9" y="187.4" width="12.3" height="6.2" fill="#d2fa62"/>
<rect x="261.1" y="187.4" width="18.4" height="6.2" fill="#ffff00"/>
<rect x="279.3" y="187.4" width="30.6" height="6.2" fill="#ffb300"/>
<rect x="309.8" y="187.4" width="6.2" height="6.2" fill="#ff7000"/>
<rect x="315.9" y="187.4" width="12.3" height="6.2" fill="#ff0000"/>
<rect x="90.5" y="193.5" width="12.3" height="6.2" fill="#3358fa"/>
<rect x="108.8" y="193.5" width="6.2" height="6.2" fill="#0000e6"/>
<rect x="114.9" y="193.5" width="12.3" height="6.2" fill="#3358fa"/>
<rect x="127.1" y="193.5" width="18.4" height="6.2" fill="#38a4fa"/>
<rect x="145.3" y="193.5" width="12.3" height="6.2" fill="#00ffff"/>
<rect x="157.5" y="193.5" width="30.6" height="6.2" fill="#d2fa62"/>
<rect x="188" y="193.5" width="6.2" height="6.2" fill="#93fbb3"/>
<rect x="194.1" y="193.5" width="12.3" height="6.2" fill="#00ffff"/>
<rect x="206.2" y="193.5" width="6.2" height="6.2" fill="#38a4fa"/>
<rect x="212.3" y="193.5" width="12.3" height="6.2" fill="#00ffff"/>
<rect x="224.5" y="193.5" width="6.2" height="6.2" fill="#93fbb3"/>
<rect x="230.6" y="193.5" width="6.2" height="6.2" fill="#d2fa62"/>
<rect x="236.7" y="193.5" width="12.3" height="6.2" fill="#ffff00"/>
<rect x="248.9" y="193.5" width="61" height="6.2" fill="#ffb300"/>
<rect x="309.8" y="193.5" width="6.2" height="6.2" fill="#ff7000"/>
<rect x="315.9" y="193.5" width="6.2" height="6.2" fill="#ff0000"/>
<rect x="108.8" y="199.6" width="6.2" height="6.2" fill="#0000e6"/>
<rect x="114.9" y="199.6" width="12.3" height="6.2" fill="#3358fa"/>
<rect x="127.1" y="199.6" width="18.4" height="6.2" fill="#38a4fa"/>
<rect x="145.3" y="199.6" width="12.3" height="6.2" fill="#00ffff"/>
<rect x="157.5" y="199.6" width="42.7" height="6.2" fill="#93fbb3"/>
<rect x="200.1" y="199.6" width="12.3" height="6.2" fill="#00ffff"/>
<rect x="212.3" y="199.6" width="6.2" height="6.2" fill="#38a4fa"/>
<rect x="218.4" y="199.6" width="12.3" height="6.2" fill="#00ffff"/>
<rect x="230.6" y="199.6" width="6.2" height="6.2" fill="#d2fa62"/>
<rect x="236.7" y="199.6" width="6.2" height="6.2" fill="#ffff00"/>
<rect x="242.8" y="199.6" width="30.6" height="6.2" fill="#ffb300"/>
<rect x="273.2" y="199.6" width="18.4" height="6.2" fill="#ff7000"/>
<rect x="291.5" y="199.6" width="6.2" height="6.2" fill="#ffb300"/>
<rect x="297.6" y="199.6" width="18.4" height="6.2" fill="#ff7000"/>
<rect x="315.9" y="199.6" width="12.3" height="6.2" fill="#ffb300"/>
<rect x="157.5" y="205.7" width="18.4" height="6.2" fill="#00ffff"/>
<rect x="175.8" y="205.7" width="24.5" height="6.2" fill="#93fbb3"/>
<rect x="200.1" y="205.7" width="6.2" height="6.2" fill="#d2fa62"/>
<rect x="206.2" y="205.7" width="6.2" height="6.2" fill="#93fbb3"/>
<rect x="212.3" y="205.7" width="12.3" height="6.2" fill="#00ffff"/>
<rect x="224.5" y="205.7" width="6.2" height="6.2" fill="#93fbb3"/>
<rect x="230.6" y="205.7" width="6.2" height="6.2" fill="#d2fa62"/>
<rect x="236.7" y="205.7" width="12.3" height="6.2" fill="#ffff00"/>
<rect x="248.9" y="205.7" width="12.3" height="6.2" fill="#ffb300"/>
<rect x="261.1" y="205.7" width="6.2" height="6.2" fill="#ffff00"/>
<rect x="267.1" y="205.7" width="42.7" height="6.2" fill="#ff7000"/>
<rect x="309.8" y="205.7" width="24.5" height="6.2" fill="#ffb300"/>
<rect x="163.6" y="211.8" width="12.3" height="6.2" fill="#00ffff"/>
<rect x="175.8" y="211.8" width="42.7" height="6.2" fill="#d2fa62"/>
<rect x="218.4" y="211.8" width="6.2" height="6.2" fill="#00ffff"/>
<rect x="224.5" y="211.8" width="6.2" height="6.2" fill="#93fbb3"/>
<rect x="230.6" y="211.8" width="6.2" height="6.2" fill="#d2fa62"/>
<rect x="236.7" y="211.8" width="24.5" height="6.2" fill="#ffff00"/>
<rect x="261.1" y="211.8" width="12.3" height="6.2" fill="#ffb300"/>
<rect x="273.2" y="211.8" width="61" height="6.2" fill="#ff7000"/>
<rect x="169.7" y="217.8" width="6.2" height="6.2" fill="#00ffff"/>
<rect x="175.8" y="217.8" width="24.5" height="6.2" fill="#d2fa62"/>
<rect x="200.1" y="217.8" width="12.3" height="6.2" fill="#ffff00"/>
<rect x="212.3" y="217.8" width="6.2" height="6.2" fill="#d2fa62"/>
<rect x="218.4" y="217.8" width="12.3" height="6.2" fill="#93fbb3"/>
<rect x="230.6" y="217.8" width="18.4" height="6.2" fill="#d2fa62"/>
<rect x="248.9" y="217.8" width="12.3" height="6.2" fill="#ffff00"/>
<rect x="261.1" y="217.8" width="6.2" height="6.2" fill="#ffb300"/>
<rect x="267.1" y="217.8" width="67.1" height="6.2" fill="#ff7000"/>
<rect x="175.8" y="223.9" width="24.5" height="6.2" fill="#d2fa62"/>
<rect x="200.1" y="223.9" width="12.3" height="6.2" fill="#ffff00"/>
<rect x="212.3" y="223.9" width="6.2" height="6.2" fill="#d2fa62"/>
<rect x="218.4" y="223.9" width="12.3" height="6.2" fill="#93fbb3"/>
<rect x="230.6" y="223.9" width="18.4" height="6.2" fill="#d2fa62"/>
<rect x="248.9" y="223.9" width="12.3" height="6.2" fill="#ffff00"/>
<rect x="261.1" y="223.9" width="6.2" height="6.2" fill="#ffb300"/>
<rect x="267.1" y="223.9" width="30.6" height="6.2" fill="#ff7000"/>
<rect x="303.7" y="223.9" width="24.5" height="6.2" fill="#ff7000"/>
<rect x="181.9" y="230" width="18.4" height="6.2" fill="#d2fa62"/>
<rect x="200.1" y="230" width="12.3" height="6.2" fill="#ffff00"/>
<rect x="212.3" y="230" width="6.2" height="6.2" fill="#d2fa62"/>
<rect x="218.4" y="230" width="12.3" height="6.2" fill="#93fbb3"/>
<rect x="230.6" y="230" width="12.3" height="6.2" fill="#d2fa62"/>
<rect x="242.8" y="230" width="18.4" height="6.2" fill="#ffff00"/>
<rect x="261.1" y="230" width="6.2" height="6.2" fill="#ffb300"/>
<rect x="267.1" y="230" width="18.4" height="6.2" fill="#ff7000"/>
<rect x="309.8" y="230" width="12.3" height="6.2" fill="#ff7000"/>
<rect x="188" y="236.1" width="12.3" height="6.2" fill="#d2fa62"/>
<rect x="224.5" y="236.1" width="42.7" height="6.2" fill="#ffff00"/>
<rect x="224.5" y="242.2" width="42.7" height="6.2" fill="#ffff00"/>
<rect x="230.6" y="248.3" width="30.6" height="6.2" fill="#ffff00"/>
<rect x="236.7" y="254.4" width="18.4" height="6.2" fill="#ffff00"/>
<g clip-path="url(#hcc)"><path d="M-147.68 200l164 -164M-144.84 200l164 -164M-142.00 200l164 -164M-139.16 200l164 -164M-136.32 200l164 -164M-133.48 200l164 -164M-130.64 200l164 -164M-127.80 200l164 -164M-124.96 200l164 -164M-122.12 200l164 -164M-119.28 200l164 -164M-116.44 200l164 -164M-113.60 200l164 -164M-110.76 200l164 -164M-107.92 200l164 -164M-105.08 200l164 -164M-102.24 200l164 -164M-99.40 200l164 -164M-96.56 200l164 -164M-93.72 200l164 -164M-90.88 200l164 -164M-88.04 200l164 -164M-85.20 200l164 -164M-82.36 200l164 -164M-79.52 200l164 -164M-76.68 200l164 -164M-73.84 200l164 -164M-71.00 200l164 -164M-68.16 200l164 -164M-65.32 200l164 -164M-62.48 200l164 -164M-59.64 200l164 -164M-56.80 200l164 -164M-53.96 200l164 -164M-51.12 200l164 -164M-48.28 200l164 -164M-45.44 200l164 -164M-42.60 200l164 -164M-39.76 200l164 -164M-36.92 200l164 -164M-34.08 200l164 -164M-31.24 200l164 -164M-28.40 200l164 -164M-25.56 200l164 -164M-22.72 200l164 -164M-19.88 200l164 -164M-17.04 200l164 -164M-14.20 200l164 -164M-11.36 200l164 -164M-8.52 200l164 -164M-5.68 200l164 -164M-2.84 200l164 -164M0.00 200l164 -164M2.84 200l164 -164M5.68 200l164 -164M8.52 200l164 -164M11.36 200l164 -164M14.20 200l164 -164M17.04 200l164 -164M19.88 200l164 -164M22.72 200l164 -164M25.56 200l164 -164M28.40 200l164 -164M31.24 200l164 -164M34.08 200l164 -164M36.92 200l164 -164M39.76 200l164 -164M42.60 200l164 -164M45.44 200l164 -164M48.28 200l164 -164M51.12 200l164 -164M53.96 200l164 -164M56.80 200l164 -164M59.64 200l164 -164M62.48 200l164 -164M65.32 200l164 -164M68.16 200l164 -164M71.00 200l164 -164M73.84 200l164 -164M76.68 200l164 -164M79.52 200l164 -164M82.36 200l164 -164M85.20 200l164 -164M88.04 200l164 -164M90.88 200l164 -164M93.72 200l164 -164M96.56 200l164 -164M99.40 200l164 -164M102.24 200l164 -164M105.08 200l164 -164M107.92 200l164 -164M110.76 200l164 -164M113.60 200l164 -164M116.44 200l164 -164M119.28 200l164 -164M122.12 200l164 -164M124.96 200l164 -164M127.80 200l164 -164M130.64 200l164 -164M133.48 200l164 -164M136.32 200l164 -164M139.16 200l164 -164M142.00 200l164 -164M144.84 200l164 -164M147.68 200l164 -164M150.52 200l164 -164M153.36 200l164 -164M156.20 200l164 -164M159.04 200l164 -164M161.88 200l164 -164M164.72 200l164 -164M167.56 200l164 -164M170.40 200l164 -164M173.24 200l164 -164M176.08 200l164 -164M178.92 200l164 -164M181.76 200l164 -164M184.60 200l164 -164M187.44 200l164 -164M190.28 200l164 -164M193.12 200l164 -164M195.96 200l164 -164M198.80 200l164 -164M201.64 200l164 -164M204.48 200l164 -164M207.32 200l164 -164M210.16 200l164 -164M213.00 200l164 -164M215.84 200l164 -164M218.68 200l164 -164M221.52 200l164 -164M224.36 200l164 -164M227.20 200l164 -164M230.04 200l164 -164M232.88 200l164 -164M235.72 200l164 -164M238.56 200l164 -164M241.40 200l164 -164M244.24 200l164 -164M247.08 200l164 -164M249.92 200l164 -164M252.76 200l164 -164M255.60 200l164 -164M258.44 200l164 -164M261.28 200l164 -164M264.12 200l164 -164M266.96 200l164 -164M269.80 200l164 -164M272.64 200l164 -164M275.48 200l164 -164M278.32 200l164 -164M281.16 200l164 -164M284.00 200l164 -164M286.84 200l164 -164M289.68 200l164 -164M292.52 200l164 -164M295.36 200l164 -164M298.20 200l164 -164M301.04 200l164 -164M303.88 200l164 -164M306.72 200l164 -164M309.56 200l164 -164M312.40 200l164 -164M315.24 200l164 -164M318.08 200l164 -164M320.92 200l164 -164M323.76 200l164 -164M326.60 200l164 -164M329.44 200l164 -164" stroke="#333" stroke-width="0.36" fill="none"/></g>
<path d="M17.5 28V262M23.6 28V262M29.7 28V262M35.8 28V262M41.9 28V262M48 28V262M54 28V262M60.1 28V262M66.2 28V262M72.3 28V262M78.4 28V262M84.5 28V262M90.6 28V262M96.7 28V262M102.8 28V262M108.8 28V262M114.9 28V262M121 28V262M127.1 28V262M133.2 28V262M139.3 28V262M145.4 28V262M151.5 28V262M157.6 28V262M163.7 28V262M169.8 28V262M175.8 28V262M181.9 28V262M188 28V262M194.1 28V262M200.2 28V262M206.3 28V262M212.4 28V262M218.5 28V262M224.6 28V262M230.7 28V262M236.7 28V262M242.8 28V262M248.9 28V262M255 28V262M261.1 28V262M267.2 28V262M273.3 28V262M279.4 28V262M285.5 28V262M291.6 28V262M297.6 28V262M303.7 28V262M309.8 28V262M315.9 28V262M322 28V262M328.1 28V262M334.2 28V262M340.3 28V262M346.4 28V262M352.4 28V262M358.5 28V262M364.6 28V262M370.7 28V262M376.8 28V262M382.9 28V262M389 28V262M395.1 28V262M401.2 28V262M407.3 28V262M413.3 28V262M18 23H412M18 29.1H412M18 35.2H412M18 41.3H412M18 47.4H412M18 53.5H412M18 59.6H412M18 65.7H412M18 71.7H412M18 77.8H412M18 83.9H412M18 90H412M18 96.1H412M18 102.2H412M18 108.3H412M18 114.4H412M18 120.5H412M18 126.5H412M18 132.6H412M18 138.7H412M18 144.8H412M18 150.9H412M18 157H412M18 163.1H412M18 169.2H412M18 175.3H412M18 181.4H412M18 187.4H412M18 193.5H412M18 199.6H412M18 205.7H412M18 211.8H412M18 217.9H412M18 224H412M18 230.1H412M18 236.2H412M18 242.3H412M18 248.4H412M18 254.4H412M18 260.5H412" stroke="#5a5e62" stroke-opacity="0.7" stroke-width="0.5" fill="none"/>
</g>
<path d="M26.4 118.3 L28.9 114.6 L32.7 113.3 L35.8 111.4 L38.9 110.2 L40.8 111.7 L45.2 110.8 L47.1 108.3 L53.3 106.4 L59.6 103.9 L66.5 102 L67.8 97.7 L70.9 93.9 L69 90.1 L69.6 87.6 L65.9 84.5 L72.8 83.2 L79.7 82 L82.2 76.4 L85.3 70.7 L92.2 71.3 L99.7 70.7 L101 64.4 L107.2 61.9 L108.5 58.8 L113.5 58.6 L114.7 61.3 L121 65.1 L127.3 66.3 L129.5 68.2 L130.8 71.3 L133.3 73.8 L132 78.9 L130.1 80.7 L132.6 83.2 L139.5 83.2 L145.8 83.2 L151.4 85.1 L157.1 88.3 L160.2 89.5 L162.7 93.9 L165.8 97 L170.2 97.7 L177.1 98.3 L183.4 98.9 L189.7 98.7 L195.9 98.9 L199.7 100.2 L202.2 102 L207.2 102.7 L212.2 103.9 L218.5 104.2 L222.2 102.7 L227.3 100.8 L233.5 99.5 L237.3 99.9 L242 99.5 L248.3 98.3 L253.3 96.4 L257.7 92.6 L260.2 91.4 L257.7 88.9 L258.3 85.1 L262.1 83.2 L266.4 84.5 L274.6 83.2 L278.4 81.4 L287.1 77.6 L290.9 75.1 L297.2 73.8 L303.4 73.2 L307.8 72.6 L308.4 70.7 L304.7 67.6 L299.7 66.1 L293.4 67.6 L287.1 66.6 L283.4 65.7 L285.2 61.9 L288.4 56.3 L292.1 55.1 L297.2 55.7 L302.2 53.5 L305.3 51.9 L308.4 46.3 L312.2 41.9 L314.7 40 L314 38.4 L310.4 37.2 L312.2 35.7 L314.5 33.4 L320.8 32.3 L329.9 31.8 L334.4 33 L340.8 34.3 L345.3 35.7 L349 39.3 L351.6 45 L353.5 49.4 L356 53.8 L359.8 55.7 L364.8 56.3 L369.8 58.2 L374.2 60.1 L376.1 63.8 L376.1 67 L382.3 67.6 L387.4 65.1 L393.6 63.8 L401.1 63.2 L399.3 65.7 L398.6 69.5 L396.1 72.6 L393.6 77.6 L389.2 81.4 L389.2 83.9 L383.6 82 L378 85.1 L378.6 90.1 L378 95.2 L374.2 99.5 L371.1 97 L367.3 100.2 L362.3 102.7 L359.8 106.4 L353.5 105.2 L351 104.5 L346 108.3 L341 110.2 L334.7 113.9 L328.5 117.7 L323.5 119 L317.2 121.7 L318.5 119 L321 115.2 L323.2 111.4 L320 109.4 L314.9 110.3 L310.8 114.1 L306.3 117.7 L300.9 120 L296.3 122.2 L298.2 125.9 L303.2 129.9 L305.9 131.7 L309.1 131.2 L311.3 128.6 L316.3 128.1 L320 129.5 L325.5 130.9 L323.5 133.6 L318.5 134.3 L313.4 137.4 L308.4 141.1 L305.3 144.9 L309.7 147.4 L312.2 151.8 L315.3 156.8 L318.5 161.2 L321.6 165 L322.2 169.3 L326.6 170.6 L323.5 174.4 L324.7 176.2 L322.2 180 L320.3 183.1 L318.5 186.9 L314.7 190 L311.6 193.2 L308.4 196.3 L307.2 199.4 L304.7 203.2 L299.7 206.9 L295.9 210.7 L290.9 214.5 L287.1 218.2 L280.9 220.1 L274.6 222.6 L268.3 224.5 L262.1 226.4 L255.9 226.9 L251.5 228.2 L252.8 230.7 L252.2 233.8 L249 234.5 L246.5 231.3 L247.2 228.2 L244.7 226.9 L242.2 225.7 L237.1 226.3 L232.1 225.1 L229 223.2 L227.7 218.8 L223.4 218.2 L220.8 216.3 L218.3 218.2 L213.3 219.4 L207.1 220.7 L200.8 221.9 L198.9 224.4 L198.3 228.8 L195.2 225.7 L192 226.3 L189.5 224.4 L185.1 223.2 L183.9 218.8 L182 218.2 L180.9 213.8 L178.4 211.3 L174.6 211.3 L174 207.6 L175.2 203.8 L178.4 200.7 L180.3 195.7 L179.6 190.6 L176.5 186.9 L173.4 185 L172.1 188.1 L168.4 187.5 L163.3 186.3 L158.3 187.5 L153.9 190.6 L150.8 193.2 L145.8 193.8 L139.5 193.2 L135.8 190 L132 188.1 L127 186.9 L122.3 188.1 L121 191.9 L119.8 188.1 L114.7 187.5 L108.5 186.9 L103.5 187.5 L97.2 184.4 L92.2 181.9 L87.2 178.7 L82.2 175.6 L77.2 173.7 L73.4 175 L70.9 172.5 L65.9 169.3 L60.2 167.5 L59.6 164.3 L57.1 159.9 L59.6 155.6 L60.2 151.8 L58.4 148 L54.6 144.3 L48.3 141.8 L42.1 138.6 L38.9 134.9 L33.3 132.4 L32.7 127.7 L30.8 122.7 L27.7 121.5ZM240.3 240.7 L243.4 237.6 L248.4 236.1 L254.1 236.3 L254.7 238.2 L252.2 242.6 L248.4 245.7 L245.9 247.4 L242.2 245.7 L240.3 243.2ZM319.7 204.4 L322.2 206.3 L321 210.7 L318.5 215.7 L315.9 220.7 L314.7 225.1 L312.2 220.7 L310.3 215.7 L312.2 210.7 L315.9 206.9Z" fill="none" stroke="#505050" stroke-width="0.6" stroke-linejoin="round"/>
<path d="M321.6 165 L322.2 169.3 L326.6 170.6 L323.5 174.4 L324.7 176.2 L322.2 180 L320.3 183.1 L318.5 186.9 L314.7 190 L311.6 193.2 L308.4 196.3 L307.2 199.4 L304.7 203.2 L299.7 206.9 L295.9 210.7 L290.9 214.5 L287.1 218.2 L280.9 220.1 L274.6 222.6 L268.3 224.5 L262.1 226.4 L255.9 226.9 L251.5 228.2" fill="none" stroke="#4a4a4a" stroke-width="1.3" stroke-dasharray="0.7 1.5 1.1 2.1 0.5 1.2" stroke-linejoin="round"/>
<path d="M244.4 259.3L247.5 265.2M250.6 283.5L249.8 289M237.3 314.7L238.4 321M260 337L266.2 335M282.6 313.9L286.5 309.2M301.3 290.5L303.6 284.3M303.6 260.6L303.6 266.3M306.8 247.6L309.9 242.2M316.1 231.2L321.6 225.8M326 208.2L324.7 215.1M246.5 312.5L251 310.5M259 311L259.6 308.5" stroke="#2a2a2a" stroke-width="0.55" fill="none"/><path d="M260.1 255.0l-1.1 -0.2M262.7 254.4l-0.1 -1.1M261.8 256.5l-0.3 -0.5M258.1 257.5l-1.1 -0.4M257.9 256.9l-1.1 -0.5M258.1 254.5l0.3 -0.8M260.9 259.7l1.0 -0.3M258.6 255.5l0.5 -0.1M262.5 260.5l0.5 -0.4M274.3 298.6l0.3 -0.5M293.5 289.5l0.6 -0.0M288.1 293.0l0.8 -0.3M252.0 304.2l1.3 -0.1M263.9 310.7l-0.2 -0.6M256.0 309.1l0.6 -0.6M277.3 297.1l0.3 -0.6M270.6 293.4l-1.2 -0.6M248.6 307.8l0.1 -0.9M279.7 297.2l0.6 -0.2M262.7 306.8l0.4 -0.6M267.5 299.2l-0.6 -0.3M286.6 298.2l1.4 -0.1M259.1 307.9l-0.1 -0.6M275.1 307.8l-0.1 -0.5M281.4 294.5l-0.1 -1.4M293.8 289.9l-1.0 -0.5M269.0 307.9l0.6 -0.6M254.1 308.5l1.0 -0.6M249.2 312.2l-0.1 -1.2M284.6 297.5l0.4 -0.6M289.1 293.0l-1.2 -0.8M281.4 299.3l-1.1 -0.5M274.9 299.5l-1.0 -0.6M289.6 299.2l0.7 -0.6M271.1 305.2l0.2 -0.5M250.4 312.2l0.7 -0.1M281.5 306.5l0.8 -0.8M286.2 293.4l-0.9 -0.1M266.8 307.0l-1.4 -0.3M247.7 310.9l-0.8 -0.1M253.0 303.5l0.5 -0.4M250.5 312.8l0.6 -0.4M251.9 306.2l-0.5 -1.2M268.5 310.4l-0.8 -0.4M250.5 309.5l-0.6 -1.1M276.3 307.4l1.1 -0.3M288.4 299.2l-1.2 -0.3M259.8 304.8l-0.7 -0.7M266.9 311.1l1.0 -0.6M292.8 290.6l0.6 -1.1M254.0 304.7l-0.9 -0.1M258.1 306.8l0.4 -1.3M274.1 296.1l-0.4 -0.5M246.7 311.0l0.6 -0.2M265.3 305.5l-1.2 -0.4M263.0 323.3l1.1 -0.6M268.5 319.4l-1.1 -0.1M266.0 327.0l0.5 -0.9M290.4 231.7l0.5 -0.2M289.6 258.2l-1.1 -0.1" stroke="#333" stroke-width="0.6" stroke-linecap="round" fill="none"/><ellipse cx="274.8" cy="262" rx="3.9" ry="1.5" transform="rotate(-25 274.8 262)" fill="none" stroke="#2a2a2a" stroke-width="0.55"/>
<path d="M17.6 18.5H414.7" stroke="#000" stroke-width="1.1"/><path d="M18.1 18.5V347.3" stroke="#444" stroke-width="1.1"/><path d="M414.2 18.5V347.8M17.6 347.3H414.7" stroke="#555" stroke-width="1.1" fill="none"/>
<path d="M68.6 18.5v3M68.6 347.0v-3M129.6 18.5v3M129.6 347.0v-3M190.6 18.5v3M190.6 347.0v-3M251.5 18.5v3M251.5 347.0v-3M312.5 18.5v3M312.5 347.0v-3M373.5 18.5v3M373.5 347.0v-3M18.5 302.3h3M414.5 302.3h-3M18.5 241.5h3M414.5 241.5h-3M18.5 180.8h3M414.5 180.8h-3M18.5 120h3M414.5 120h-3M18.5 59.2h3M414.5 59.2h-3" stroke="#333" stroke-width="0.6" fill="none"/>
<g font-size="10" fill="#111" stroke="#111" stroke-width="0.15" text-anchor="middle">
<text x="68.6" y="15.2">80°E</text><text x="68.6" y="360">80°E</text>
<text x="129.6" y="15.2">90°E</text><text x="129.6" y="360">90°E</text>
<text x="190.6" y="15.2">100°E</text><text x="190.6" y="360">100°E</text>
<text x="251.5" y="15.2">110°E</text><text x="251.5" y="360">110°E</text>
<text x="312.5" y="15.2">120°E</text><text x="312.5" y="360">120°E</text>
<text x="373.5" y="15.2">130°E</text><text x="373.5" y="360">130°E</text>
<text transform="translate(15.2 302.3) rotate(-90)">10°N</text><text transform="translate(427.3 302.3) rotate(-90)">10°N</text>
<text transform="translate(15.2 241.5) rotate(-90)">20°N</text><text transform="translate(427.3 241.5) rotate(-90)">20°N</text>
<text transform="translate(15.2 180.8) rotate(-90)">30°N</text><text transform="translate(427.3 180.8) rotate(-90)">30°N</text>
<text transform="translate(15.2 120) rotate(-90)">40°N</text><text transform="translate(427.3 120) rotate(-90)">40°N</text>
<text transform="translate(15.2 59.2) rotate(-90)">50°N</text><text transform="translate(427.3 59.2) rotate(-90)">50°N</text>
</g>
<g font-size="11" fill="#000" stroke="#000" stroke-width="0.18">
<text x="30.1" y="222.6" font-size="11.3">XCO<tspan font-size="7.6" dy="2">2ano</tspan><tspan dy="-2">(ppm)</tspan></text>
<rect x="24.6" y="230.3" width="28.1" height="14.4" fill="#0000e6" stroke="#8c8c8c" stroke-width="0.6"/>
<rect x="127.5" y="230.3" width="28.1" height="14.4" fill="#d2fa62" stroke="#8c8c8c" stroke-width="0.6"/>
<text x="57.5" y="241.8">−1.55 − −0.57</text>
<text x="160.9" y="241.8">0.73 − 1.08</text>
<rect x="24.6" y="249.5" width="28.1" height="14.4" fill="#3358fa" stroke="#8c8c8c" stroke-width="0.6"/>
<rect x="127.5" y="249.5" width="28.1" height="14.4" fill="#ffff00" stroke="#8c8c8c" stroke-width="0.6"/>
<text x="57.5" y="261">−0.56 − −0.16</text>
<text x="160.9" y="261">1.09 − 1.46</text>
<rect x="24.6" y="268.7" width="28.1" height="14.4" fill="#38a4fa" stroke="#8c8c8c" stroke-width="0.6"/>
<rect x="127.5" y="268.7" width="28.1" height="14.4" fill="#ffb300" stroke="#8c8c8c" stroke-width="0.6"/>
<text x="57.5" y="280.2">−0.15 − 0.14</text>
<text x="160.9" y="280.2">1.47 − 1.85</text>
<rect x="24.6" y="287.9" width="28.1" height="14.4" fill="#00ffff" stroke="#8c8c8c" stroke-width="0.6"/>
<rect x="127.5" y="287.9" width="28.1" height="14.4" fill="#ff7000" stroke="#8c8c8c" stroke-width="0.6"/>
<text x="57.5" y="299.4">0.15 − 0.41</text>
<text x="160.9" y="299.4">1.86 − 2.28</text>
<rect x="24.6" y="307.1" width="28.1" height="14.4" fill="#93fbb3" stroke="#8c8c8c" stroke-width="0.6"/>
<rect x="127.5" y="307.1" width="28.1" height="14.4" fill="#ff0000" stroke="#8c8c8c" stroke-width="0.6"/>
<text x="57.5" y="318.6">0.42 − 0.72</text>
<text x="160.9" y="318.6">2.29 − 3.24</text>
<rect x="22.5" y="326.4" width="18" height="9.1" fill="#fff" stroke="#3a3a3a" stroke-width="0.8"/>
<text x="44" y="334.7">National boundaries</text>
<clipPath id="lhc"><rect x="142.2" y="325.4" width="18.6" height="10"/></clipPath><g clip-path="url(#lhc)"><path d="M127.10 336l11 -11M131.20 336l11 -11M135.30 336l11 -11M139.40 336l11 -11M143.50 336l11 -11M147.60 336l11 -11M151.70 336l11 -11M155.80 336l11 -11M159.90 336l11 -11" stroke="#555" stroke-width="0.45" fill="none"/></g>
<rect x="142.4" y="325.6" width="18.3" height="9.7" fill="none" stroke="#909090" stroke-width="0.8"/>
<text x="164.5" y="334.7">Background area</text>
</g>
<rect x="290.2" y="336.1" width="82.5" height="4.2" fill="#fff" stroke="#333" stroke-width="0.7"/><rect x="290.2" y="336.1" width="41.5" height="4.2" fill="#000"/>
<g font-size="10" fill="#111" stroke="#111" stroke-width="0.15"><text x="290.4" y="331.6" text-anchor="middle">0</text><text x="331.7" y="331.6" text-anchor="middle">750</text><text x="362.6" y="331.6">1500 km</text></g>
<text x="401.6" y="28.3" font-family="Liberation Sans, sans-serif" font-size="5.6" font-weight="bold" text-anchor="middle" fill="#000">N</text>
<path d="M401.4 30L396.5 45.6L401.4 41.2Z" fill="#000" stroke="#000" stroke-width="0.4"/><path d="M401.4 30L406 45.6L401.4 41.2Z" fill="#fff" stroke="#000" stroke-width="0.5"/>
</g>
<text x="438.3" y="771.8" font-size="18" text-anchor="middle" fill="#000">(<tspan font-weight="bold">c</tspan>)</text>
</svg></body></html>
